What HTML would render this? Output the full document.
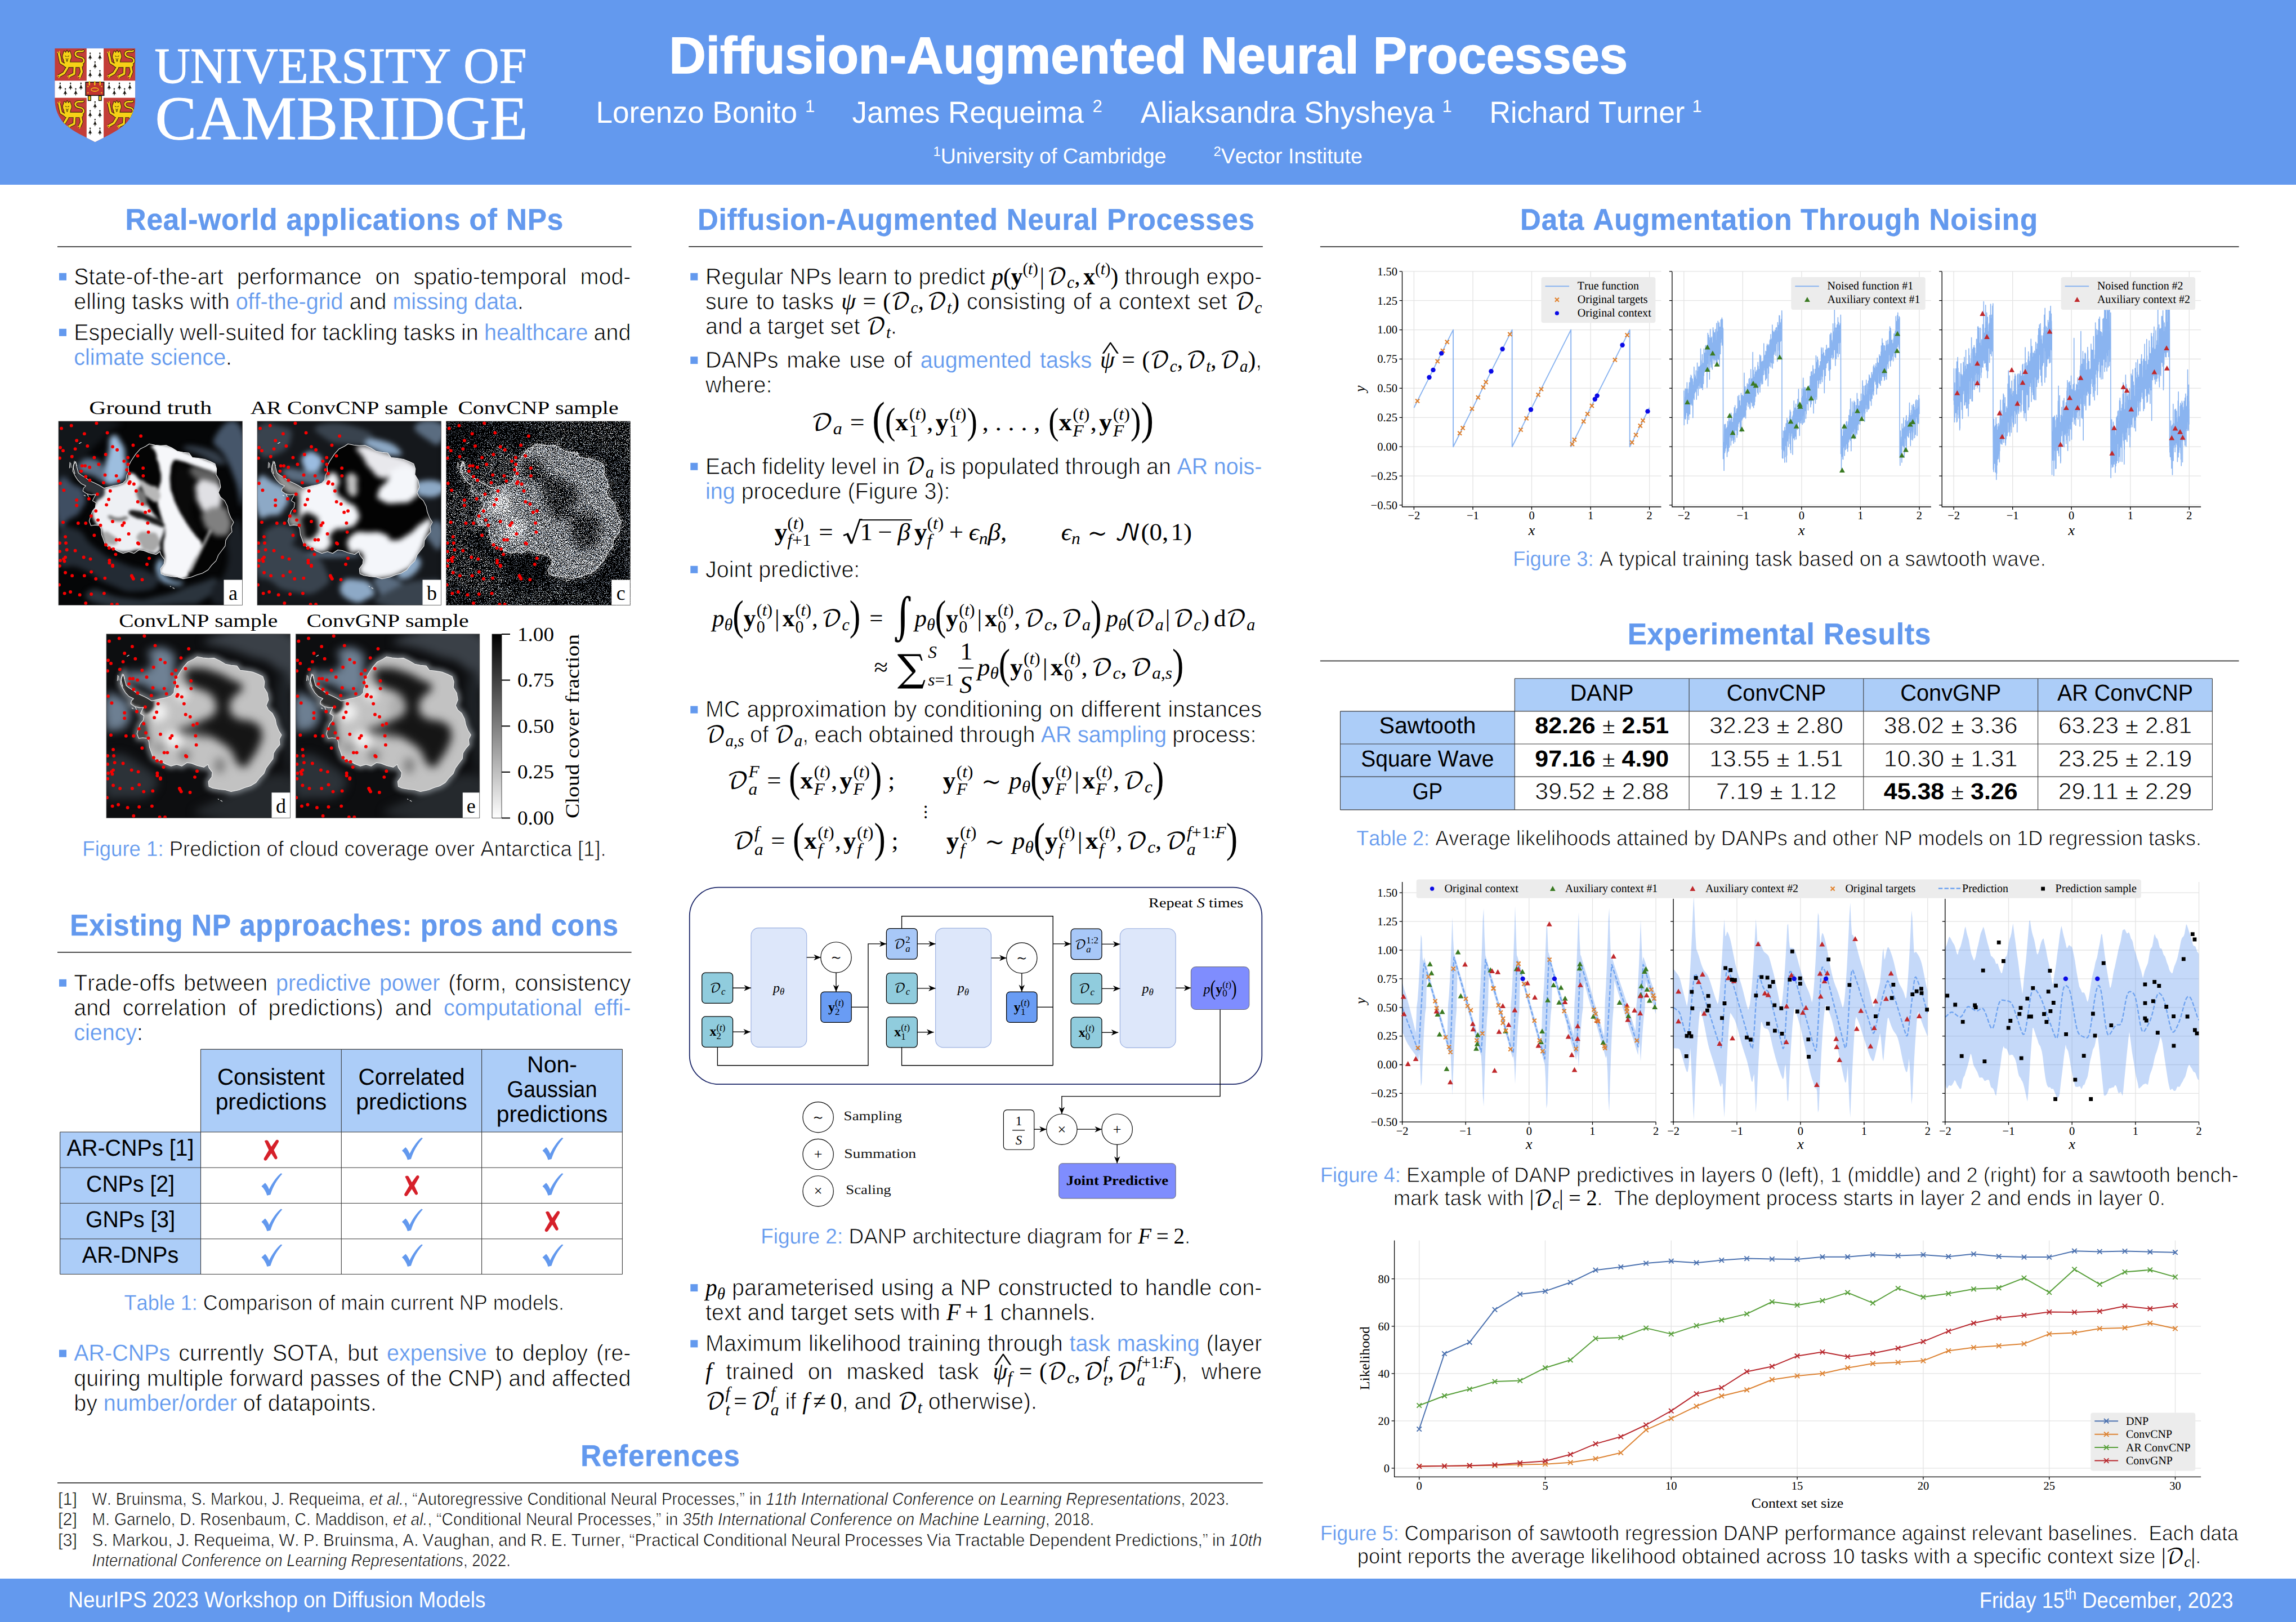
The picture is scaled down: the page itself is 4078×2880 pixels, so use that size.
<!DOCTYPE html>
<html lang="en">
<head>
<meta charset="utf-8">
<title>Diffusion-Augmented Neural Processes</title>
<style>
html,body{margin:0;padding:0;background:#fff;}
body{width:4078px;height:2880px;position:relative;font-family:"Liberation Sans",sans-serif;}
#poster{position:absolute;left:0;top:0;width:4078px;height:2880px;background:#fff;overflow:hidden;}
#hdr{position:absolute;left:0;top:0;width:4078px;height:328px;background:#6399EE;}
#ftr{position:absolute;left:0;top:2803px;width:4078px;height:77px;background:#6399EE;}
#content{position:absolute;left:0;top:0;width:4078px;height:2880px;}
svg text{font-kerning:none;font-variant-ligatures:none;white-space:pre;text-rendering:geometricPrecision;}
</style>
</head>
<body>
<div id="poster">
<header id="hdr"></header>
<footer id="ftr"></footer>
<svg id="content" width="4078" height="2880" viewBox="0 0 4078 2880">
<g id="crest" transform="translate(90,78) scale(0.110957)"><defs><clipPath id="shc"><path d="M65 70 H1355 V880 C1352 1010 1320 1120 1240 1230 C1150 1340 1010 1420 848 1500 L710 1570 L575 1500 C410 1420 270 1340 180 1230 C100 1120 68 1010 65 880 Z"/></clipPath><g id="lion"><path d="M385 215 C470 210 450 120 370 115 C290 105 280 30 350 20 C390 15 410 30 430 12" stroke="#1d1a05" stroke-width="42" fill="none" stroke-linecap="round" stroke-linejoin="round"/><path d="M160 235 L390 235" stroke="#1d1a05" stroke-width="94" fill="none" stroke-linecap="round" stroke-linejoin="round"/><path d="M150 250 L70 200 L40 60" stroke="#1d1a05" stroke-width="50" fill="none" stroke-linecap="round" stroke-linejoin="round"/><path d="M175 280 L120 370 L50 410" stroke="#1d1a05" stroke-width="52" fill="none" stroke-linecap="round" stroke-linejoin="round"/><path d="M290 280 L285 380 L210 415" stroke="#1d1a05" stroke-width="50" fill="none" stroke-linecap="round" stroke-linejoin="round"/><path d="M385 250 L405 350 L375 420" stroke="#1d1a05" stroke-width="52" fill="none" stroke-linecap="round" stroke-linejoin="round"/><path d="M110 60 L125 15 L150 45 L170 5 L190 45 L215 15 L230 60 C245 90 240 130 225 150 L215 200 L170 215 L125 200 L115 150 C100 130 95 90 110 60Z" fill="#1d1a05" stroke="#1d1a05" stroke-width="16" stroke-linejoin="round"/><path d="M385 215 C470 210 450 120 370 115 C290 105 280 30 350 20 C390 15 410 30 430 12" stroke="#F7D117" stroke-width="26" fill="none" stroke-linecap="round" stroke-linejoin="round"/><path d="M160 235 L390 235" stroke="#F7D117" stroke-width="78" fill="none" stroke-linecap="round" stroke-linejoin="round"/><path d="M150 250 L70 200 L40 60" stroke="#F7D117" stroke-width="34" fill="none" stroke-linecap="round" stroke-linejoin="round"/><path d="M175 280 L120 370 L50 410" stroke="#F7D117" stroke-width="36" fill="none" stroke-linecap="round" stroke-linejoin="round"/><path d="M290 280 L285 380 L210 415" stroke="#F7D117" stroke-width="34" fill="none" stroke-linecap="round" stroke-linejoin="round"/><path d="M385 250 L405 350 L375 420" stroke="#F7D117" stroke-width="36" fill="none" stroke-linecap="round" stroke-linejoin="round"/><path d="M110 60 L125 15 L150 45 L170 5 L190 45 L215 15 L230 60 C245 90 240 130 225 150 L215 200 L170 215 L125 200 L115 150 C100 130 95 90 110 60Z" fill="#F7D117"/><path d="M140 95 l20 8 M200 95 l-20 8 M150 140 q20 22 40 0 M160 160 l10 25 l10 -25" stroke="#1d1a05" stroke-width="9" fill="none" stroke-linecap="round"/><path d="M40 405 l-25 12 M55 420 l-20 22 M205 410 l-25 12 M215 425 l-20 22 M370 415 l-25 14 M385 428 l-15 24 M35 55 l-18 -22 M50 50 l-2 -30" stroke="#F7D117" stroke-width="14" fill="none" stroke-linecap="round"/></g><path id="erm" d="M0 -62 a11 11 0 1 1 -0.1 0 Z M0 -42 C5 -10 14 10 32 34 L10 26 L0 62 L-10 26 L-32 34 C-14 10 -5 -10 0 -42 Z" fill="#15130c"/></defs><g clip-path="url(#shc)"><rect x="60" y="60" width="1300" height="1520" fill="#C33D38"/><rect x="575" y="60" width="273" height="1520" fill="#fff"/><rect x="60" y="588" width="1300" height="274" fill="#fff"/><use href="#lion" transform="translate(92,98) scale(1.0)"/><use href="#lion" transform="translate(892,98) scale(1.0)"/><use href="#lion" transform="translate(98,905) scale(0.98)"/><use href="#lion" transform="translate(892,905) scale(0.98)"/><use href="#erm" x="632" y="200"/><use href="#erm" x="788" y="200"/><use href="#erm" x="710" y="340"/><use href="#erm" x="632" y="480"/><use href="#erm" x="788" y="480"/><use href="#erm" x="710" y="980"/><use href="#erm" x="632" y="1120"/><use href="#erm" x="788" y="1120"/><use href="#erm" x="710" y="1260"/><use href="#erm" x="632" y="1400"/><use href="#erm" x="788" y="1400"/><use href="#erm" x="152" y="680"/><use href="#erm" x="318" y="680"/><use href="#erm" x="485" y="680"/><use href="#erm" x="235" y="770"/><use href="#erm" x="401" y="770"/><use href="#erm" x="935" y="680"/><use href="#erm" x="1100" y="680"/><use href="#erm" x="1267" y="680"/><use href="#erm" x="1018" y="770"/><use href="#erm" x="1183" y="770"/><path d="M600 830 h42 v76 h-42z M770 830 h42 v76 h-42z" fill="#F7D117" stroke="#15130c" stroke-width="12"/><rect x="560" y="612" width="293" height="212" fill="#C0322E" stroke="#15130c" stroke-width="14"/><ellipse cx="706" cy="730" rx="58" ry="27" fill="none" stroke="#F7D117" stroke-width="12"/><path d="M620 602 v52 M706 602 v52 M790 602 v52" stroke="#F7D117" stroke-width="20" stroke-linecap="round"/><g fill="#F7D117"><circle cx="598" cy="682" r="10"/><circle cx="815" cy="682" r="10"/><circle cx="598" cy="782" r="10"/><circle cx="815" cy="782" r="10"/></g></g></g>
<g stroke="#fff" stroke-width="1.1" stroke-linejoin="round">
<g transform="translate(274.5,146.8) scale(0.9756,1)"><text font-family="'Liberation Serif', serif" font-size="90" fill="#fff"><tspan x="0" y="0">UNIVERSITY OF</tspan></text></g>
<g transform="translate(275.5,247) scale(1.0029,1)"><text font-family="'Liberation Serif', serif" font-size="110" fill="#fff"><tspan x="0" y="0">CAMBRIDGE</tspan></text></g>
</g>
<g stroke="#fff" stroke-width="1.6" stroke-linejoin="round"><g transform="translate(1188.5,130) scale(0.9824,1)"><text font-family="'Liberation Sans', sans-serif" font-weight="bold" font-size="92" fill="#fff"><tspan x="0" y="0">Diffusion-Augmented Neural Processes</tspan></text></g></g>
<g transform="translate(1058.5,217.5) scale(0.9841,1)"><text font-family="'Liberation Sans', sans-serif" font-size="54" fill="#fff"><tspan x="0" y="0">Lorenzo Bonito</tspan></text></g><g transform="translate(1430,199.3)"><text font-family="'Liberation Sans', sans-serif" font-size="31" fill="#fff"><tspan x="0" y="0">1</tspan></text></g>
<g transform="translate(1513.5,217.5) scale(0.9793,1)"><text font-family="'Liberation Sans', sans-serif" font-size="54" fill="#fff"><tspan x="0" y="0">James Requeima</tspan></text></g><g transform="translate(1940.5,199.3)"><text font-family="'Liberation Sans', sans-serif" font-size="31" fill="#fff"><tspan x="0" y="0">2</tspan></text></g>
<g transform="translate(2026,217.5) scale(0.9764,1)"><text font-family="'Liberation Sans', sans-serif" font-size="54" fill="#fff"><tspan x="0" y="0">Aliaksandra Shysheya</tspan></text></g><g transform="translate(2561.5,199.3)"><text font-family="'Liberation Sans', sans-serif" font-size="31" fill="#fff"><tspan x="0" y="0">1</tspan></text></g>
<g transform="translate(2645.4,217.5) scale(0.9636,1)"><text font-family="'Liberation Sans', sans-serif" font-size="54" fill="#fff"><tspan x="0" y="0">Richard Turner</tspan></text></g><g transform="translate(3005.5,199.3)"><text font-family="'Liberation Sans', sans-serif" font-size="31" fill="#fff"><tspan x="0" y="0">1</tspan></text></g>
<g transform="translate(1657.5,290) scale(0.9885,1)"><text font-family="'Liberation Sans', sans-serif" font-size="38" fill="#fff"><tspan x="0" y="-13" font-size="24">1</tspan><tspan x="13.35" y="0">University of Cambridge</tspan></text></g>
<g transform="translate(2155.4,290) scale(0.9917,1)"><text font-family="'Liberation Sans', sans-serif" font-size="38" fill="#fff"><tspan x="0" y="-13" font-size="24">2</tspan><tspan x="13.35" y="0">Vector Institute</tspan></text></g>
<g transform="translate(121.3,2854) scale(0.9207,1)"><text font-family="'Liberation Sans', sans-serif" font-size="40" fill="#fff"><tspan x="0" y="0">NeurIPS 2023 Workshop on Diffusion Models</tspan></text></g>
<g transform="translate(3515.8,2854.6) scale(0.9070,1)"><text font-family="'Liberation Sans', sans-serif" font-size="40" fill="#fff"><tspan x="0" y="0">Friday 15</tspan><tspan x="166.74" y="-15" font-size="28">th</tspan><tspan x="190.09" y="0"> December, 2023</tspan></text></g>
<g stroke="#6399EE" stroke-width="0.5" stroke-linejoin="round"><g transform="translate(222.5,408.1) scale(0.9592,1)"><text font-family="'Liberation Sans', sans-serif" font-weight="bold" font-size="53.5" fill="#6399EE"><tspan x="0" y="0" letter-spacing="0.9">Real-world applications of NPs</tspan></text></g></g><rect x="102" y="437.3" width="1019.6" height="1.6" fill="#222"/>
<rect x="105" y="484.8" width="13" height="13" fill="#6399EE"/>
<g transform="translate(131.2,504.5) scale(0.9630,1)"><text font-family="'Liberation Sans', sans-serif" font-size="41" fill="#000" word-spacing="13.57" stroke="#fff" stroke-width="0.9"><tspan x="0" y="0">State-of-the-art performance on spatio-temporal mod-</tspan></text></g>
<g transform="translate(131.2,549.2) scale(0.9630,1)"><text font-family="'Liberation Sans', sans-serif" font-size="41" fill="#000" stroke="#fff" stroke-width="0.9"><tspan x="0" y="0">elling tasks with </tspan><tspan x="298.51" y="0" fill="#6399EE" stroke="#fff" stroke-width="0.3">off-the-grid</tspan><tspan x="496.76" y="0"> and </tspan><tspan x="587.95" y="0" fill="#6399EE" stroke="#fff" stroke-width="0.3">missing data</tspan><tspan x="818.12" y="0">.</tspan></text></g>
<rect x="105" y="583.8" width="13" height="13" fill="#6399EE"/>
<g transform="translate(131.2,603.5) scale(0.9630,1)"><text font-family="'Liberation Sans', sans-serif" font-size="41" fill="#000" word-spacing="-0.72" stroke="#fff" stroke-width="0.9"><tspan x="0" y="0">Especially well-suited for tackling tasks in </tspan><tspan x="756.77" y="0" fill="#6399EE" stroke="#fff" stroke-width="0.3">healthcare</tspan><tspan x="948.23" y="0"> and</tspan></text></g>
<g transform="translate(131.2,647.5) scale(0.9630,1)"><text font-family="'Liberation Sans', sans-serif" font-size="41" fill="#000" stroke="#fff" stroke-width="0.9"><tspan x="0" y="0" fill="#6399EE" stroke="#fff" stroke-width="0.3">climate science</tspan><tspan x="280.27" y="0">.</tspan></text></g>
<g transform="translate(146.3,1519.8) scale(0.9618,1)"><text font-family="'Liberation Sans', sans-serif" font-size="38" fill="#000" stroke="#fff" stroke-width="0.9"><tspan x="0" y="0" fill="#6399EE" stroke="#fff" stroke-width="0.3">Figure 1: </tspan><tspan x="160.52" y="0">Prediction of cloud coverage over Antarctica [1].</tspan></text></g>
<g stroke="#6399EE" stroke-width="0.5" stroke-linejoin="round"><g transform="translate(124.3,1660.8) scale(0.9334,1)"><text font-family="'Liberation Sans', sans-serif" font-weight="bold" font-size="53.5" fill="#6399EE"><tspan x="0" y="0" letter-spacing="0.9">Existing NP approaches: pros and cons</tspan></text></g></g><rect x="102" y="1690" width="1019.6" height="1.6" fill="#222"/>
<rect x="105" y="1738.8" width="13" height="13" fill="#6399EE"/>
<g transform="translate(131.2,1758.5) scale(0.9630,1)"><text font-family="'Liberation Sans', sans-serif" font-size="41" fill="#000" word-spacing="4.02" stroke="#fff" stroke-width="0.9"><tspan x="0" y="0">Trade-offs between </tspan><tspan x="372.68" y="0" fill="#6399EE" stroke="#fff" stroke-width="0.3">predictive power</tspan><tspan x="675.23" y="0"> (form, consistency</tspan></text></g>
<g transform="translate(131.2,1803) scale(0.9630,1)"><text font-family="'Liberation Sans', sans-serif" font-size="41" fill="#000" word-spacing="10.16" stroke="#fff" stroke-width="0.9"><tspan x="0" y="0">and correlation of predictions) and </tspan><tspan x="682.14" y="0" fill="#6399EE" stroke="#fff" stroke-width="0.3">computational effi-</tspan></text></g>
<g transform="translate(131.2,1846.9) scale(0.9630,1)"><text font-family="'Liberation Sans', sans-serif" font-size="41" fill="#000" stroke="#fff" stroke-width="0.9"><tspan x="0" y="0" fill="#6399EE" stroke="#fff" stroke-width="0.3">ciency</tspan><tspan x="116.21" y="0">:</tspan></text></g>
<rect x="356.5" y="1863.1" width="748.9" height="146.9" fill="#ACCDF8"/>
<rect x="106.6" y="2010" width="249.9" height="252.5" fill="#ACCDF8"/>
<path d="M356.5 1863.1H1105.4M106.6 2010H1105.4M106.6 2073.2H1105.4M106.6 2136.5H1105.4M106.6 2199.7H1105.4M106.6 2262.5H1105.4M106.6 2010V2262.5M356.5 1863.1V2262.5M606.3 1863.1V2262.5M855.6 1863.1V2262.5M1105.4 1863.1V2262.5" stroke="#3a3a3a" stroke-width="1.1" fill="none"/>
<g transform="translate(385.9,1925.9) scale(0.9860,1)"><text font-family="'Liberation Sans', sans-serif" font-size="41" fill="#000"><tspan x="0" y="0">Consistent</tspan></text></g>
<g transform="translate(382.65,1970.3) scale(0.9961,1)"><text font-family="'Liberation Sans', sans-serif" font-size="41" fill="#000"><tspan x="0" y="0">predictions</tspan></text></g>
<g transform="translate(636.45,1925.9) scale(0.9873,1)"><text font-family="'Liberation Sans', sans-serif" font-size="41" fill="#000"><tspan x="0" y="0">Correlated</tspan></text></g>
<g transform="translate(632.2,1970.3) scale(0.9961,1)"><text font-family="'Liberation Sans', sans-serif" font-size="41" fill="#000"><tspan x="0" y="0">predictions</tspan></text></g>
<g transform="translate(936,1903.9) scale(1.0015,1)"><text font-family="'Liberation Sans', sans-serif" font-size="41" fill="#000"><tspan x="0" y="0">Non-</tspan></text></g>
<g transform="translate(900.5,1947.8) scale(0.9237,1)"><text font-family="'Liberation Sans', sans-serif" font-size="41" fill="#000"><tspan x="0" y="0">Gaussian</tspan></text></g>
<g transform="translate(881.75,1992.2) scale(0.9961,1)"><text font-family="'Liberation Sans', sans-serif" font-size="41" fill="#000"><tspan x="0" y="0">predictions</tspan></text></g>
<g transform="translate(118.55,2052.3) scale(0.9631,1)"><text font-family="'Liberation Sans', sans-serif" font-size="41" fill="#000"><tspan x="0" y="0">AR-CNPs [1]</tspan></text></g>
<g transform="translate(153.05,2115.6) scale(0.9571,1)"><text font-family="'Liberation Sans', sans-serif" font-size="41" fill="#000"><tspan x="0" y="0">CNPs [2]</tspan></text></g>
<g transform="translate(152.05,2178.8) scale(0.9560,1)"><text font-family="'Liberation Sans', sans-serif" font-size="41" fill="#000"><tspan x="0" y="0">GNPs [3]</tspan></text></g>
<g transform="translate(145.8,2242) scale(0.9653,1)"><text font-family="'Liberation Sans', sans-serif" font-size="41" fill="#000"><tspan x="0" y="0">AR-DNPs</tspan></text></g>
<path transform="translate(481.9,2042.1) scale(1)" d="M-12 -16 C-10 -18 -7 -18 -5.5 -16 L0 -6 L8 -17 C10 -19.500 14 -18 13 -14.500 L4.5 0 L10.5 12.5 C11.5 15.5 8 17.5 6 15.5 L0 6 L-8 17.5 C-10 20 -14.500 18 -13 14.500 L-4.500 0 Z" fill="#D6202A"/>
<path transform="translate(731.45,2039.6) scale(1)" d="M-17.5 3.5 L-11 -2.5 C-8 0.5 -5.5 4.5 -4 9 C2 -3 9.5 -13.5 17 -19.5 L19.5 -18.5 C10 -8 3 4 -1.5 18.5 L-7.5 20 C-9.500 13 -13 7.5 -17.5 3.500 Z" fill="#6399EE"/>
<path transform="translate(981,2039.6) scale(1)" d="M-17.5 3.5 L-11 -2.5 C-8 0.5 -5.5 4.5 -4 9 C2 -3 9.5 -13.5 17 -19.5 L19.5 -18.5 C10 -8 3 4 -1.5 18.5 L-7.5 20 C-9.500 13 -13 7.5 -17.5 3.500 Z" fill="#6399EE"/>
<path transform="translate(481.9,2102.85) scale(1)" d="M-17.5 3.5 L-11 -2.5 C-8 0.5 -5.5 4.5 -4 9 C2 -3 9.5 -13.5 17 -19.5 L19.5 -18.5 C10 -8 3 4 -1.5 18.5 L-7.5 20 C-9.500 13 -13 7.5 -17.5 3.500 Z" fill="#6399EE"/>
<path transform="translate(731.45,2105.35) scale(1)" d="M-12 -16 C-10 -18 -7 -18 -5.5 -16 L0 -6 L8 -17 C10 -19.500 14 -18 13 -14.500 L4.5 0 L10.5 12.5 C11.5 15.5 8 17.5 6 15.5 L0 6 L-8 17.5 C-10 20 -14.500 18 -13 14.500 L-4.500 0 Z" fill="#D6202A"/>
<path transform="translate(981,2102.85) scale(1)" d="M-17.5 3.5 L-11 -2.5 C-8 0.5 -5.5 4.5 -4 9 C2 -3 9.5 -13.5 17 -19.5 L19.5 -18.5 C10 -8 3 4 -1.5 18.5 L-7.5 20 C-9.500 13 -13 7.5 -17.5 3.500 Z" fill="#6399EE"/>
<path transform="translate(481.9,2166.1) scale(1)" d="M-17.5 3.5 L-11 -2.5 C-8 0.5 -5.5 4.5 -4 9 C2 -3 9.5 -13.5 17 -19.5 L19.5 -18.5 C10 -8 3 4 -1.5 18.5 L-7.5 20 C-9.500 13 -13 7.5 -17.5 3.500 Z" fill="#6399EE"/>
<path transform="translate(731.45,2166.1) scale(1)" d="M-17.5 3.5 L-11 -2.5 C-8 0.5 -5.5 4.5 -4 9 C2 -3 9.5 -13.5 17 -19.5 L19.5 -18.5 C10 -8 3 4 -1.5 18.5 L-7.5 20 C-9.500 13 -13 7.5 -17.5 3.500 Z" fill="#6399EE"/>
<path transform="translate(981,2168.6) scale(1)" d="M-12 -16 C-10 -18 -7 -18 -5.5 -16 L0 -6 L8 -17 C10 -19.500 14 -18 13 -14.500 L4.5 0 L10.5 12.5 C11.5 15.5 8 17.5 6 15.5 L0 6 L-8 17.5 C-10 20 -14.500 18 -13 14.500 L-4.500 0 Z" fill="#D6202A"/>
<path transform="translate(481.9,2229.1) scale(1)" d="M-17.5 3.5 L-11 -2.5 C-8 0.5 -5.5 4.5 -4 9 C2 -3 9.5 -13.5 17 -19.5 L19.5 -18.5 C10 -8 3 4 -1.5 18.5 L-7.5 20 C-9.500 13 -13 7.5 -17.5 3.500 Z" fill="#6399EE"/>
<path transform="translate(731.45,2229.1) scale(1)" d="M-17.5 3.5 L-11 -2.5 C-8 0.5 -5.5 4.5 -4 9 C2 -3 9.5 -13.5 17 -19.5 L19.5 -18.5 C10 -8 3 4 -1.5 18.5 L-7.5 20 C-9.500 13 -13 7.5 -17.5 3.500 Z" fill="#6399EE"/>
<path transform="translate(981,2229.1) scale(1)" d="M-17.5 3.5 L-11 -2.5 C-8 0.5 -5.5 4.5 -4 9 C2 -3 9.5 -13.5 17 -19.5 L19.5 -18.5 C10 -8 3 4 -1.5 18.5 L-7.5 20 C-9.500 13 -13 7.5 -17.5 3.500 Z" fill="#6399EE"/>
<g transform="translate(220.6,2325.7) scale(0.9487,1)"><text font-family="'Liberation Sans', sans-serif" font-size="38" fill="#000" stroke="#fff" stroke-width="0.9"><tspan x="0" y="0" fill="#6399EE" stroke="#fff" stroke-width="0.3">Table 1: </tspan><tspan x="147.86" y="0">Comparison of main current NP models.</tspan></text></g>
<rect x="105" y="2396.7" width="13" height="13" fill="#6399EE"/>
<g transform="translate(131.2,2416.4) scale(0.9630,1)"><text font-family="'Liberation Sans', sans-serif" font-size="41" fill="#000" word-spacing="4.18" stroke="#fff" stroke-width="0.9"><tspan x="0" y="0" fill="#6399EE" stroke="#fff" stroke-width="0.3">AR-CNPs</tspan><tspan x="177.67" y="0"> currently SOTA, but </tspan><tspan x="577.2" y="0" fill="#6399EE" stroke="#fff" stroke-width="0.3">expensive</tspan><tspan x="761.82" y="0"> to deploy (re-</tspan></text></g>
<g transform="translate(131.2,2460.8) scale(0.9630,1)"><text font-family="'Liberation Sans', sans-serif" font-size="41" fill="#000" word-spacing="-0.06" stroke="#fff" stroke-width="0.9"><tspan x="0" y="0">quiring multiple forward passes of the CNP) and affected</tspan></text></g>
<g transform="translate(131.2,2505.2) scale(0.9630,1)"><text font-family="'Liberation Sans', sans-serif" font-size="41" fill="#000" stroke="#fff" stroke-width="0.9"><tspan x="0" y="0">by </tspan><tspan x="54.69" y="0" fill="#6399EE" stroke="#fff" stroke-width="0.3">number/order</tspan><tspan x="300.81" y="0"> of datapoints.</tspan></text></g>
<defs><filter id="f1b12" x="-30%" y="-30%" width="160%" height="160%" color-interpolation-filters="sRGB"><feGaussianBlur stdDeviation="12"/></filter><filter id="f1b25" x="-30%" y="-30%" width="160%" height="160%" color-interpolation-filters="sRGB"><feGaussianBlur stdDeviation="25"/></filter><filter id="f1b40" x="-30%" y="-30%" width="160%" height="160%" color-interpolation-filters="sRGB"><feGaussianBlur stdDeviation="40"/></filter><filter id="f1b6" x="-30%" y="-30%" width="160%" height="160%" color-interpolation-filters="sRGB"><feGaussianBlur stdDeviation="6"/></filter><path id="f1coast" d="M150 355L160 400L175 455L200 475L240 500L275 525L320 545L360 565L400 590L440 580L480 570L530 560L570 545L595 520L600 480L620 440L615 400L640 350L680 290L720 245L770 220L800 200L850 210L900 215L950 212L1000 235L1050 265L1100 275L1150 280L1180 320L1230 325L1290 335L1340 355L1380 375L1395 420L1390 470L1420 520L1430 580L1410 630L1430 670L1465 700L1490 750L1500 800L1520 850L1545 890L1525 930L1530 975L1500 1010L1475 1050L1470 1100L1440 1140L1410 1180L1390 1230L1350 1270L1320 1310L1270 1340L1220 1355L1170 1375L1100 1390L1050 1375L1000 1370L940 1360L905 1345L900 1300L930 1260L935 1220L905 1180L895 1150L860 1175L800 1160L750 1140L710 1135L665 1165L620 1150L570 1165L520 1145L480 1120L440 1110L410 1085L395 1040L380 1000L375 950L360 920L320 915L285 920L270 880L285 830L300 790L325 760L330 720L300 700L320 660L330 645L290 650L250 640L215 615L220 590L240 570L200 550L170 520L145 480L125 440L130 390Z"/><clipPath id="f1land"><use href="#f1coast"/></clipPath><g id="f1dots" fill="#F60000"><circle cx="25" cy="63" r="14.6"/><circle cx="113" cy="38" r="14.6"/><circle cx="335" cy="17" r="14.6"/><circle cx="228" cy="110" r="14.6"/><circle cx="430" cy="102" r="14.6"/><circle cx="726" cy="130" r="14.6"/><circle cx="160" cy="170" r="14.6"/><circle cx="255" cy="218" r="14.6"/><circle cx="477" cy="225" r="14.6"/><circle cx="658" cy="211" r="14.6"/><circle cx="15" cy="232" r="14.6"/><circle cx="40" cy="259" r="14.6"/><circle cx="147" cy="244" r="14.6"/><circle cx="517" cy="252" r="14.6"/><circle cx="416" cy="293" r="14.6"/><circle cx="698" cy="305" r="14.6"/><circle cx="315" cy="320" r="14.6"/><circle cx="612" cy="320" r="14.6"/><circle cx="118" cy="312" r="14.6"/><circle cx="10" cy="325" r="14.6"/><circle cx="578" cy="352" r="14.6"/><circle cx="355" cy="380" r="14.6"/><circle cx="613" cy="380" r="14.6"/><circle cx="207" cy="393" r="14.6"/><circle cx="234" cy="393" r="14.6"/><circle cx="274" cy="406" r="14.6"/><circle cx="746" cy="413" r="14.6"/><circle cx="603" cy="428" r="14.6"/><circle cx="200" cy="440" r="14.6"/><circle cx="625" cy="461" r="14.6"/><circle cx="410" cy="474" r="14.6"/><circle cx="510" cy="481" r="14.6"/><circle cx="747" cy="481" r="14.6"/><circle cx="240" cy="488" r="14.6"/><circle cx="275" cy="520" r="14.6"/><circle cx="530" cy="527" r="14.6"/><circle cx="397" cy="542" r="14.6"/><circle cx="630" cy="535" r="14.6"/><circle cx="623" cy="548" r="14.6"/><circle cx="665" cy="554" r="14.6"/><circle cx="15" cy="548" r="14.6"/><circle cx="47" cy="608" r="14.6"/><circle cx="456" cy="615" r="14.6"/><circle cx="685" cy="615" r="14.6"/><circle cx="342" cy="643" r="14.6"/><circle cx="268" cy="684" r="14.6"/><circle cx="443" cy="689" r="14.6"/><circle cx="160" cy="695" r="14.6"/><circle cx="699" cy="710" r="14.6"/><circle cx="739" cy="730" r="14.6"/><circle cx="423" cy="737" r="14.6"/><circle cx="160" cy="743" r="14.6"/><circle cx="329" cy="791" r="14.6"/><circle cx="800" cy="791" r="14.6"/><circle cx="766" cy="803" r="14.6"/><circle cx="288" cy="836" r="14.6"/><circle cx="348" cy="871" r="14.6"/><circle cx="477" cy="884" r="14.6"/><circle cx="578" cy="897" r="14.6"/><circle cx="40" cy="891" r="14.6"/><circle cx="173" cy="899" r="14.6"/><circle cx="240" cy="899" r="14.6"/><circle cx="787" cy="898" r="14.6"/><circle cx="563" cy="918" r="14.6"/><circle cx="370" cy="918" r="14.6"/><circle cx="793" cy="978" r="14.6"/><circle cx="619" cy="993" r="14.6"/><circle cx="315" cy="1006" r="14.6"/><circle cx="60" cy="1019" r="14.6"/><circle cx="510" cy="1046" r="14.6"/><circle cx="538" cy="1046" r="14.6"/><circle cx="65" cy="1074" r="14.6"/><circle cx="10" cy="1074" r="14.6"/><circle cx="700" cy="1074" r="14.6"/><circle cx="707" cy="1081" r="14.6"/><circle cx="417" cy="1090" r="14.6"/><circle cx="447" cy="1118" r="14.6"/><circle cx="483" cy="1127" r="14.6"/><circle cx="73" cy="1134" r="14.6"/><circle cx="147" cy="1141" r="14.6"/><circle cx="10" cy="1148" r="14.6"/><circle cx="504" cy="1174" r="14.6"/><circle cx="222" cy="1200" r="14.6"/><circle cx="60" cy="1200" r="14.6"/><circle cx="45" cy="1215" r="14.6"/><circle cx="15" cy="1228" r="14.6"/><circle cx="52" cy="1235" r="14.6"/><circle cx="281" cy="1215" r="14.6"/><circle cx="800" cy="1209" r="14.6"/><circle cx="449" cy="1227" r="14.6"/><circle cx="449" cy="1249" r="14.6"/><circle cx="780" cy="1262" r="14.6"/><circle cx="477" cy="1270" r="14.6"/><circle cx="477" cy="1278" r="14.6"/><circle cx="10" cy="1276" r="14.6"/><circle cx="60" cy="1335" r="14.6"/><circle cx="289" cy="1329" r="14.6"/><circle cx="120" cy="1362" r="14.6"/><circle cx="228" cy="1362" r="14.6"/><circle cx="645" cy="1362" r="14.6"/><circle cx="652" cy="1376" r="14.6"/><circle cx="660" cy="1390" r="14.6"/><circle cx="329" cy="1390" r="14.6"/><circle cx="409" cy="1384" r="14.6"/><circle cx="738" cy="1397" r="14.6"/><circle cx="5" cy="1443" r="14.6"/><circle cx="53" cy="1518" r="14.6"/><circle cx="105" cy="1505" r="14.6"/><circle cx="187" cy="1531" r="14.6"/><circle cx="289" cy="1525" r="14.6"/><circle cx="402" cy="1518" r="14.6"/><circle cx="240" cy="1604" r="14.6"/><circle cx="470" cy="1615" r="14.6"/><circle cx="517" cy="1615" r="14.6"/></g><path id="f1isl" d="M100 362l-4 50M108 370l2 38M140 352l-10 60l14 50M152 362l8 30M182 196l18-10M112 318l16-14M985 1455l6 4M1008 1468l14 8M225 652l12 6M255 645l10 20" stroke="#fff" stroke-width="5" fill="none" stroke-linecap="round"/><filter id="f1noise" filterUnits="userSpaceOnUse" x="792.7" y="748" width="326.5" height="326.5" color-interpolation-filters="sRGB"><feTurbulence type="fractalNoise" baseFrequency="0.75" numOctaves="2" seed="7" result="n"/><feColorMatrix in="n" type="matrix" values="0 0 0 0 0  0 0 0 0 0  0 0 0 0 0  3.2 0 0 0 -1.1" result="na"/><feComposite in="SourceGraphic" in2="na" operator="arithmetic" k1="0" k2="1" k3="0" k4="0" result="s"/><feColorMatrix in="na" type="matrix" values="0 0 0 1 0  0 0 0 1 0  0 0 0 1 0  0 0 0 0 1" result="ng"/><feComposite in="SourceGraphic" in2="ng" operator="arithmetic" k1="0" k2="1" k3="1" k4="-0.5" result="sum"/><feComponentTransfer in="sum"><feFuncR type="linear" slope="5" intercept="-2.05"/><feFuncG type="linear" slope="5" intercept="-2"/><feFuncB type="linear" slope="5" intercept="-1.93"/></feComponentTransfer></filter></defs>
<g id="fig1a"><svg x="104" y="748" width="326.5" height="326.5" viewBox="0 0 1622 1622" preserveAspectRatio="none"><rect width="1622" height="1622" fill="#050607"/><g filter="url(#f1b25)"><path d="M0 0C166 -333 360 -40 500 0C640 40 503 20 420 120C336 220 350 166 250 300C150 433 183 353 120 520C56 686 100 640 60 800C20 960 20 1266 0 1000C-20 733 -166 333 0 0Z" fill="#12161a"/><path d="M470 130C510 103 520 133 560 200C600 266 576 253 590 330C603 406 616 363 600 430C583 496 606 496 540 530C473 563 443 573 400 530C356 486 396 483 410 400C423 316 420 370 440 280C460 190 430 156 470 130Z" fill="#9DBEDF"/><path d="M180 380C213 340 226 316 300 330C373 343 370 356 400 420C430 483 423 500 390 520C356 540 363 503 300 480C236 456 240 483 200 450C160 416 146 420 180 380Z" fill="#5c7188"/><path d="M0 540C46 426 63 523 140 560C216 596 210 576 230 650C250 723 243 710 200 780C156 850 166 820 100 860C33 900 33 1006 0 900C-33 793 -46 653 0 540Z" fill="#3f4e62"/><path d="M0 1000C50 900 40 910 150 950C260 990 193 1020 330 1120C466 1220 403 1180 560 1250C716 1320 693 1273 800 1330C906 1386 913 1363 880 1420C846 1476 843 1493 700 1500C556 1506 616 1506 450 1440C283 1373 350 1363 200 1300C50 1236 66 1350 0 1250C-66 1150 -50 1100 0 1000Z" fill="#232b34"/><path d="M300 1480C366 1459 400 1540 600 1560C800 1580 700 1580 900 1540C1100 1500 1033 1486 1200 1440C1366 1393 1366 1360 1400 1400C1433 1440 1433 1486 1300 1560C1166 1634 1300 1601 1000 1622C700 1642 633 1669 400 1622C166 1574 233 1500 300 1480Z" fill="#2b343d"/><path d="M1380 140C1427 56 1541 -106 1622 80C1702 266 1642 553 1622 700C1601 846 1607 643 1560 520C1512 396 1540 456 1480 330C1420 203 1332 223 1380 140Z" fill="#46566a"/><path d="M1100 230C1116 210 1183 206 1300 240C1416 273 1410 283 1450 330C1490 376 1486 390 1420 380C1353 370 1356 350 1250 300C1143 250 1083 250 1100 230Z" fill="#343e4a"/><path d="M1500 1000C1547 883 1581 783 1622 950C1662 1116 1679 1276 1622 1500C1564 1724 1540 1622 1450 1622C1359 1622 1340 1607 1350 1500C1360 1392 1430 1466 1480 1300C1530 1133 1452 1116 1500 1000Z" fill="#1a1f25"/><path d="M880 1230C896 1193 916 1216 930 1250C943 1283 896 1280 920 1330C943 1380 940 1370 1000 1400C1060 1430 1100 1406 1100 1420C1100 1433 1073 1460 1000 1440C926 1420 920 1430 880 1360C840 1290 863 1266 880 1230Z" fill="#8fb0d0"/></g><g clip-path="url(#f1land)"><rect width="1622" height="1622" fill="#040404"/><g filter="url(#f1b25)"><path d="M1230 540C1268 496 1266 500 1330 510C1393 520 1383 510 1420 570C1456 630 1450 620 1440 690C1430 760 1436 743 1390 780C1343 816 1350 816 1300 800C1250 783 1268 783 1240 730C1211 676 1218 703 1215 640C1211 576 1191 583 1230 540Z" fill="#e0e0e4"/><path d="M1290 800C1340 756 1360 753 1430 760C1500 766 1473 753 1500 820C1526 886 1533 896 1510 960C1486 1023 1486 1006 1430 1010C1373 1013 1390 1010 1340 970C1290 930 1296 946 1280 890C1263 833 1240 843 1290 800Z" fill="#808080"/><path d="M1170 410C1203 383 1223 403 1300 420C1376 436 1363 420 1400 460C1436 500 1443 520 1410 540C1376 560 1370 533 1300 520C1230 506 1243 536 1200 500C1156 463 1136 436 1170 410Z" fill="#606060"/><path d="M1040 420C1083 350 1096 380 1150 440C1203 500 1190 480 1200 600C1210 720 1170 683 1180 800C1190 916 1230 883 1230 950C1230 1016 1230 1033 1180 1000C1130 966 1133 966 1080 850C1026 733 1033 793 1020 650C1006 506 996 490 1040 420Z" fill="#0a0a0a"/></g><g filter="url(#f1b12)"><path d="M410 590C460 560 466 583 530 560C593 536 566 553 600 520C633 486 596 466 630 460C663 453 670 466 700 500C730 533 720 520 720 560C720 600 686 580 700 620C713 660 726 633 760 680C793 726 766 706 800 760C833 813 820 793 860 840C900 886 896 860 920 900C943 940 936 906 930 960C923 1013 916 996 900 1060C883 1123 913 1116 880 1150C846 1183 856 1165 800 1160C743 1155 770 1138 710 1135C650 1131 683 1146 620 1150C556 1153 580 1158 520 1145C460 1131 481 1145 440 1110C398 1075 416 1093 395 1040C373 986 396 996 375 950C353 903 355 950 330 900C305 850 300 860 300 800C300 740 303 770 330 720C356 670 353 693 380 650C406 606 360 620 410 590Z" fill="#eef0f4"/><path d="M830 215C863 199 843 188 950 212C1056 235 1036 244 1150 285C1263 326 1208 301 1290 335C1371 368 1358 346 1395 385C1431 423 1425 435 1400 450C1375 465 1386 450 1320 430C1253 410 1280 416 1200 390C1120 363 1146 366 1080 350C1013 333 1060 346 1000 340C940 333 950 356 900 330C850 303 873 298 850 260C826 221 796 231 830 215Z" fill="#f6f7fa"/><path d="M880 300C916 273 963 280 1000 320C1036 360 995 343 990 420C985 496 978 470 985 550C991 630 988 590 1010 660C1031 730 1020 696 1050 760C1080 823 1066 793 1100 850C1133 906 1113 876 1150 930C1186 983 1173 960 1210 1010C1246 1060 1250 1033 1260 1080C1270 1126 1260 1103 1240 1150C1220 1196 1226 1170 1200 1220C1173 1270 1190 1245 1160 1300C1130 1355 1163 1361 1110 1385C1056 1409 1068 1385 1000 1372C931 1358 938 1369 905 1345C871 1321 890 1341 900 1300C910 1258 926 1286 935 1220C943 1153 923 1180 925 1100C926 1020 940 1046 940 980C940 913 940 960 925 900C910 840 911 866 895 800C878 733 878 766 875 700C871 633 875 666 885 600C895 533 903 566 905 500C906 433 898 466 890 400C881 333 843 326 880 300Z" fill="#f6f7fa"/><path d="M150 370C183 376 166 426 250 500C333 573 370 523 400 590C430 656 373 683 340 700C306 716 340 673 300 640C260 606 270 653 220 600C170 546 173 556 150 480C126 403 116 363 150 370Z" fill="#30343a"/><path d="M720 520C740 506 746 533 800 560C853 586 853 553 880 600C906 646 906 673 880 700C853 726 846 713 800 680C753 646 766 653 740 600C713 546 700 533 720 520Z" fill="#b8b8b8"/><path d="M620 800C626 780 640 780 700 790C760 800 733 800 800 830C866 860 856 846 900 880C943 913 946 920 930 930C913 940 906 930 850 910C793 890 816 890 760 870C703 850 726 873 680 850C633 826 613 820 620 800Z" fill="#1a1a1a"/><path d="M450 830C473 826 470 846 520 850C570 853 576 833 600 840C623 846 620 856 590 870C560 883 556 883 510 880C463 876 470 876 450 860C430 843 426 833 450 830Z" fill="#777"/><path d="M700 1000C726 966 740 973 800 980C860 986 856 973 880 1020C903 1066 903 1080 870 1120C836 1160 830 1153 780 1140C730 1126 746 1126 720 1080C693 1033 673 1033 700 1000Z" fill="#a8a8a8"/><path d="M400 980C423 966 430 973 470 1000C510 1026 523 1030 520 1060C516 1090 500 1096 460 1090C420 1083 420 1076 400 1040C380 1003 376 993 400 980Z" fill="#aaa"/><path d="M690 600C703 580 710 580 740 620C770 660 780 680 780 720C780 760 766 753 740 740C713 726 716 726 700 680C683 633 676 620 690 600Z" fill="#777"/><path d="M1345 955 L1160 1330" stroke="#b4b4b4" stroke-width="20" fill="none"/></g></g></svg><svg x="104" y="748" width="326.5" height="326.5" viewBox="0 0 1622 1622" preserveAspectRatio="none"><use href="#f1coast" fill="none" stroke="#f4f4f4" stroke-width="5" stroke-linejoin="round"/><use href="#f1isl"/><use href="#f1dots"/></svg><rect x="397.5" y="1029.5" width="33" height="45" fill="#fff"/><rect x="104" y="748" width="326.5" height="326.5" fill="none" stroke="#555" stroke-width="0.8"/><g transform="translate(406.01,1065)"><text font-family="'Liberation Serif', serif" font-size="36" fill="#000"><tspan x="0" y="0">a</tspan></text></g><g transform="translate(158.25,735) scale(1.2719,1)"><text font-family="'Liberation Serif', serif" font-size="33" fill="#000"><tspan x="0" y="0">Ground truth</tspan></text></g></g>
<g id="fig1b"><svg x="457" y="748" width="326.5" height="326.5" viewBox="0 0 1622 1622" preserveAspectRatio="none"><rect width="1622" height="1622" fill="#0c0e10"/><g filter="url(#f1b25)"><path d="M0 0L1622 0L1622 1622L0 1622Z" fill="#15181c"/><path d="M420 290C463 256 493 263 540 300C586 336 580 350 560 400C540 450 530 450 480 450C430 450 430 453 410 400C390 346 376 323 420 290Z" fill="#9BBCE0"/><path d="M250 420C303 400 303 420 420 440C536 460 553 440 600 480C646 520 626 540 560 560C493 580 500 560 400 540C300 520 310 540 260 500C210 460 196 440 250 420Z" fill="#5a6c80"/><path d="M0 520C50 433 63 500 150 540C236 580 233 560 260 640C286 720 276 716 230 780C183 843 196 823 120 830C43 836 40 903 0 800C-40 696 -50 606 0 520Z" fill="#8DA9C6"/><path d="M0 60C66 -10 100 10 200 40C300 70 316 63 300 150C283 236 250 266 150 300C50 333 50 330 0 250C-50 170 -66 130 0 60Z" fill="#39434e"/><path d="M560 30C660 0 753 10 900 60C1046 110 1033 133 1000 180C966 226 933 210 800 200C666 190 680 206 600 150C520 93 460 60 560 30Z" fill="#39434e"/><path d="M950 180C966 150 996 143 1100 170C1203 196 1226 216 1260 260C1293 303 1270 300 1200 300C1130 300 1133 300 1050 260C966 220 933 210 950 180Z" fill="#8DA9C6"/><path d="M1400 30C1440 -16 1548 -30 1622 20C1696 70 1662 133 1622 180C1581 226 1574 210 1500 160C1426 110 1359 76 1400 30Z" fill="#5a6c80"/><path d="M1400 540C1474 520 1548 506 1622 540C1696 573 1679 600 1622 640C1564 680 1524 673 1450 660C1376 646 1416 640 1400 600C1383 560 1326 560 1400 540Z" fill="#8DA9C6"/><path d="M1500 950C1527 890 1581 850 1622 900C1662 950 1649 1040 1622 1100C1594 1160 1580 1130 1540 1080C1499 1030 1472 1010 1500 950Z" fill="#5a6c80"/><path d="M1300 1250C1356 1190 1386 1173 1420 1200C1453 1226 1456 1270 1400 1330C1343 1390 1283 1406 1250 1380C1216 1353 1243 1310 1300 1250Z" fill="#8DA9C6"/><path d="M740 1440C766 1380 806 1386 900 1400C993 1413 993 1426 1020 1480C1046 1533 1046 1526 980 1560C913 1593 900 1620 820 1580C740 1540 713 1500 740 1440Z" fill="#8DA9C6"/><path d="M1050 1380C1096 1346 1116 1340 1200 1380C1283 1420 1316 1440 1300 1500C1283 1560 1230 1566 1150 1560C1070 1553 1093 1540 1060 1480C1026 1420 1003 1413 1050 1380Z" fill="#5a6c80"/><path d="M0 1100C66 1010 60 1063 200 1080C340 1096 286 1076 420 1150C553 1223 553 1190 600 1300C646 1410 660 1413 560 1480C460 1546 453 1526 300 1500C146 1473 200 1450 100 1400C0 1350 33 1450 0 1350C-33 1250 -66 1190 0 1100Z" fill="#39434e"/><path d="M100 950C166 910 203 896 280 930C356 963 356 993 330 1050C303 1106 283 1100 200 1100C116 1100 113 1100 80 1050C46 1000 33 990 100 950Z" fill="#39434e"/><path d="M450 1160C516 1146 550 1143 700 1150C850 1156 900 1163 900 1180C900 1196 833 1196 700 1200C566 1203 583 1203 500 1190C416 1176 383 1173 450 1160Z" fill="#5a6c80"/><path d="M1200 1480C1333 1406 1359 1410 1500 1400C1640 1390 1581 1376 1622 1450C1662 1524 1796 1564 1622 1622C1448 1679 1240 1669 1100 1622C959 1574 1066 1554 1200 1480Z" fill="#39434e"/></g><g clip-path="url(#f1land)"><rect width="1622" height="1622" fill="#030303"/><g filter="url(#f1b25)"><path d="M400 590C476 523 516 546 600 500C683 453 610 443 650 450C690 456 703 463 720 520C736 576 680 560 700 620C720 680 720 646 780 700C840 753 850 713 880 780C910 846 910 843 870 900C830 956 816 916 760 950C703 983 740 950 700 1000C660 1050 686 1050 640 1100C593 1150 623 1146 560 1150C496 1153 503 1143 450 1110C396 1076 423 1103 400 1050C376 996 390 1066 380 950C370 833 363 820 370 700C376 580 323 656 400 590Z" fill="#f4f6fa"/><path d="M400 830C433 786 453 806 500 830C546 853 533 843 540 900C546 956 556 953 520 1000C483 1046 470 1053 430 1040C390 1026 410 1030 400 960C390 890 366 873 400 830Z" fill="#0a0a0a"/><path d="M660 980C696 943 703 943 760 950C816 956 813 950 830 1000C846 1050 853 1056 810 1100C766 1143 753 1143 700 1130C646 1116 663 1110 650 1060C636 1010 623 1016 660 980Z" fill="#0a0a0a"/><path d="M900 220C970 203 990 230 1150 280C1310 330 1296 313 1380 370C1463 426 1426 433 1400 450C1373 466 1366 416 1300 420C1233 423 1266 433 1200 460C1133 486 1166 513 1100 500C1033 486 1053 476 1000 420C946 363 973 396 940 330C906 263 830 236 900 220Z" fill="#e8e8ec"/><path d="M1200 430C1276 396 1305 370 1380 420C1455 470 1425 493 1425 580C1425 666 1438 633 1380 680C1321 726 1343 713 1250 720C1156 726 1160 733 1100 700C1040 666 1053 680 1070 620C1086 560 1106 583 1150 520C1193 456 1123 463 1200 430Z" fill="#f4f6fa"/><path d="M800 470C826 446 843 450 870 480C896 510 880 503 880 560C880 616 893 623 870 650C846 676 836 673 810 640C783 606 793 606 790 550C786 493 773 493 800 470Z" fill="#c0c0c0"/><path d="M830 1010C890 953 900 983 1000 980C1100 976 1063 976 1130 1000C1196 1023 1133 1050 1200 1050C1266 1050 1246 1050 1330 1000C1413 950 1381 940 1450 900C1518 860 1525 830 1535 880C1545 930 1511 960 1480 1050C1448 1140 1473 1083 1440 1150C1406 1216 1426 1193 1380 1250C1333 1306 1393 1275 1300 1320C1206 1365 1216 1371 1100 1385C983 1398 1016 1388 950 1360C883 1331 905 1346 900 1300C895 1253 935 1270 935 1220C935 1170 938 1173 900 1150C861 1126 843 1196 820 1150C796 1103 770 1066 830 1010Z" fill="#f4f6fa"/><path d="M150 370C183 376 176 426 260 500C343 573 376 543 400 590C423 636 386 636 330 640C273 643 286 653 230 600C173 546 186 556 160 480C133 403 116 363 150 370Z" fill="#999"/><path d="M280 820C303 800 330 826 360 860C390 893 393 900 370 920C346 940 320 953 290 920C260 886 256 840 280 820Z" fill="#999"/></g></g></svg><svg x="457" y="748" width="326.5" height="326.5" viewBox="0 0 1622 1622" preserveAspectRatio="none"><use href="#f1coast" fill="none" stroke="#f4f4f4" stroke-width="5" stroke-linejoin="round"/><use href="#f1isl"/><use href="#f1dots"/></svg><rect x="750.5" y="1029.5" width="33" height="45" fill="#fff"/><rect x="457" y="748" width="326.5" height="326.5" fill="none" stroke="#555" stroke-width="0.8"/><g transform="translate(758,1065)"><text font-family="'Liberation Serif', serif" font-size="36" fill="#000"><tspan x="0" y="0">b</tspan></text></g><g transform="translate(444.75,735) scale(1.2040,1)"><text font-family="'Liberation Serif', serif" font-size="33" fill="#000"><tspan x="0" y="0">AR ConvCNP sample</tspan></text></g></g>
<g id="fig1c"><g filter="url(#f1noise)"><svg x="792.7" y="748" width="326.5" height="326.5" viewBox="0 0 1622 1622" preserveAspectRatio="none"><rect width="1622" height="1622" fill="#0a0a0a"/><g filter="url(#f1b40)"><path d="M380 250C480 200 513 216 600 300C686 383 653 393 640 500C626 606 640 600 560 620C480 640 486 616 400 560C313 503 306 553 300 450C293 346 280 300 380 250Z" fill="#363636"/><path d="M0 700C50 583 50 616 150 650C250 683 266 683 300 800C333 916 316 916 250 1000C183 1083 183 1050 100 1050C16 1050 33 1116 0 1000C-33 883 -50 816 0 700Z" fill="#2a2a2a"/><path d="M0 1100C100 1016 133 1083 300 1150C466 1216 466 1183 500 1300C533 1416 533 1450 400 1500C266 1550 233 1483 100 1450C-33 1416 33 1516 0 1400C-33 1283 -100 1183 0 1100Z" fill="#222222"/><path d="M800 0C1007 -66 1348 -133 1622 0C1896 133 1729 316 1622 400C1514 483 1507 316 1300 250C1092 183 1166 283 1000 200C833 116 592 66 800 0Z" fill="#1c1c1c"/><path d="M1450 400C1490 200 1564 100 1622 400C1679 700 1662 1100 1622 1300C1581 1500 1557 1300 1500 1000C1442 700 1409 600 1450 400Z" fill="#161616"/><path d="M500 1450C766 1409 1033 1442 1300 1500C1566 1557 1566 1581 1300 1622C1033 1662 766 1679 500 1622C233 1564 233 1490 500 1450Z" fill="#1a1a1a"/><path d="M560 1180C660 1120 800 1120 900 1200C1000 1280 960 1360 860 1420C760 1480 700 1460 600 1380C500 1300 460 1240 560 1180Z" fill="#000000"/><path d="M0 0C100 -133 216 -100 300 0C383 100 350 166 250 300C150 433 83 500 0 400C-83 300 -100 133 0 0Z" fill="#000000"/></g><use href="#f1coast" fill="none" stroke="#606060" stroke-width="36" filter="url(#f1b25)"/><g clip-path="url(#f1land)"><rect width="1622" height="1622" fill="#7e7e7e"/><g filter="url(#f1b40)"><path d="M820 470C850 430 863 470 950 500C1036 530 1013 510 1080 560C1146 610 1143 576 1150 650C1156 723 1150 710 1100 780C1050 850 1066 866 1000 860C933 853 946 840 900 760C853 680 886 716 860 620C833 523 790 510 820 470Z" fill="#282828"/><path d="M1120 850C1160 780 1176 803 1250 820C1323 836 1316 823 1340 900C1363 976 1360 976 1320 1050C1280 1123 1283 1126 1220 1120C1156 1113 1163 1120 1130 1030C1096 940 1080 920 1120 850Z" fill="#262626"/><path d="M680 380C716 343 746 333 800 360C853 386 853 406 840 460C826 513 810 516 760 520C710 523 716 516 690 470C663 423 643 416 680 380Z" fill="#1c1c1c"/><ellipse cx="470" cy="720" rx="100" ry="100" fill="#cecece"/><ellipse cx="600" cy="950" rx="100" ry="90" fill="#c6c6c6"/><path d="M150 370C216 380 336 480 400 590C463 700 373 683 340 700C306 716 346 686 300 640C253 593 250 650 200 560C150 470 83 360 150 370Z" fill="#464646"/></g></g></svg></g><svg x="792.7" y="748" width="326.5" height="326.5" viewBox="0 0 1622 1622" preserveAspectRatio="none"><use href="#f1coast" fill="none" stroke="#f4f4f4" stroke-width="5" stroke-linejoin="round"/><use href="#f1isl"/><use href="#f1dots"/></svg><rect x="1086.2" y="1029.5" width="33" height="45" fill="#fff"/><rect x="792.7" y="748" width="326.5" height="326.5" fill="none" stroke="#555" stroke-width="0.8"/><g transform="translate(1094.71,1065)"><text font-family="'Liberation Serif', serif" font-size="36" fill="#000"><tspan x="0" y="0">c</tspan></text></g><g transform="translate(813.45,735) scale(1.2004,1)"><text font-family="'Liberation Serif', serif" font-size="33" fill="#000"><tspan x="0" y="0">ConvCNP sample</tspan></text></g></g>
<g id="fig1d"><svg x="189" y="1125.8" width="326.5" height="326.5" viewBox="0 0 1622 1622" preserveAspectRatio="none"><rect width="1622" height="1622" fill="#0d0e10"/><g filter="url(#f1b40)"><path d="M380 150C433 116 486 100 560 150C633 200 593 183 600 300C606 416 630 426 580 500C530 573 533 536 450 520C366 503 413 483 330 450C246 416 250 456 200 420C150 383 136 370 180 340C223 310 256 360 330 330C403 300 383 310 400 250C416 190 326 183 380 150Z" fill="#6f8194"/><path d="M0 560C40 473 53 530 120 560C186 590 180 570 200 650C220 730 226 733 180 800C133 866 120 843 60 850C0 856 20 916 0 820C-20 723 -40 646 0 560Z" fill="#6d7f92"/><path d="M900 40C1040 -16 1381 -160 1622 0C1862 160 1662 420 1622 520C1581 620 1640 416 1500 300C1359 183 1400 256 1200 170C1000 83 759 96 900 40Z" fill="#3a4047"/><path d="M0 1100C100 1016 160 1056 300 1150C440 1243 486 1280 420 1380C353 1480 240 1443 100 1450C-40 1456 33 1516 0 1400C-33 1283 -100 1183 0 1100Z" fill="#2c3238"/><path d="M1000 1450C1240 1326 1414 1192 1622 1250C1829 1307 1862 1498 1622 1622C1381 1746 1107 1679 900 1622C692 1564 759 1574 1000 1450Z" fill="#25292d"/><path d="M1500 500C1520 316 1581 200 1622 450C1662 700 1642 1066 1622 1250C1601 1433 1600 1250 1560 1000C1519 750 1479 683 1500 500Z" fill="#1e2226"/></g><use href="#f1coast" fill="none" stroke="#cfd8e0" stroke-width="50" opacity="0.55" filter="url(#f1b25)"/><g clip-path="url(#f1land)"><rect width="1622" height="1622" fill="#c2c2c2"/><g filter="url(#f1b40)"><path d="M700 330C726 286 716 300 800 300C883 300 850 296 950 330C1050 363 1016 353 1100 400C1183 446 1193 416 1200 470C1206 523 1156 500 1120 560C1083 620 1080 590 1090 650C1100 710 1080 696 1150 740C1220 783 1226 736 1300 780C1373 823 1356 796 1370 870C1383 943 1370 923 1340 1000C1310 1076 1320 1043 1280 1100C1240 1156 1263 1160 1220 1170C1176 1180 1190 1176 1150 1130C1110 1083 1150 1090 1100 1030C1050 970 1066 993 1000 950C933 906 966 926 900 900C833 873 856 896 800 870C743 843 713 856 730 820C746 783 776 800 850 760C923 720 913 753 950 700C986 646 976 660 960 600C943 540 953 560 900 520C846 480 860 510 800 480C740 450 753 480 720 430C686 380 673 373 700 330Z" fill="#151515"/><path d="M150 370C183 380 336 480 400 590C463 700 376 596 340 700C303 803 280 813 290 900C300 986 350 993 370 960C390 926 343 903 350 800C356 696 406 730 390 650C373 570 380 653 300 560C220 466 116 360 150 370Z" fill="#2c2c2c"/><path d="M650 830C696 813 716 806 800 820C883 833 873 840 900 870C926 900 926 903 880 910C833 916 833 903 760 890C686 876 696 890 660 870C623 850 603 846 650 830Z" fill="#3a3a3a"/><ellipse cx="450" cy="690" rx="90" ry="80" fill="#f2f2f2"/><ellipse cx="590" cy="930" rx="85" ry="70" fill="#f6f6f6"/><ellipse cx="665" cy="530" rx="55" ry="60" fill="#f0f0f0"/><ellipse cx="1000" cy="1160" rx="45" ry="70" fill="#7a7a7a"/><ellipse cx="690" cy="1070" rx="50" ry="40" fill="#666"/><ellipse cx="470" cy="1000" rx="60" ry="40" fill="#8a8a8a"/></g><g filter="url(#f1b12)"><path d="M110 330C120 286 140 313 180 360C220 406 180 410 230 470C280 530 266 496 330 540C393 583 410 546 420 600C430 653 400 683 360 700C320 716 346 680 300 650C253 620 270 663 220 610C170 556 186 583 150 490C113 396 100 373 110 330Z" fill="#2e2e2e"/><path d="M270 800C293 766 303 746 330 780C356 813 363 850 350 900C336 950 320 936 290 930C260 923 266 923 260 880C253 836 246 833 270 800Z" fill="#4a4a4a"/></g></g></svg><svg x="189" y="1125.8" width="326.5" height="326.5" viewBox="0 0 1622 1622" preserveAspectRatio="none"><use href="#f1coast" fill="none" stroke="#f4f4f4" stroke-width="5" stroke-linejoin="round"/><use href="#f1isl"/><use href="#f1dots"/></svg><rect x="482.5" y="1407.3" width="33" height="45" fill="#fff"/><rect x="189" y="1125.8" width="326.5" height="326.5" fill="none" stroke="#555" stroke-width="0.8"/><g transform="translate(490,1442.8)"><text font-family="'Liberation Serif', serif" font-size="36" fill="#000"><tspan x="0" y="0">d</tspan></text></g><g transform="translate(211.25,1112.8) scale(1.1971,1)"><text font-family="'Liberation Serif', serif" font-size="33" fill="#000"><tspan x="0" y="0">ConvLNP sample</tspan></text></g></g>
<g id="fig1e"><svg x="525.3" y="1125.8" width="326.5" height="326.5" viewBox="0 0 1622 1622" preserveAspectRatio="none"><rect width="1622" height="1622" fill="#0d0e10"/><g filter="url(#f1b40)"><path d="M380 150C433 116 486 100 560 150C633 200 593 183 600 300C606 416 630 426 580 500C530 573 533 536 450 520C366 503 413 483 330 450C246 416 250 456 200 420C150 383 136 370 180 340C223 310 256 360 330 330C403 300 383 310 400 250C416 190 326 183 380 150Z" fill="#6f8194"/><path d="M0 560C40 473 53 530 120 560C186 590 180 570 200 650C220 730 226 733 180 800C133 866 120 843 60 850C0 856 20 916 0 820C-20 723 -40 646 0 560Z" fill="#6d7f92"/><path d="M900 40C1040 -16 1381 -160 1622 0C1862 160 1662 420 1622 520C1581 620 1640 416 1500 300C1359 183 1400 256 1200 170C1000 83 759 96 900 40Z" fill="#3a4047"/><path d="M0 1100C100 1016 160 1056 300 1150C440 1243 486 1280 420 1380C353 1480 240 1443 100 1450C-40 1456 33 1516 0 1400C-33 1283 -100 1183 0 1100Z" fill="#2c3238"/><path d="M1000 1450C1240 1326 1414 1192 1622 1250C1829 1307 1862 1498 1622 1622C1381 1746 1107 1679 900 1622C692 1564 759 1574 1000 1450Z" fill="#25292d"/><path d="M1500 500C1520 316 1581 200 1622 450C1662 700 1642 1066 1622 1250C1601 1433 1600 1250 1560 1000C1519 750 1479 683 1500 500Z" fill="#1e2226"/></g><use href="#f1coast" fill="none" stroke="#cfd8e0" stroke-width="50" opacity="0.55" filter="url(#f1b25)"/><g clip-path="url(#f1land)"><rect width="1622" height="1622" fill="#c2c2c2"/><g filter="url(#f1b40)"><path d="M700 330C726 286 716 300 800 300C883 300 850 296 950 330C1050 363 1016 353 1100 400C1183 446 1193 416 1200 470C1206 523 1156 500 1120 560C1083 620 1080 590 1090 650C1100 710 1080 696 1150 740C1220 783 1226 736 1300 780C1373 823 1356 796 1370 870C1383 943 1370 923 1340 1000C1310 1076 1320 1043 1280 1100C1240 1156 1263 1160 1220 1170C1176 1180 1190 1176 1150 1130C1110 1083 1150 1090 1100 1030C1050 970 1066 993 1000 950C933 906 966 926 900 900C833 873 856 896 800 870C743 843 713 856 730 820C746 783 776 800 850 760C923 720 913 753 950 700C986 646 976 660 960 600C943 540 953 560 900 520C846 480 860 510 800 480C740 450 753 480 720 430C686 380 673 373 700 330Z" fill="#151515"/><path d="M150 370C183 380 336 480 400 590C463 700 376 596 340 700C303 803 280 813 290 900C300 986 350 993 370 960C390 926 343 903 350 800C356 696 406 730 390 650C373 570 380 653 300 560C220 466 116 360 150 370Z" fill="#2c2c2c"/><path d="M650 830C696 813 716 806 800 820C883 833 873 840 900 870C926 900 926 903 880 910C833 916 833 903 760 890C686 876 696 890 660 870C623 850 603 846 650 830Z" fill="#3a3a3a"/><ellipse cx="450" cy="690" rx="90" ry="80" fill="#f2f2f2"/><ellipse cx="590" cy="930" rx="85" ry="70" fill="#f6f6f6"/><ellipse cx="665" cy="530" rx="55" ry="60" fill="#f0f0f0"/><ellipse cx="1000" cy="1160" rx="45" ry="70" fill="#7a7a7a"/><ellipse cx="690" cy="1070" rx="50" ry="40" fill="#666"/><ellipse cx="470" cy="1000" rx="60" ry="40" fill="#8a8a8a"/><ellipse cx="880" cy="630" rx="40" ry="90" fill="#a8a8a8" transform="rotate(15 880 630)"/></g><g filter="url(#f1b12)"><path d="M110 330C120 286 140 313 180 360C220 406 180 410 230 470C280 530 266 496 330 540C393 583 410 546 420 600C430 653 400 683 360 700C320 716 346 680 300 650C253 620 270 663 220 610C170 556 186 583 150 490C113 396 100 373 110 330Z" fill="#2e2e2e"/><path d="M270 800C293 766 303 746 330 780C356 813 363 850 350 900C336 950 320 936 290 930C260 923 266 923 260 880C253 836 246 833 270 800Z" fill="#4a4a4a"/></g></g></svg><svg x="525.3" y="1125.8" width="326.5" height="326.5" viewBox="0 0 1622 1622" preserveAspectRatio="none"><use href="#f1coast" fill="none" stroke="#f4f4f4" stroke-width="5" stroke-linejoin="round"/><use href="#f1isl"/><use href="#f1dots"/></svg><rect x="821.8" y="1407.3" width="30" height="45" fill="#fff"/><rect x="525.3" y="1125.8" width="326.5" height="326.5" fill="none" stroke="#555" stroke-width="0.8"/><g transform="translate(828.81,1442.8)"><text font-family="'Liberation Serif', serif" font-size="36" fill="#000"><tspan x="0" y="0">e</tspan></text></g><g transform="translate(544.55,1112.8) scale(1.2038,1)"><text font-family="'Liberation Serif', serif" font-size="33" fill="#000"><tspan x="0" y="0">ConvGNP sample</tspan></text></g></g>
<defs><linearGradient id="f1cb" x1="0" y1="0" x2="0" y2="1"><stop offset="0" stop-color="#000"/><stop offset="1" stop-color="#fff"/></linearGradient></defs><rect x="874" y="1126" width="17" height="326.5" fill="url(#f1cb)" stroke="#222" stroke-width="0.8"/><rect x="891" y="1125" width="15" height="2" fill="#000"/><g transform="translate(919,1137.5) scale(1.0612,1)"><text font-family="'Liberation Serif', serif" font-size="35" fill="#000"><tspan x="0" y="0">1.00</tspan></text></g><rect x="891" y="1206.62" width="15" height="2" fill="#000"/><g transform="translate(919,1219.12) scale(1.0612,1)"><text font-family="'Liberation Serif', serif" font-size="35" fill="#000"><tspan x="0" y="0">0.75</tspan></text></g><rect x="891" y="1288.25" width="15" height="2" fill="#000"/><g transform="translate(919,1300.75) scale(1.0612,1)"><text font-family="'Liberation Serif', serif" font-size="35" fill="#000"><tspan x="0" y="0">0.50</tspan></text></g><rect x="891" y="1369.88" width="15" height="2" fill="#000"/><g transform="translate(919,1382.38) scale(1.0612,1)"><text font-family="'Liberation Serif', serif" font-size="35" fill="#000"><tspan x="0" y="0">0.25</tspan></text></g><rect x="891" y="1451.5" width="15" height="2" fill="#000"/><g transform="translate(919,1464) scale(1.0612,1)"><text font-family="'Liberation Serif', serif" font-size="35" fill="#000"><tspan x="0" y="0">0.00</tspan></text></g><g transform="translate(1027.5,1289.5) rotate(-90)"><g transform="translate(-163.5,0) scale(1.1623,1)"><text font-family="'Liberation Serif', serif" font-size="34" fill="#000"><tspan x="0" y="0">Cloud cover fraction</tspan></text></g></g>
<g stroke="#6399EE" stroke-width="0.5" stroke-linejoin="round"><g transform="translate(1238.9,407.9) scale(0.9517,1)"><text font-family="'Liberation Sans', sans-serif" font-weight="bold" font-size="53.5" fill="#6399EE"><tspan x="0" y="0" letter-spacing="0.9">Diffusion-Augmented Neural Processes</tspan></text></g></g><rect x="1223.2" y="437.1" width="1019.7" height="1.6" fill="#222"/>
<rect x="1226.3" y="484.8" width="13" height="13" fill="#6399EE"/>
<g transform="translate(1253,504.5) scale(0.9630,1)"><text font-family="'Liberation Sans', sans-serif" font-size="41" fill="#000" word-spacing="0.27" stroke="#fff" stroke-width="0.9"><tspan x="0" y="0">Regular NPs learn to predict </tspan><tspan x="527.75" y="0" font-family="'Liberation Serif', serif" font-style="italic" font-size="43" stroke="none">p</tspan><tspan x="549.25" y="0" font-family="'Liberation Serif', serif" font-size="43" stroke="none">(</tspan><tspan x="563.57" y="0" font-family="'Liberation Serif', serif" font-weight="bold" font-size="43" stroke="none">y</tspan><tspan x="585.07" y="-17.2" font-family="'Liberation Serif', serif" font-size="30.1" stroke="none">(</tspan><tspan x="595.09" y="-17.2" font-family="'Liberation Serif', serif" font-style="italic" font-size="30.1" stroke="none">t</tspan><tspan x="603.46" y="-17.2" font-family="'Liberation Serif', serif" font-size="30.1" stroke="none">)</tspan><tspan x="616.48" y="0" font-family="'Liberation Serif', serif" font-size="43" stroke="none">|</tspan><tspan x="630.09" y="0" font-family="'DejaVu Math TeX Gyre', serif" font-size="39.99" stroke="none">𝒟</tspan><tspan x="667" y="6.88" font-family="'Liberation Serif', serif" font-style="italic" font-size="30.1" stroke="none">c</tspan><tspan x="680.36" y="0" font-family="'Liberation Serif', serif" font-size="43" stroke="none">,</tspan><tspan x="697.11" y="0" font-family="'Liberation Serif', serif" font-weight="bold" font-size="43" stroke="none">x</tspan><tspan x="718.61" y="-17.2" font-family="'Liberation Serif', serif" font-size="30.1" stroke="none">(</tspan><tspan x="728.63" y="-17.2" font-family="'Liberation Serif', serif" font-style="italic" font-size="30.1" stroke="none">t</tspan><tspan x="737" y="-17.2" font-family="'Liberation Serif', serif" font-size="30.1" stroke="none">)</tspan><tspan x="747.02" y="0" font-family="'Liberation Serif', serif" font-size="43" stroke="none">)</tspan><tspan x="761.34" y="0"> through expo-</tspan></text></g>
<g transform="translate(1253,548.9) scale(0.9630,1)"><text font-family="'Liberation Sans', sans-serif" font-size="41" fill="#000" word-spacing="2.19" stroke="#fff" stroke-width="0.9"><tspan x="0" y="0">sure to tasks </tspan><tspan x="250.4" y="0" font-family="'Liberation Serif', serif" font-style="italic" font-size="43" stroke="none">ψ</tspan><tspan x="290.11" y="0" font-family="'Liberation Serif', serif" font-size="43" stroke="none">=</tspan><tspan x="327.36" y="0" font-family="'Liberation Serif', serif" font-size="43" stroke="none">(</tspan><tspan x="341.68" y="0" font-family="'DejaVu Math TeX Gyre', serif" font-size="39.99" stroke="none">𝒟</tspan><tspan x="378.59" y="6.88" font-family="'Liberation Serif', serif" font-style="italic" font-size="30.1" stroke="none">c</tspan><tspan x="391.95" y="0" font-family="'Liberation Serif', serif" font-size="43" stroke="none">,</tspan><tspan x="408.7" y="0" font-family="'DejaVu Math TeX Gyre', serif" font-size="39.99" stroke="none">𝒟</tspan><tspan x="445.61" y="6.88" font-family="'Liberation Serif', serif" font-style="italic" font-size="30.1" stroke="none">t</tspan><tspan x="453.97" y="0" font-family="'Liberation Serif', serif" font-size="43" stroke="none">)</tspan><tspan x="468.29" y="0"> consisting of a context set </tspan><tspan x="976" y="0" font-family="'DejaVu Math TeX Gyre', serif" font-size="39.99" stroke="none">𝒟</tspan><tspan x="1012.91" y="6.88" font-family="'Liberation Serif', serif" font-style="italic" font-size="30.1" stroke="none">c</tspan></text></g>
<g transform="translate(1253,593.3) scale(0.9630,1)"><text font-family="'Liberation Sans', sans-serif" font-size="41" fill="#000" stroke="#fff" stroke-width="0.9"><tspan x="0" y="0">and a target set </tspan><tspan x="296.31" y="0" font-family="'DejaVu Math TeX Gyre', serif" font-size="39.99" stroke="none">𝒟</tspan><tspan x="333.22" y="6.88" font-family="'Liberation Serif', serif" font-style="italic" font-size="30.1" stroke="none">t</tspan><tspan x="341.58" y="0">.</tspan></text></g>
<rect x="1226.3" y="633.2" width="13" height="13" fill="#6399EE"/>
<g transform="translate(1253,652.9) scale(0.9630,1)"><text font-family="'Liberation Sans', sans-serif" font-size="41" fill="#000" word-spacing="3.97" stroke="#fff" stroke-width="0.9"><tspan x="0" y="0">DANPs make use of </tspan><tspan x="396.42" y="0" fill="#6399EE" stroke="#fff" stroke-width="0.3">augmented tasks</tspan><tspan x="712.63" y="0"> </tspan><tspan x="728" y="0" font-family="'Liberation Serif', serif" font-style="italic" font-size="43" stroke="none">ψ</tspan><tspan x="730.7" y="-17" font-family="'Liberation Serif', serif" font-size="43" stroke="none" textLength="32.28" lengthAdjust="spacingAndGlyphs">^</tspan><tspan x="767.99" y="0" font-family="'Liberation Serif', serif" font-size="43" stroke="none">=</tspan><tspan x="805.24" y="0" font-family="'Liberation Serif', serif" font-size="43" stroke="none">(</tspan><tspan x="819.56" y="0" font-family="'DejaVu Math TeX Gyre', serif" font-size="39.99" stroke="none">𝒟</tspan><tspan x="856.47" y="6.88" font-family="'Liberation Serif', serif" font-style="italic" font-size="30.1" stroke="none">c</tspan><tspan x="869.83" y="0" font-family="'Liberation Serif', serif" font-size="43" stroke="none">,</tspan><tspan x="886.58" y="0" font-family="'DejaVu Math TeX Gyre', serif" font-size="39.99" stroke="none">𝒟</tspan><tspan x="923.49" y="6.88" font-family="'Liberation Serif', serif" font-style="italic" font-size="30.1" stroke="none">t</tspan><tspan x="931.85" y="0" font-family="'Liberation Serif', serif" font-size="43" stroke="none">,</tspan><tspan x="948.6" y="0" font-family="'DejaVu Math TeX Gyre', serif" font-size="39.99" stroke="none">𝒟</tspan><tspan x="985.51" y="6.88" font-family="'Liberation Serif', serif" font-style="italic" font-size="30.1" stroke="none">a</tspan><tspan x="1000.56" y="0" font-family="'Liberation Serif', serif" font-size="43" stroke="none">)</tspan><tspan x="1014.88" y="0">,</tspan></text></g>
<g transform="translate(1253,696.8) scale(0.9630,1)"><text font-family="'Liberation Sans', sans-serif" font-size="41" fill="#000" stroke="#fff" stroke-width="0.9"><tspan x="0" y="0">where:</tspan></text></g>
<g transform="translate(1440.6,764.3) scale(1.0640,1)"><text font-family="'Liberation Serif', serif" font-size="43" fill="#000"><tspan x="0" y="0" font-family="'DejaVu Math TeX Gyre', serif" font-size="39.99">𝒟</tspan><tspan x="36.91" y="6.88" font-family="'Liberation Serif', serif" font-style="italic" font-size="30.1">a</tspan><tspan x="64.96" y="0">=</tspan><tspan x="102.21" y="5.59" font-size="81.7" textLength="21.22" lengthAdjust="spacingAndGlyphs">(</tspan><tspan x="123.43" y="5.59" font-size="66.65" textLength="17.31" lengthAdjust="spacingAndGlyphs">(</tspan><tspan x="140.74" y="0" font-family="'Liberation Serif', serif" font-weight="bold">x</tspan><tspan x="163.74" y="10.75" font-size="30.1">1</tspan><tspan x="163.74" y="-19.35" font-size="30.1">(</tspan><tspan x="173.77" y="-19.35" font-family="'Liberation Serif', serif" font-style="italic" font-size="30.1">t</tspan><tspan x="182.13" y="-19.35" font-size="30.1">)</tspan><tspan x="193.15" y="0">,</tspan><tspan x="207.9" y="0" font-family="'Liberation Serif', serif" font-weight="bold">y</tspan><tspan x="230.9" y="10.75" font-size="30.1">1</tspan><tspan x="230.9" y="-19.35" font-size="30.1">(</tspan><tspan x="240.93" y="-19.35" font-family="'Liberation Serif', serif" font-style="italic" font-size="30.1">t</tspan><tspan x="249.29" y="-19.35" font-size="30.1">)</tspan><tspan x="260.31" y="5.59" font-size="66.65" textLength="17.31" lengthAdjust="spacingAndGlyphs">)</tspan><tspan x="285.63" y="0">, . . . ,</tspan><tspan x="396.38" y="5.59" font-size="66.65" textLength="17.31" lengthAdjust="spacingAndGlyphs">(</tspan><tspan x="413.69" y="0" font-family="'Liberation Serif', serif" font-weight="bold">x</tspan><tspan x="436.69" y="10.75" font-family="'Liberation Serif', serif" font-style="italic" font-size="30.1">F</tspan><tspan x="436.69" y="-19.35" font-size="30.1">(</tspan><tspan x="446.71" y="-19.35" font-family="'Liberation Serif', serif" font-style="italic" font-size="30.1">t</tspan><tspan x="455.07" y="-19.35" font-size="30.1">)</tspan><tspan x="466.1" y="0">,</tspan><tspan x="480.85" y="0" font-family="'Liberation Serif', serif" font-weight="bold">y</tspan><tspan x="503.85" y="10.75" font-family="'Liberation Serif', serif" font-style="italic" font-size="30.1">F</tspan><tspan x="503.85" y="-19.35" font-size="30.1">(</tspan><tspan x="513.87" y="-19.35" font-family="'Liberation Serif', serif" font-style="italic" font-size="30.1">t</tspan><tspan x="522.23" y="-19.35" font-size="30.1">)</tspan><tspan x="533.26" y="5.59" font-size="66.65" textLength="17.31" lengthAdjust="spacingAndGlyphs">)</tspan><tspan x="550.57" y="5.59" font-size="81.7" textLength="21.22" lengthAdjust="spacingAndGlyphs">)</tspan></text></g>
<rect x="1226.3" y="821.8" width="13" height="13" fill="#6399EE"/>
<g transform="translate(1253,841.5) scale(0.9630,1)"><text font-family="'Liberation Sans', sans-serif" font-size="41" fill="#000" word-spacing="-0.57" stroke="#fff" stroke-width="0.9"><tspan x="0" y="0">Each fidelity level in </tspan><tspan x="369.18" y="0" font-family="'DejaVu Math TeX Gyre', serif" font-size="39.99" stroke="none">𝒟</tspan><tspan x="406.09" y="6.88" font-family="'Liberation Serif', serif" font-style="italic" font-size="30.1" stroke="none">a</tspan><tspan x="421.14" y="0"> is populated through an </tspan><tspan x="869.63" y="0" fill="#6399EE" stroke="#fff" stroke-width="0.3">AR nois-</tspan></text></g>
<g transform="translate(1253,886) scale(0.9630,1)"><text font-family="'Liberation Sans', sans-serif" font-size="41" fill="#000" stroke="#fff" stroke-width="0.9"><tspan x="0" y="0" fill="#6399EE" stroke="#fff" stroke-width="0.3">ing</tspan><tspan x="54.71" y="0"> procedure (Figure 3):</tspan></text></g>
<g transform="translate(1375.8,958.7) scale(1.0485,1)"><text font-family="'Liberation Serif', serif" font-size="43" fill="#000"><tspan x="0" y="0" font-family="'Liberation Serif', serif" font-weight="bold">y</tspan><tspan x="21.5" y="10.75" font-family="'Liberation Serif', serif" font-style="italic" font-size="30.1">f</tspan><tspan x="29.86" y="10.75" font-size="30.1">+1</tspan><tspan x="21.5" y="-19.35" font-size="30.1">(</tspan><tspan x="31.52" y="-19.35" font-family="'Liberation Serif', serif" font-style="italic" font-size="30.1">t</tspan><tspan x="39.89" y="-19.35" font-size="30.1">)</tspan><tspan x="74.89" y="0">=</tspan><tspan x="112.14" y="2" font-family="'DejaVu Math TeX Gyre', serif" font-size="50.74">√</tspan><tspan x="144.59" y="0">1</tspan><tspan x="175.09" y="0">−</tspan><tspan x="208.34" y="0" font-family="'Liberation Serif', serif" font-style="italic">β</tspan><tspan x="236.76" y="0" font-family="'Liberation Serif', serif" font-weight="bold">y</tspan><tspan x="258.26" y="10.75" font-family="'Liberation Serif', serif" font-style="italic" font-size="30.1">f</tspan><tspan x="258.26" y="-19.35" font-size="30.1">(</tspan><tspan x="268.28" y="-19.35" font-family="'Liberation Serif', serif" font-style="italic" font-size="30.1">t</tspan><tspan x="276.64" y="-19.35" font-size="30.1">)</tspan><tspan x="295.67" y="0">+</tspan><tspan x="328.92" y="0" font-family="'Liberation Serif', serif" font-style="italic">ϵ</tspan><tspan x="346.24" y="6.88" font-family="'Liberation Serif', serif" font-style="italic" font-size="30.1">n</tspan><tspan x="361.29" y="0" font-family="'Liberation Serif', serif" font-style="italic">β</tspan><tspan x="382.71" y="0">,</tspan><tspan x="485.46" y="0" font-family="'Liberation Serif', serif" font-style="italic">ϵ</tspan><tspan x="502.78" y="6.88" font-family="'Liberation Serif', serif" font-style="italic" font-size="30.1">n</tspan><tspan x="530.83" y="0" font-family="'DejaVu Math TeX Gyre', serif" font-size="40.85">∼</tspan><tspan x="576.02" y="0" font-family="'DejaVu Math TeX Gyre', serif" font-size="39.99">𝒩</tspan><tspan x="620.53" y="0">(0</tspan><tspan x="656.35" y="0">,</tspan><tspan x="671.1" y="0">1)</tspan></text><rect x="144.59" y="-36.5" width="88.17" height="2" fill="#000"/></g>
<rect x="1226.3" y="1004.8" width="13" height="13" fill="#6399EE"/>
<g transform="translate(1253,1024.5) scale(0.9630,1)"><text font-family="'Liberation Sans', sans-serif" font-size="41" fill="#000" stroke="#fff" stroke-width="0.9"><tspan x="0" y="0">Joint predictive:</tspan></text></g>
<g transform="translate(1265,1112.4) scale(0.9983,1)"><text font-family="'Liberation Serif', serif" font-size="43" fill="#000"><tspan x="0" y="0" font-family="'Liberation Serif', serif" font-style="italic">p</tspan><tspan x="21.5" y="6.88" font-family="'Liberation Serif', serif" font-style="italic" font-size="30.1">θ</tspan><tspan x="36.29" y="5.59" font-size="75.25" textLength="19.55" lengthAdjust="spacingAndGlyphs">(</tspan><tspan x="55.83" y="0" font-family="'Liberation Serif', serif" font-weight="bold">y</tspan><tspan x="78.83" y="10.75" font-size="30.1">0</tspan><tspan x="78.83" y="-19.35" font-size="30.1">(</tspan><tspan x="88.85" y="-19.35" font-family="'Liberation Serif', serif" font-style="italic" font-size="30.1">t</tspan><tspan x="97.22" y="-19.35" font-size="30.1">)</tspan><tspan x="111.24" y="0">|</tspan><tspan x="124.85" y="0" font-family="'Liberation Serif', serif" font-weight="bold">x</tspan><tspan x="147.85" y="10.75" font-size="30.1">0</tspan><tspan x="147.85" y="-19.35" font-size="30.1">(</tspan><tspan x="157.87" y="-19.35" font-family="'Liberation Serif', serif" font-style="italic" font-size="30.1">t</tspan><tspan x="166.24" y="-19.35" font-size="30.1">)</tspan><tspan x="177.26" y="0">,</tspan><tspan x="194.01" y="0" font-family="'DejaVu Math TeX Gyre', serif" font-size="39.99">𝒟</tspan><tspan x="230.92" y="6.88" font-family="'Liberation Serif', serif" font-style="italic" font-size="30.1">c</tspan><tspan x="244.28" y="5.59" font-size="75.25" textLength="19.55" lengthAdjust="spacingAndGlyphs">)</tspan><tspan x="279.83" y="0">=</tspan><tspan x="320.08" y="8" font-family="'DejaVu Math TeX Gyre', serif" font-size="75.25" textLength="38.06" lengthAdjust="spacingAndGlyphs">∫</tspan><tspan x="360.13" y="0" font-family="'Liberation Serif', serif" font-style="italic">p</tspan><tspan x="381.63" y="6.88" font-family="'Liberation Serif', serif" font-style="italic" font-size="30.1">θ</tspan><tspan x="396.42" y="5.59" font-size="75.25" textLength="19.55" lengthAdjust="spacingAndGlyphs">(</tspan><tspan x="415.97" y="0" font-family="'Liberation Serif', serif" font-weight="bold">y</tspan><tspan x="438.97" y="10.75" font-size="30.1">0</tspan><tspan x="438.97" y="-19.35" font-size="30.1">(</tspan><tspan x="448.99" y="-19.35" font-family="'Liberation Serif', serif" font-style="italic" font-size="30.1">t</tspan><tspan x="457.35" y="-19.35" font-size="30.1">)</tspan><tspan x="471.38" y="0">|</tspan><tspan x="484.98" y="0" font-family="'Liberation Serif', serif" font-weight="bold">x</tspan><tspan x="507.98" y="10.75" font-size="30.1">0</tspan><tspan x="507.98" y="-19.35" font-size="30.1">(</tspan><tspan x="518.01" y="-19.35" font-family="'Liberation Serif', serif" font-style="italic" font-size="30.1">t</tspan><tspan x="526.37" y="-19.35" font-size="30.1">)</tspan><tspan x="537.39" y="0">,</tspan><tspan x="554.14" y="0" font-family="'DejaVu Math TeX Gyre', serif" font-size="39.99">𝒟</tspan><tspan x="591.05" y="6.88" font-family="'Liberation Serif', serif" font-style="italic" font-size="30.1">c</tspan><tspan x="604.41" y="0">,</tspan><tspan x="621.16" y="0" font-family="'DejaVu Math TeX Gyre', serif" font-size="39.99">𝒟</tspan><tspan x="658.07" y="6.88" font-family="'Liberation Serif', serif" font-style="italic" font-size="30.1">a</tspan><tspan x="673.12" y="5.59" font-size="75.25" textLength="19.55" lengthAdjust="spacingAndGlyphs">)</tspan><tspan x="700.67" y="0" font-family="'Liberation Serif', serif" font-style="italic">p</tspan><tspan x="722.17" y="6.88" font-family="'Liberation Serif', serif" font-style="italic" font-size="30.1">θ</tspan><tspan x="736.96" y="0">(</tspan><tspan x="751.28" y="0" font-family="'DejaVu Math TeX Gyre', serif" font-size="39.99">𝒟</tspan><tspan x="788.19" y="6.88" font-family="'Liberation Serif', serif" font-style="italic" font-size="30.1">a</tspan><tspan x="806.24" y="0">|</tspan><tspan x="819.84" y="0" font-family="'DejaVu Math TeX Gyre', serif" font-size="39.99">𝒟</tspan><tspan x="856.76" y="6.88" font-family="'Liberation Serif', serif" font-style="italic" font-size="30.1">c</tspan><tspan x="870.12" y="0">)</tspan><tspan x="892.43" y="0">d</tspan><tspan x="913.93" y="0" font-family="'DejaVu Math TeX Gyre', serif" font-size="39.99">𝒟</tspan><tspan x="950.85" y="6.88" font-family="'Liberation Serif', serif" font-style="italic" font-size="30.1">a</tspan></text></g>
<g transform="translate(1552.4,1198.6) scale(1.0413,1)"><text font-family="'Liberation Serif', serif" font-size="43" fill="#000"><tspan x="0" y="0">≈</tspan><tspan x="35.6" y="9" font-family="'DejaVu Math TeX Gyre', serif" font-size="58.05">∑</tspan><tspan x="92.08" y="18.06" font-family="'Liberation Serif', serif" font-style="italic" font-size="30.1">s</tspan><tspan x="103.8" y="18.06" font-size="30.1">=1</tspan><tspan x="92.08" y="-30.96" font-family="'Liberation Serif', serif" font-style="italic" font-size="30.1">S</tspan><tspan x="146.82" y="-28">1</tspan><tspan x="145.82" y="31" font-family="'Liberation Serif', serif" font-style="italic">S</tspan><tspan x="176.32" y="0" font-family="'Liberation Serif', serif" font-style="italic">p</tspan><tspan x="197.82" y="6.88" font-family="'Liberation Serif', serif" font-style="italic" font-size="30.1">θ</tspan><tspan x="212.61" y="5.59" font-size="75.25" textLength="19.55" lengthAdjust="spacingAndGlyphs">(</tspan><tspan x="232.15" y="0" font-family="'Liberation Serif', serif" font-weight="bold">y</tspan><tspan x="255.15" y="10.75" font-size="30.1">0</tspan><tspan x="255.15" y="-19.35" font-size="30.1">(</tspan><tspan x="265.18" y="-19.35" font-family="'Liberation Serif', serif" font-style="italic" font-size="30.1">t</tspan><tspan x="273.54" y="-19.35" font-size="30.1">)</tspan><tspan x="287.56" y="0">|</tspan><tspan x="301.17" y="0" font-family="'Liberation Serif', serif" font-weight="bold">x</tspan><tspan x="324.17" y="10.75" font-size="30.1">0</tspan><tspan x="324.17" y="-19.35" font-size="30.1">(</tspan><tspan x="334.19" y="-19.35" font-family="'Liberation Serif', serif" font-style="italic" font-size="30.1">t</tspan><tspan x="342.56" y="-19.35" font-size="30.1">)</tspan><tspan x="353.58" y="0">,</tspan><tspan x="370.33" y="0" font-family="'DejaVu Math TeX Gyre', serif" font-size="39.99">𝒟</tspan><tspan x="407.24" y="6.88" font-family="'Liberation Serif', serif" font-style="italic" font-size="30.1">c</tspan><tspan x="420.6" y="0">,</tspan><tspan x="437.35" y="0" font-family="'DejaVu Math TeX Gyre', serif" font-size="39.99">𝒟</tspan><tspan x="474.26" y="6.88" font-family="'Liberation Serif', serif" font-style="italic" font-size="30.1">a</tspan><tspan x="489.31" y="6.88" font-size="30.1">,</tspan><tspan x="496.84" y="6.88" font-family="'Liberation Serif', serif" font-style="italic" font-size="30.1">s</tspan><tspan x="508.55" y="5.59" font-size="75.25" textLength="19.55" lengthAdjust="spacingAndGlyphs">)</tspan></text><rect x="143.82" y="-13.4" width="26" height="1.8" fill="#000"/></g>
<rect x="1226.3" y="1253.6" width="13" height="13" fill="#6399EE"/>
<g transform="translate(1253,1273.3) scale(0.9630,1)"><text font-family="'Liberation Sans', sans-serif" font-size="41" fill="#000" word-spacing="1.26" stroke="#fff" stroke-width="0.9"><tspan x="0" y="0">MC approximation by conditioning on different instances</tspan></text></g>
<g transform="translate(1253,1317.8) scale(0.9630,1)"><text font-family="'Liberation Sans', sans-serif" font-size="41" fill="#000" word-spacing="-0.63" stroke="#fff" stroke-width="0.9"><tspan x="0" y="0" font-family="'DejaVu Math TeX Gyre', serif" font-size="39.99" stroke="none">𝒟</tspan><tspan x="36.91" y="6.88" font-family="'Liberation Serif', serif" font-style="italic" font-size="30.1" stroke="none">a</tspan><tspan x="51.96" y="6.88" font-family="'Liberation Serif', serif" font-size="30.1" stroke="none">,</tspan><tspan x="59.49" y="6.88" font-family="'Liberation Serif', serif" font-style="italic" font-size="30.1" stroke="none">s</tspan><tspan x="71.2" y="0"> of </tspan><tspan x="126.91" y="0" font-family="'DejaVu Math TeX Gyre', serif" font-size="39.99" stroke="none">𝒟</tspan><tspan x="163.83" y="6.88" font-family="'Liberation Serif', serif" font-style="italic" font-size="30.1" stroke="none">a</tspan><tspan x="178.88" y="0">, each obtained through </tspan><tspan x="618.59" y="0" fill="#6399EE" stroke="#fff" stroke-width="0.3">AR sampling</tspan><tspan x="850.38" y="0"> process:</tspan></text></g>
<g transform="translate(1291,1399.8) scale(1.0426,1)"><text font-family="'Liberation Serif', serif" font-size="43" fill="#000"><tspan x="0" y="0" font-family="'DejaVu Math TeX Gyre', serif" font-size="39.99">𝒟</tspan><tspan x="36.91" y="10.75" font-family="'Liberation Serif', serif" font-style="italic" font-size="30.1">a</tspan><tspan x="36.91" y="-19.35" font-family="'Liberation Serif', serif" font-style="italic" font-size="30.1">F</tspan><tspan x="68.3" y="0">=</tspan><tspan x="105.55" y="5.59" font-size="75.25" textLength="19.55" lengthAdjust="spacingAndGlyphs">(</tspan><tspan x="125.09" y="0" font-family="'Liberation Serif', serif" font-weight="bold">x</tspan><tspan x="148.09" y="10.75" font-family="'Liberation Serif', serif" font-style="italic" font-size="30.1">F</tspan><tspan x="148.09" y="-19.35" font-size="30.1">(</tspan><tspan x="158.12" y="-19.35" font-family="'Liberation Serif', serif" font-style="italic" font-size="30.1">t</tspan><tspan x="166.48" y="-19.35" font-size="30.1">)</tspan><tspan x="177.5" y="0">,</tspan><tspan x="192.25" y="0" font-family="'Liberation Serif', serif" font-weight="bold">y</tspan><tspan x="215.25" y="10.75" font-family="'Liberation Serif', serif" font-style="italic" font-size="30.1">F</tspan><tspan x="215.25" y="-19.35" font-size="30.1">(</tspan><tspan x="225.28" y="-19.35" font-family="'Liberation Serif', serif" font-style="italic" font-size="30.1">t</tspan><tspan x="233.64" y="-19.35" font-size="30.1">)</tspan><tspan x="244.66" y="5.59" font-size="75.25" textLength="19.55" lengthAdjust="spacingAndGlyphs">)</tspan><tspan x="274.21" y="0">;</tspan><tspan x="368.16" y="0" font-family="'Liberation Serif', serif" font-weight="bold">y</tspan><tspan x="391.16" y="10.75" font-family="'Liberation Serif', serif" font-style="italic" font-size="30.1">F</tspan><tspan x="391.16" y="-19.35" font-size="30.1">(</tspan><tspan x="401.18" y="-19.35" font-family="'Liberation Serif', serif" font-style="italic" font-size="30.1">t</tspan><tspan x="409.54" y="-19.35" font-size="30.1">)</tspan><tspan x="434.57" y="0" font-family="'DejaVu Math TeX Gyre', serif" font-size="40.85">∼</tspan><tspan x="480.76" y="0" font-family="'Liberation Serif', serif" font-style="italic">p</tspan><tspan x="502.26" y="6.88" font-family="'Liberation Serif', serif" font-style="italic" font-size="30.1">θ</tspan><tspan x="517.04" y="5.59" font-size="75.25" textLength="19.55" lengthAdjust="spacingAndGlyphs">(</tspan><tspan x="536.59" y="0" font-family="'Liberation Serif', serif" font-weight="bold">y</tspan><tspan x="559.59" y="10.75" font-family="'Liberation Serif', serif" font-style="italic" font-size="30.1">F</tspan><tspan x="559.59" y="-19.35" font-size="30.1">(</tspan><tspan x="569.61" y="-19.35" font-family="'Liberation Serif', serif" font-style="italic" font-size="30.1">t</tspan><tspan x="577.97" y="-19.35" font-size="30.1">)</tspan><tspan x="592" y="0">|</tspan><tspan x="605.6" y="0" font-family="'Liberation Serif', serif" font-weight="bold">x</tspan><tspan x="628.6" y="10.75" font-family="'Liberation Serif', serif" font-style="italic" font-size="30.1">F</tspan><tspan x="628.6" y="-19.35" font-size="30.1">(</tspan><tspan x="638.63" y="-19.35" font-family="'Liberation Serif', serif" font-style="italic" font-size="30.1">t</tspan><tspan x="646.99" y="-19.35" font-size="30.1">)</tspan><tspan x="658.01" y="0">,</tspan><tspan x="674.76" y="0" font-family="'DejaVu Math TeX Gyre', serif" font-size="39.99">𝒟</tspan><tspan x="711.68" y="6.88" font-family="'Liberation Serif', serif" font-style="italic" font-size="30.1">c</tspan><tspan x="725.04" y="5.59" font-size="75.25" textLength="19.55" lengthAdjust="spacingAndGlyphs">)</tspan></text></g>
<g transform="translate(1639.65,1450)"><text font-family="'DejaVu Math TeX Gyre', serif" font-size="30" fill="#000"><tspan x="0" y="0">⋮</tspan></text></g>
<g transform="translate(1301.6,1507) scale(1.0399,1)"><text font-family="'Liberation Serif', serif" font-size="43" fill="#000"><tspan x="0" y="0" font-family="'DejaVu Math TeX Gyre', serif" font-size="39.99">𝒟</tspan><tspan x="36.91" y="10.75" font-family="'Liberation Serif', serif" font-style="italic" font-size="30.1">a</tspan><tspan x="36.91" y="-19.35" font-family="'Liberation Serif', serif" font-style="italic" font-size="30.1">f</tspan><tspan x="64.96" y="0">=</tspan><tspan x="102.21" y="5.59" font-size="75.25" textLength="19.55" lengthAdjust="spacingAndGlyphs">(</tspan><tspan x="121.76" y="0" font-family="'Liberation Serif', serif" font-weight="bold">x</tspan><tspan x="144.76" y="10.75" font-family="'Liberation Serif', serif" font-style="italic" font-size="30.1">f</tspan><tspan x="144.76" y="-19.35" font-size="30.1">(</tspan><tspan x="154.78" y="-19.35" font-family="'Liberation Serif', serif" font-style="italic" font-size="30.1">t</tspan><tspan x="163.14" y="-19.35" font-size="30.1">)</tspan><tspan x="174.17" y="0">,</tspan><tspan x="188.92" y="0" font-family="'Liberation Serif', serif" font-weight="bold">y</tspan><tspan x="211.92" y="10.75" font-family="'Liberation Serif', serif" font-style="italic" font-size="30.1">f</tspan><tspan x="211.92" y="-19.35" font-size="30.1">(</tspan><tspan x="221.94" y="-19.35" font-family="'Liberation Serif', serif" font-style="italic" font-size="30.1">t</tspan><tspan x="230.3" y="-19.35" font-size="30.1">)</tspan><tspan x="241.33" y="5.59" font-size="75.25" textLength="19.55" lengthAdjust="spacingAndGlyphs">)</tspan><tspan x="270.87" y="0">;</tspan><tspan x="364.82" y="0" font-family="'Liberation Serif', serif" font-weight="bold">y</tspan><tspan x="387.82" y="10.75" font-family="'Liberation Serif', serif" font-style="italic" font-size="30.1">f</tspan><tspan x="387.82" y="-19.35" font-size="30.1">(</tspan><tspan x="397.84" y="-19.35" font-family="'Liberation Serif', serif" font-style="italic" font-size="30.1">t</tspan><tspan x="406.21" y="-19.35" font-size="30.1">)</tspan><tspan x="431.23" y="0" font-family="'DejaVu Math TeX Gyre', serif" font-size="40.85">∼</tspan><tspan x="477.42" y="0" font-family="'Liberation Serif', serif" font-style="italic">p</tspan><tspan x="498.92" y="6.88" font-family="'Liberation Serif', serif" font-style="italic" font-size="30.1">θ</tspan><tspan x="513.7" y="5.59" font-size="75.25" textLength="19.55" lengthAdjust="spacingAndGlyphs">(</tspan><tspan x="533.25" y="0" font-family="'Liberation Serif', serif" font-weight="bold">y</tspan><tspan x="556.25" y="10.75" font-family="'Liberation Serif', serif" font-style="italic" font-size="30.1">f</tspan><tspan x="556.25" y="-19.35" font-size="30.1">(</tspan><tspan x="566.27" y="-19.35" font-family="'Liberation Serif', serif" font-style="italic" font-size="30.1">t</tspan><tspan x="574.64" y="-19.35" font-size="30.1">)</tspan><tspan x="588.66" y="0">|</tspan><tspan x="602.27" y="0" font-family="'Liberation Serif', serif" font-weight="bold">x</tspan><tspan x="625.27" y="10.75" font-family="'Liberation Serif', serif" font-style="italic" font-size="30.1">f</tspan><tspan x="625.27" y="-19.35" font-size="30.1">(</tspan><tspan x="635.29" y="-19.35" font-family="'Liberation Serif', serif" font-style="italic" font-size="30.1">t</tspan><tspan x="643.65" y="-19.35" font-size="30.1">)</tspan><tspan x="654.68" y="0">,</tspan><tspan x="671.43" y="0" font-family="'DejaVu Math TeX Gyre', serif" font-size="39.99">𝒟</tspan><tspan x="708.34" y="6.88" font-family="'Liberation Serif', serif" font-style="italic" font-size="30.1">c</tspan><tspan x="721.7" y="0">,</tspan><tspan x="738.45" y="0" font-family="'DejaVu Math TeX Gyre', serif" font-size="39.99">𝒟</tspan><tspan x="775.36" y="10.75" font-family="'Liberation Serif', serif" font-style="italic" font-size="30.1">a</tspan><tspan x="775.36" y="-19.35" font-family="'Liberation Serif', serif" font-style="italic" font-size="30.1">f</tspan><tspan x="783.72" y="-19.35" font-size="30.1">+1:</tspan><tspan x="824.11" y="-19.35" font-family="'Liberation Serif', serif" font-style="italic" font-size="30.1">F</tspan><tspan x="842.5" y="5.59" font-size="75.25" textLength="19.55" lengthAdjust="spacingAndGlyphs">)</tspan></text></g>
<g transform="translate(1351.2,2208) scale(0.9733,1)"><text font-family="'Liberation Sans', sans-serif" font-size="38" fill="#000" stroke="#fff" stroke-width="0.9"><tspan x="0" y="0" fill="#6399EE" stroke="#fff" stroke-width="0.3">Figure 2: </tspan><tspan x="160.52" y="0">DANP architecture diagram for </tspan><tspan x="688.49" y="0" font-family="'Liberation Serif', serif" font-style="italic" font-size="40" stroke="none">F</tspan><tspan x="721.92" y="0" font-family="'Liberation Serif', serif" font-size="40" stroke="none">=</tspan><tspan x="753.48" y="0" font-family="'Liberation Serif', serif" font-size="40" stroke="none">2</tspan><tspan x="773.48" y="0">.</tspan></text></g>
<rect x="1226.3" y="2280.1" width="13" height="13" fill="#6399EE"/>
<g transform="translate(1253,2299.8) scale(0.9630,1)"><text font-family="'Liberation Sans', sans-serif" font-size="41" fill="#000" word-spacing="1.25" stroke="#fff" stroke-width="0.9"><tspan x="0" y="0" font-family="'Liberation Serif', serif" font-style="italic" font-size="43" stroke="none">p</tspan><tspan x="21.5" y="6.88" font-family="'Liberation Serif', serif" font-style="italic" font-size="30.1" stroke="none">θ</tspan><tspan x="36.29" y="0"> parameterised using a NP constructed to handle con-</tspan></text></g>
<g transform="translate(1253,2344.2) scale(0.9630,1)"><text font-family="'Liberation Sans', sans-serif" font-size="41" fill="#000" stroke="#fff" stroke-width="0.9"><tspan x="0" y="0">text and target sets with </tspan><tspan x="444.39" y="0" font-family="'Liberation Serif', serif" font-style="italic" font-size="43" stroke="none">F</tspan><tspan x="478.66" y="0" font-family="'Liberation Serif', serif" font-size="43" stroke="none">+</tspan><tspan x="510.91" y="0" font-family="'Liberation Serif', serif" font-size="43" stroke="none">1</tspan><tspan x="532.41" y="0"> channels.</tspan></text></g>
<rect x="1226.3" y="2379.4" width="13" height="13" fill="#6399EE"/>
<g transform="translate(1253,2399.1) scale(0.9630,1)"><text font-family="'Liberation Sans', sans-serif" font-size="41" fill="#000" word-spacing="0.9" stroke="#fff" stroke-width="0.9"><tspan x="0" y="0">Maximum likelihood training through </tspan><tspan x="671.31" y="0" fill="#6399EE" stroke="#fff" stroke-width="0.3">task masking</tspan><tspan x="911.46" y="0"> (layer</tspan></text></g>
<g transform="translate(1253,2448.8) scale(0.9630,1)"><text font-family="'Liberation Sans', sans-serif" font-size="41" fill="#000" word-spacing="14.31" stroke="#fff" stroke-width="0.9"><tspan x="0" y="0" font-family="'Liberation Serif', serif" font-style="italic" font-size="43" stroke="none">f</tspan><tspan x="11.95" y="0"> trained on masked task </tspan><tspan x="530.18" y="0" font-family="'Liberation Serif', serif" font-style="italic" font-size="43" stroke="none">ψ</tspan><tspan x="532.88" y="-17" font-family="'Liberation Serif', serif" font-size="43" stroke="none" textLength="32.28" lengthAdjust="spacingAndGlyphs">^</tspan><tspan x="557.17" y="6.88" font-family="'Liberation Serif', serif" font-style="italic" font-size="30.1" stroke="none">f</tspan><tspan x="578.53" y="0" font-family="'Liberation Serif', serif" font-size="43" stroke="none">=</tspan><tspan x="615.78" y="0" font-family="'Liberation Serif', serif" font-size="43" stroke="none">(</tspan><tspan x="630.1" y="0" font-family="'DejaVu Math TeX Gyre', serif" font-size="39.99" stroke="none">𝒟</tspan><tspan x="667.01" y="6.88" font-family="'Liberation Serif', serif" font-style="italic" font-size="30.1" stroke="none">c</tspan><tspan x="680.37" y="0" font-family="'Liberation Serif', serif" font-size="43" stroke="none">,</tspan><tspan x="697.12" y="0" font-family="'DejaVu Math TeX Gyre', serif" font-size="39.99" stroke="none">𝒟</tspan><tspan x="734.03" y="10.75" font-family="'Liberation Serif', serif" font-style="italic" font-size="30.1" stroke="none">t</tspan><tspan x="734.03" y="-19.35" font-family="'Liberation Serif', serif" font-style="italic" font-size="30.1" stroke="none">f</tspan><tspan x="742.39" y="0" font-family="'Liberation Serif', serif" font-size="43" stroke="none">,</tspan><tspan x="759.14" y="0" font-family="'DejaVu Math TeX Gyre', serif" font-size="39.99" stroke="none">𝒟</tspan><tspan x="796.05" y="10.75" font-family="'Liberation Serif', serif" font-style="italic" font-size="30.1" stroke="none">a</tspan><tspan x="796.05" y="-19.35" font-family="'Liberation Serif', serif" font-style="italic" font-size="30.1" stroke="none">f</tspan><tspan x="804.42" y="-19.35" font-family="'Liberation Serif', serif" font-size="30.1" stroke="none">+1:</tspan><tspan x="844.8" y="-19.35" font-family="'Liberation Serif', serif" font-style="italic" font-size="30.1" stroke="none">F</tspan><tspan x="863.19" y="0" font-family="'Liberation Serif', serif" font-size="43" stroke="none">)</tspan><tspan x="877.51" y="0">, where</tspan></text></g>
<g transform="translate(1253,2502.1) scale(0.9630,1)"><text font-family="'Liberation Sans', sans-serif" font-size="41" fill="#000" stroke="#fff" stroke-width="0.9"><tspan x="0" y="0" font-family="'DejaVu Math TeX Gyre', serif" font-size="39.99" stroke="none">𝒟</tspan><tspan x="36.91" y="10.75" font-family="'Liberation Serif', serif" font-style="italic" font-size="30.1" stroke="none">t</tspan><tspan x="36.91" y="-19.35" font-family="'Liberation Serif', serif" font-style="italic" font-size="30.1" stroke="none">f</tspan><tspan x="52.27" y="0" font-family="'Liberation Serif', serif" font-size="43" stroke="none">=</tspan><tspan x="83.52" y="0" font-family="'DejaVu Math TeX Gyre', serif" font-size="39.99" stroke="none">𝒟</tspan><tspan x="120.43" y="10.75" font-family="'Liberation Serif', serif" font-style="italic" font-size="30.1" stroke="none">a</tspan><tspan x="120.43" y="-19.35" font-family="'Liberation Serif', serif" font-style="italic" font-size="30.1" stroke="none">f</tspan><tspan x="135.48" y="0"> if </tspan><tspan x="178.77" y="0" font-family="'Liberation Serif', serif" font-style="italic" font-size="43" stroke="none">f</tspan><tspan x="198.71" y="0" font-family="'Liberation Serif', serif" font-size="43" stroke="none">≠</tspan><tspan x="230.31" y="0" font-family="'Liberation Serif', serif" font-size="43" stroke="none">0</tspan><tspan x="251.81" y="0">, and </tspan><tspan x="354.39" y="0" font-family="'DejaVu Math TeX Gyre', serif" font-size="39.99" stroke="none">𝒟</tspan><tspan x="391.3" y="6.88" font-family="'Liberation Serif', serif" font-style="italic" font-size="30.1" stroke="none">t</tspan><tspan x="399.67" y="0"> otherwise).</tspan></text></g>
<g id="fig2" transform="translate(1150,1540) scale(0.52266)">
<rect x="143" y="68" width="1945" height="669" rx="98" fill="none" stroke="#1B2668" stroke-width="3.4"/>
<g transform="translate(1703,135) scale(1.1779,1)"><text font-family="'Liberation Serif', serif" font-size="47" fill="#000"><tspan x="0" y="0" font-size="46">Repeat </tspan><tspan x="139.21" y="0" font-family="'Liberation Serif', serif" font-style="italic" font-size="46">S</tspan><tspan x="162.21" y="0" font-size="46"> times</tspan></text></g>
<rect x="352" y="206" width="189" height="405" rx="26" fill="#DDE7FA" stroke="#9AAFE0" stroke-width="2.2"/>
<g transform="translate(426.59,424)"><text font-family="'Liberation Serif', serif" font-size="46" fill="#000"><tspan x="0" y="0" font-family="'Liberation Serif', serif" font-style="italic">p</tspan><tspan x="23" y="9" font-family="'Liberation Serif', serif" font-style="italic" font-size="32.2">θ</tspan></text></g>
<rect x="185" y="358" width="105" height="104" rx="12" fill="#90CCDD" stroke="#000" stroke-width="2.4"/>
<g transform="translate(211.11,424)"><text font-family="'Liberation Serif', serif" font-size="46" fill="#000"><tspan x="0" y="0" font-family="'DejaVu Math TeX Gyre', serif" font-size="42.78">𝒟</tspan><tspan x="39.49" y="8" font-family="'Liberation Serif', serif" font-style="italic" font-size="32.2">c</tspan></text></g>
<rect x="185" y="507" width="105" height="104" rx="12" fill="#90CCDD" stroke="#000" stroke-width="2.4"/>
<g transform="translate(211.3,573)"><text font-family="'Liberation Serif', serif" font-size="46" fill="#000"><tspan x="0" y="0" font-family="'Liberation Serif', serif" font-weight="bold">x</tspan><tspan x="23" y="11" font-size="32.2">2</tspan><tspan x="23" y="-19" font-size="32.2">(</tspan><tspan x="33.72" y="-19" font-family="'Liberation Serif', serif" font-style="italic" font-size="32.2">t</tspan><tspan x="42.67" y="-19" font-size="32.2">)</tspan></text></g>
<path d="M290 410 L352 410" fill="none" stroke="#000" stroke-width="2.6" stroke-linejoin="miter"/><path transform="translate(352,410) rotate(0)" d="M0 0 L-24 -10 L-17 0 L-24 10 Z" fill="#000"/>
<path d="M290 559 L350 559" fill="none" stroke="#000" stroke-width="2.6" stroke-linejoin="miter"/><path transform="translate(350,559) rotate(0)" d="M0 0 L-24 -10 L-17 0 L-24 10 Z" fill="#000"/>
<path d="M541 306 L589 306" fill="none" stroke="#000" stroke-width="2.6" stroke-linejoin="miter"/><path transform="translate(589,306) rotate(0)" d="M0 0 L-24 -10 L-17 0 L-24 10 Z" fill="#000"/>
<circle cx="641" cy="306" r="52" fill="#fff" stroke="#000" stroke-width="2.2"/>
<g transform="translate(623.66,320)"><text font-family="'DejaVu Math TeX Gyre', serif" font-size="44" fill="#000"><tspan x="0" y="0">∼</tspan></text></g>
<path d="M641 358 L641 423" fill="none" stroke="#000" stroke-width="2.6" stroke-linejoin="miter"/><path transform="translate(641,423) rotate(90)" d="M0 0 L-24 -10 L-17 0 L-24 10 Z" fill="#000"/>
<rect x="589" y="423" width="104" height="104" rx="12" fill="#699CF4" stroke="#000" stroke-width="2.4"/>
<g transform="translate(614.3,490)"><text font-family="'Liberation Serif', serif" font-size="46" fill="#000"><tspan x="0" y="0" font-family="'Liberation Serif', serif" font-weight="bold">y</tspan><tspan x="23" y="11" font-size="32.2">2</tspan><tspan x="23" y="-19" font-size="32.2">(</tspan><tspan x="33.72" y="-19" font-family="'Liberation Serif', serif" font-style="italic" font-size="32.2">t</tspan><tspan x="42.67" y="-19" font-size="32.2">)</tspan></text></g>
<rect x="979" y="207" width="189" height="405" rx="26" fill="#DDE7FA" stroke="#9AAFE0" stroke-width="2.2"/>
<g transform="translate(1053.59,425)"><text font-family="'Liberation Serif', serif" font-size="46" fill="#000"><tspan x="0" y="0" font-family="'Liberation Serif', serif" font-style="italic">p</tspan><tspan x="23" y="9" font-family="'Liberation Serif', serif" font-style="italic" font-size="32.2">θ</tspan></text></g>
<rect x="812" y="359" width="105" height="104" rx="12" fill="#90CCDD" stroke="#000" stroke-width="2.4"/>
<g transform="translate(838.11,425)"><text font-family="'Liberation Serif', serif" font-size="46" fill="#000"><tspan x="0" y="0" font-family="'DejaVu Math TeX Gyre', serif" font-size="42.78">𝒟</tspan><tspan x="39.49" y="8" font-family="'Liberation Serif', serif" font-style="italic" font-size="32.2">c</tspan></text></g>
<rect x="812" y="508" width="105" height="104" rx="12" fill="#90CCDD" stroke="#000" stroke-width="2.4"/>
<g transform="translate(838.3,574)"><text font-family="'Liberation Serif', serif" font-size="46" fill="#000"><tspan x="0" y="0" font-family="'Liberation Serif', serif" font-weight="bold">x</tspan><tspan x="23" y="11" font-size="32.2">1</tspan><tspan x="23" y="-19" font-size="32.2">(</tspan><tspan x="33.72" y="-19" font-family="'Liberation Serif', serif" font-style="italic" font-size="32.2">t</tspan><tspan x="42.67" y="-19" font-size="32.2">)</tspan></text></g>
<path d="M917 411 L979 411" fill="none" stroke="#000" stroke-width="2.6" stroke-linejoin="miter"/><path transform="translate(979,411) rotate(0)" d="M0 0 L-24 -10 L-17 0 L-24 10 Z" fill="#000"/>
<path d="M917 560 L973 560" fill="none" stroke="#000" stroke-width="2.6" stroke-linejoin="miter"/><path transform="translate(973,560) rotate(0)" d="M0 0 L-24 -10 L-17 0 L-24 10 Z" fill="#000"/>
<rect x="812" y="208" width="105" height="104" rx="12" fill="#A8C8F8" stroke="#000" stroke-width="2.4"/>
<g transform="translate(837.21,276)"><text font-family="'Liberation Serif', serif" font-size="46" fill="#000"><tspan x="0" y="0" font-family="'DejaVu Math TeX Gyre', serif" font-size="42.78">𝒟</tspan><tspan x="39.49" y="11" font-family="'Liberation Serif', serif" font-style="italic" font-size="32.2">a</tspan><tspan x="39.49" y="-19" font-size="32.2">2</tspan></text></g>
<path d="M917 260 L979 260" fill="none" stroke="#000" stroke-width="2.6" stroke-linejoin="miter"/><path transform="translate(979,260) rotate(0)" d="M0 0 L-24 -10 L-17 0 L-24 10 Z" fill="#000"/>
<path d="M1168 308 L1220 308" fill="none" stroke="#000" stroke-width="2.6" stroke-linejoin="miter"/><path transform="translate(1220,308) rotate(0)" d="M0 0 L-24 -10 L-17 0 L-24 10 Z" fill="#000"/>
<circle cx="1272" cy="308" r="52" fill="#fff" stroke="#000" stroke-width="2.2"/>
<g transform="translate(1254.66,322)"><text font-family="'DejaVu Math TeX Gyre', serif" font-size="44" fill="#000"><tspan x="0" y="0">∼</tspan></text></g>
<path d="M1272 360 L1272 423" fill="none" stroke="#000" stroke-width="2.6" stroke-linejoin="miter"/><path transform="translate(1272,423) rotate(90)" d="M0 0 L-24 -10 L-17 0 L-24 10 Z" fill="#000"/>
<rect x="1220" y="423" width="104" height="104" rx="12" fill="#699CF4" stroke="#000" stroke-width="2.4"/>
<g transform="translate(1245.3,490)"><text font-family="'Liberation Serif', serif" font-size="46" fill="#000"><tspan x="0" y="0" font-family="'Liberation Serif', serif" font-weight="bold">y</tspan><tspan x="23" y="11" font-size="32.2">1</tspan><tspan x="23" y="-19" font-size="32.2">(</tspan><tspan x="33.72" y="-19" font-family="'Liberation Serif', serif" font-style="italic" font-size="32.2">t</tspan><tspan x="42.67" y="-19" font-size="32.2">)</tspan></text></g>
<rect x="1606" y="208" width="189" height="405" rx="26" fill="#DDE7FA" stroke="#9AAFE0" stroke-width="2.2"/>
<g transform="translate(1680.59,426)"><text font-family="'Liberation Serif', serif" font-size="46" fill="#000"><tspan x="0" y="0" font-family="'Liberation Serif', serif" font-style="italic">p</tspan><tspan x="23" y="9" font-family="'Liberation Serif', serif" font-style="italic" font-size="32.2">θ</tspan></text></g>
<rect x="1439" y="360" width="105" height="104" rx="12" fill="#90CCDD" stroke="#000" stroke-width="2.4"/>
<g transform="translate(1465.11,426)"><text font-family="'Liberation Serif', serif" font-size="46" fill="#000"><tspan x="0" y="0" font-family="'DejaVu Math TeX Gyre', serif" font-size="42.78">𝒟</tspan><tspan x="39.49" y="8" font-family="'Liberation Serif', serif" font-style="italic" font-size="32.2">c</tspan></text></g>
<rect x="1439" y="509" width="105" height="104" rx="12" fill="#90CCDD" stroke="#000" stroke-width="2.4"/>
<g transform="translate(1465.3,575)"><text font-family="'Liberation Serif', serif" font-size="46" fill="#000"><tspan x="0" y="0" font-family="'Liberation Serif', serif" font-weight="bold">x</tspan><tspan x="23" y="11" font-size="32.2">0</tspan><tspan x="23" y="-19" font-size="32.2">(</tspan><tspan x="33.72" y="-19" font-family="'Liberation Serif', serif" font-style="italic" font-size="32.2">t</tspan><tspan x="42.67" y="-19" font-size="32.2">)</tspan></text></g>
<path d="M1544 412 L1606 412" fill="none" stroke="#000" stroke-width="2.6" stroke-linejoin="miter"/><path transform="translate(1606,412) rotate(0)" d="M0 0 L-24 -10 L-17 0 L-24 10 Z" fill="#000"/>
<path d="M1544 561 L1600 561" fill="none" stroke="#000" stroke-width="2.6" stroke-linejoin="miter"/><path transform="translate(1600,561) rotate(0)" d="M0 0 L-24 -10 L-17 0 L-24 10 Z" fill="#000"/>
<rect x="1439" y="209" width="105" height="104" rx="12" fill="#A8C8F8" stroke="#000" stroke-width="2.4"/>
<g transform="translate(1451.68,277)"><text font-family="'Liberation Serif', serif" font-size="42.32" fill="#000"><tspan x="0" y="0" font-family="'DejaVu Math TeX Gyre', serif" font-size="42.78">𝒟</tspan><tspan x="39.49" y="11" font-family="'Liberation Serif', serif" font-style="italic" font-size="32.2">a</tspan><tspan x="39.49" y="-19" font-size="32.2">1:2</tspan></text></g>
<path d="M1544 261 L1606 261" fill="none" stroke="#000" stroke-width="2.6" stroke-linejoin="miter"/><path transform="translate(1606,261) rotate(0)" d="M0 0 L-24 -10 L-17 0 L-24 10 Z" fill="#000"/>
<path d="M693 475 L750 475" fill="none" stroke="#000" stroke-width="2.6" stroke-linejoin="miter"/>
<path d="M238 611 L238 673 L750 673 L750 260 L812 260" fill="none" stroke="#000" stroke-width="2.6" stroke-linejoin="miter"/><path transform="translate(812,260) rotate(0)" d="M0 0 L-24 -10 L-17 0 L-24 10 Z" fill="#000"/>
<path d="M1325 475 L1378 475" fill="none" stroke="#000" stroke-width="2.6" stroke-linejoin="miter"/>
<path d="M864 611 L864 673 L1378 673" fill="none" stroke="#000" stroke-width="2.6" stroke-linejoin="miter"/>
<path d="M864 208 L864 166 L1378 166 L1378 673" fill="none" stroke="#000" stroke-width="2.6" stroke-linejoin="miter"/>
<path d="M1378 260 L1439 260" fill="none" stroke="#000" stroke-width="2.6" stroke-linejoin="miter"/><path transform="translate(1439,260) rotate(0)" d="M0 0 L-24 -10 L-17 0 L-24 10 Z" fill="#000"/>
<path d="M1795 410 L1847 410" fill="none" stroke="#000" stroke-width="2.6" stroke-linejoin="miter"/><path transform="translate(1847,410) rotate(0)" d="M0 0 L-24 -10 L-17 0 L-24 10 Z" fill="#000"/>
<rect x="1847" y="338" width="198" height="145" rx="16" fill="#7F8DFE" stroke="#555" stroke-width="1.6"/>
<g transform="translate(1889.42,428)"><text font-family="'Liberation Serif', serif" font-size="46" fill="#000"><tspan x="0" y="0" font-family="'Liberation Serif', serif" font-style="italic">p</tspan><tspan x="23" y="7" font-size="73.6" textLength="18.38" lengthAdjust="spacingAndGlyphs">(</tspan><tspan x="41.38" y="0" font-family="'Liberation Serif', serif" font-weight="bold">y</tspan><tspan x="64.38" y="11" font-size="32.2">0</tspan><tspan x="64.38" y="-19" font-size="32.2">(</tspan><tspan x="75.1" y="-19" font-family="'Liberation Serif', serif" font-style="italic" font-size="32.2">t</tspan><tspan x="84.05" y="-19" font-size="32.2">)</tspan><tspan x="94.77" y="7" font-size="73.6" textLength="18.38" lengthAdjust="spacingAndGlyphs">)</tspan></text></g>
<path d="M1946 483 L1946 778 L1408 778 L1408 838" fill="none" stroke="#000" stroke-width="2.6" stroke-linejoin="miter"/><path transform="translate(1408,838) rotate(90)" d="M0 0 L-24 -10 L-17 0 L-24 10 Z" fill="#000"/>
<rect x="1210" y="824" width="104" height="135" rx="12" fill="#fff" stroke="#000" stroke-width="2.2"/>
<g transform="translate(1251,877)"><text font-family="'Liberation Serif', serif" font-size="44" fill="#000"><tspan x="0" y="0">1</tspan></text></g>
<rect x="1240" y="892" width="42" height="2.4" fill="#000"/>
<g transform="translate(1251,941)"><text font-family="'Liberation Serif', serif" font-style="italic" font-size="44" fill="#000"><tspan x="0" y="0">S</tspan></text></g>
<path d="M1314 890 L1356 890" fill="none" stroke="#000" stroke-width="2.6" stroke-linejoin="miter"/><path transform="translate(1356,890) rotate(0)" d="M0 0 L-24 -10 L-17 0 L-24 10 Z" fill="#000"/>
<circle cx="1408" cy="890" r="52" fill="#fff" stroke="#000" stroke-width="2.2"/>
<g transform="translate(1393.9,906)"><text font-family="'Liberation Serif', serif" font-size="50" fill="#000"><tspan x="0" y="0">×</tspan></text></g>
<path d="M1460 890 L1544 890" fill="none" stroke="#000" stroke-width="2.6" stroke-linejoin="miter"/><path transform="translate(1544,890) rotate(0)" d="M0 0 L-24 -10 L-17 0 L-24 10 Z" fill="#000"/>
<circle cx="1596" cy="890" r="52" fill="#fff" stroke="#000" stroke-width="2.2"/>
<g transform="translate(1581.9,906)"><text font-family="'Liberation Serif', serif" font-size="50" fill="#000"><tspan x="0" y="0">+</tspan></text></g>
<path d="M1596 942 L1596 1006" fill="none" stroke="#000" stroke-width="2.6" stroke-linejoin="miter"/><path transform="translate(1596,1006) rotate(90)" d="M0 0 L-24 -10 L-17 0 L-24 10 Z" fill="#000"/>
<rect x="1398" y="1006" width="397" height="119" rx="12" fill="#7F8DFE" stroke="#555" stroke-width="1.6"/>
<g transform="translate(1423,1080) scale(1.1179,1)"><text font-family="'Liberation Serif', serif" font-weight="bold" font-size="46" fill="#000"><tspan x="0" y="0">Joint Predictive</tspan></text></g>
<circle cx="580" cy="849" r="52" fill="#fff" stroke="#000" stroke-width="2.2"/>
<g transform="translate(562.66,863)"><text font-family="'DejaVu Math TeX Gyre', serif" font-size="44" fill="#000"><tspan x="0" y="0">∼</tspan></text></g>
<g transform="translate(667,860) scale(1.1478,1)"><text font-family="'Liberation Serif', serif" font-size="45" fill="#111"><tspan x="0" y="0">Sampling</tspan></text></g>
<circle cx="580" cy="975" r="52" fill="#fff" stroke="#000" stroke-width="2.2"/>
<g transform="translate(565.9,991)"><text font-family="'Liberation Serif', serif" font-size="50" fill="#000"><tspan x="0" y="0">+</tspan></text></g>
<g transform="translate(668,987) scale(1.1807,1)"><text font-family="'Liberation Serif', serif" font-size="45" fill="#111"><tspan x="0" y="0">Summation</tspan></text></g>
<circle cx="580" cy="1100" r="52" fill="#fff" stroke="#000" stroke-width="2.2"/>
<g transform="translate(565.9,1116)"><text font-family="'Liberation Serif', serif" font-size="50" fill="#000"><tspan x="0" y="0">×</tspan></text></g>
<g transform="translate(674,1110) scale(1.1409,1)"><text font-family="'Liberation Serif', serif" font-size="45" fill="#111"><tspan x="0" y="0">Scaling</tspan></text></g>
</g>
<g stroke="#6399EE" stroke-width="0.5" stroke-linejoin="round"><g transform="translate(2700.1,408.1) scale(0.9553,1)"><text font-family="'Liberation Sans', sans-serif" font-weight="bold" font-size="53.5" fill="#6399EE"><tspan x="0" y="0" letter-spacing="0.9">Data Augmentation Through Noising</tspan></text></g></g><rect x="2344.9" y="437.3" width="1631.7" height="1.6" fill="#222"/>
<g transform="translate(2687.2,1005.4) scale(0.9662,1)"><text font-family="'Liberation Sans', sans-serif" font-size="37.6" fill="#000" stroke="#fff" stroke-width="0.9"><tspan x="0" y="0" fill="#6399EE" stroke="#fff" stroke-width="0.3">Figure 3: </tspan><tspan x="158.83" y="0">A typical training task based on a sawtooth wave.</tspan></text></g>
<g stroke="#6399EE" stroke-width="0.5" stroke-linejoin="round"><g transform="translate(2890.7,1143.5) scale(0.9599,1)"><text font-family="'Liberation Sans', sans-serif" font-weight="bold" font-size="53.5" fill="#6399EE"><tspan x="0" y="0" letter-spacing="0.9">Experimental Results</tspan></text></g></g><rect x="2344.9" y="1172.7" width="1631.7" height="1.6" fill="#222"/>
<rect x="2690.3" y="1204.8" width="1239.1" height="58.1" fill="#ACCDF8"/>
<rect x="2380.5" y="1262.9" width="309.8" height="175" fill="#ACCDF8"/>
<path d="M2690.3 1204.8H3929.4M2380.5 1262.9H3929.4M2380.5 1321H3929.4M2380.5 1379.1H3929.4M2380.5 1437.9H3929.4M2380.5 1262.9V1437.9M2690.3 1204.8V1437.9M3000.1 1204.8V1437.9M3309.8 1204.8V1437.9M3619.6 1204.8V1437.9M3929.4 1204.8V1437.9" stroke="#3a3a3a" stroke-width="1.1" fill="none"/>
<g transform="translate(2788.67,1244.3) scale(0.9926,1)"><text font-family="'Liberation Sans', sans-serif" font-size="41" fill="#000"><tspan x="0" y="0">DANP</tspan></text></g>
<g transform="translate(3066.67,1244.3) scale(0.9687,1)"><text font-family="'Liberation Sans', sans-serif" font-size="41" fill="#000"><tspan x="0" y="0">ConvCNP</tspan></text></g>
<g transform="translate(3375.26,1244.3) scale(0.9693,1)"><text font-family="'Liberation Sans', sans-serif" font-size="41" fill="#000"><tspan x="0" y="0">ConvGNP</tspan></text></g>
<g transform="translate(3654.08,1244.3) scale(0.9610,1)"><text font-family="'Liberation Sans', sans-serif" font-size="41" fill="#000"><tspan x="0" y="0">AR ConvCNP</tspan></text></g>
<g transform="translate(2449.44,1302.4) scale(1.0057,1)"><text font-family="'Liberation Sans', sans-serif" font-size="41" fill="#000"><tspan x="0" y="0">Sawtooth</tspan></text></g>
<g transform="translate(2417.3,1360.5) scale(0.9509,1)"><text font-family="'Liberation Sans', sans-serif" font-size="41" fill="#000"><tspan x="0" y="0">Square Wave</tspan></text></g>
<g transform="translate(2508.68,1418.6) scale(0.9020,1)"><text font-family="'Liberation Sans', sans-serif" font-size="41" fill="#000"><tspan x="0" y="0">GP</tspan></text></g>
<g transform="translate(2726.33,1302.4) scale(1.0467,1)"><text font-family="'Liberation Sans', sans-serif" font-size="41" fill="#000"><tspan x="0" y="0" font-family="'Liberation Sans', sans-serif" font-weight="bold">82.26</tspan><tspan x="102.6" y="0"> </tspan><tspan x="113.99" y="0" font-family="'Liberation Serif', serif" font-size="40">±</tspan><tspan x="135.94" y="0"> </tspan><tspan x="147.34" y="0" font-family="'Liberation Sans', sans-serif" font-weight="bold">2.51</tspan></text></g>
<g transform="translate(3036.08,1302.4) scale(1.0467,1)"><text font-family="'Liberation Sans', sans-serif" font-size="41" fill="#000"><tspan x="0" y="0" stroke="#fff" stroke-width="0.9">32.23</tspan><tspan x="102.6" y="0"> </tspan><tspan x="113.99" y="0" font-family="'Liberation Serif', serif" font-size="40">±</tspan><tspan x="135.94" y="0"> </tspan><tspan x="147.34" y="0" stroke="#fff" stroke-width="0.9">2.80</tspan></text></g>
<g transform="translate(3345.83,1302.4) scale(1.0467,1)"><text font-family="'Liberation Sans', sans-serif" font-size="41" fill="#000"><tspan x="0" y="0" stroke="#fff" stroke-width="0.9">38.02</tspan><tspan x="102.6" y="0"> </tspan><tspan x="113.99" y="0" font-family="'Liberation Serif', serif" font-size="40">±</tspan><tspan x="135.94" y="0"> </tspan><tspan x="147.34" y="0" stroke="#fff" stroke-width="0.9">3.36</tspan></text></g>
<g transform="translate(3655.63,1302.4) scale(1.0467,1)"><text font-family="'Liberation Sans', sans-serif" font-size="41" fill="#000"><tspan x="0" y="0" stroke="#fff" stroke-width="0.9">63.23</tspan><tspan x="102.6" y="0"> </tspan><tspan x="113.99" y="0" font-family="'Liberation Serif', serif" font-size="40">±</tspan><tspan x="135.94" y="0"> </tspan><tspan x="147.34" y="0" stroke="#fff" stroke-width="0.9">2.81</tspan></text></g>
<g transform="translate(2726.33,1360.5) scale(1.0467,1)"><text font-family="'Liberation Sans', sans-serif" font-size="41" fill="#000"><tspan x="0" y="0" font-family="'Liberation Sans', sans-serif" font-weight="bold">97.16</tspan><tspan x="102.6" y="0"> </tspan><tspan x="113.99" y="0" font-family="'Liberation Serif', serif" font-size="40">±</tspan><tspan x="135.94" y="0"> </tspan><tspan x="147.34" y="0" font-family="'Liberation Sans', sans-serif" font-weight="bold">4.90</tspan></text></g>
<g transform="translate(3036.08,1360.5) scale(1.0467,1)"><text font-family="'Liberation Sans', sans-serif" font-size="41" fill="#000"><tspan x="0" y="0" stroke="#fff" stroke-width="0.9">13.55</tspan><tspan x="102.6" y="0"> </tspan><tspan x="113.99" y="0" font-family="'Liberation Serif', serif" font-size="40">±</tspan><tspan x="135.94" y="0"> </tspan><tspan x="147.34" y="0" stroke="#fff" stroke-width="0.9">1.51</tspan></text></g>
<g transform="translate(3345.83,1360.5) scale(1.0467,1)"><text font-family="'Liberation Sans', sans-serif" font-size="41" fill="#000"><tspan x="0" y="0" stroke="#fff" stroke-width="0.9">10.30</tspan><tspan x="102.6" y="0"> </tspan><tspan x="113.99" y="0" font-family="'Liberation Serif', serif" font-size="40">±</tspan><tspan x="135.94" y="0"> </tspan><tspan x="147.34" y="0" stroke="#fff" stroke-width="0.9">1.31</tspan></text></g>
<g transform="translate(3655.63,1360.5) scale(1.0467,1)"><text font-family="'Liberation Sans', sans-serif" font-size="41" fill="#000"><tspan x="0" y="0" stroke="#fff" stroke-width="0.9">23.25</tspan><tspan x="102.6" y="0"> </tspan><tspan x="113.99" y="0" font-family="'Liberation Serif', serif" font-size="40">±</tspan><tspan x="135.94" y="0"> </tspan><tspan x="147.34" y="0" stroke="#fff" stroke-width="0.9">2.19</tspan></text></g>
<g transform="translate(2726.33,1418.6) scale(1.0467,1)"><text font-family="'Liberation Sans', sans-serif" font-size="41" fill="#000"><tspan x="0" y="0" stroke="#fff" stroke-width="0.9">39.52</tspan><tspan x="102.6" y="0"> </tspan><tspan x="113.99" y="0" font-family="'Liberation Serif', serif" font-size="40">±</tspan><tspan x="135.94" y="0"> </tspan><tspan x="147.34" y="0" stroke="#fff" stroke-width="0.9">2.88</tspan></text></g>
<g transform="translate(3047.69,1418.6) scale(1.0498,1)"><text font-family="'Liberation Sans', sans-serif" font-size="41" fill="#000"><tspan x="0" y="0" stroke="#fff" stroke-width="0.9">7.19</tspan><tspan x="79.8" y="0"> </tspan><tspan x="91.19" y="0" font-family="'Liberation Serif', serif" font-size="40">±</tspan><tspan x="113.14" y="0"> </tspan><tspan x="124.53" y="0" stroke="#fff" stroke-width="0.9">1.12</tspan></text></g>
<g transform="translate(3345.83,1418.6) scale(1.0467,1)"><text font-family="'Liberation Sans', sans-serif" font-size="41" fill="#000"><tspan x="0" y="0" font-family="'Liberation Sans', sans-serif" font-weight="bold">45.38</tspan><tspan x="102.6" y="0"> </tspan><tspan x="113.99" y="0" font-family="'Liberation Serif', serif" font-size="40">±</tspan><tspan x="135.94" y="0"> </tspan><tspan x="147.34" y="0" font-family="'Liberation Sans', sans-serif" font-weight="bold">3.26</tspan></text></g>
<g transform="translate(3655.63,1418.6) scale(1.0467,1)"><text font-family="'Liberation Sans', sans-serif" font-size="41" fill="#000"><tspan x="0" y="0" stroke="#fff" stroke-width="0.9">29.11</tspan><tspan x="102.6" y="0"> </tspan><tspan x="113.99" y="0" font-family="'Liberation Serif', serif" font-size="40">±</tspan><tspan x="135.94" y="0"> </tspan><tspan x="147.34" y="0" stroke="#fff" stroke-width="0.9">2.29</tspan></text></g>
<g transform="translate(2409.2,1501.4) scale(0.9567,1)"><text font-family="'Liberation Sans', sans-serif" font-size="37.6" fill="#000" stroke="#fff" stroke-width="0.9"><tspan x="0" y="0" fill="#6399EE" stroke="#fff" stroke-width="0.3">Table 2: </tspan><tspan x="146.31" y="0">Average likelihoods attained by DANPs and other NP models on 1D regression tasks.</tspan></text></g>
<g transform="translate(2344.9,2099.3) scale(0.9640,1)"><text font-family="'Liberation Sans', sans-serif" font-size="37.6" fill="#000" stroke="#fff" stroke-width="0.9"><tspan x="0" y="0" fill="#6399EE" stroke="#fff" stroke-width="0.3">Figure 4: </tspan><tspan x="158.83" y="0">Example of DANP predictives in layers 0 (left), 1 (middle) and 2 (right) for a sawtooth bench-</tspan></text></g>
<g transform="translate(2475,2139.5) scale(0.9645,1)"><text font-family="'Liberation Sans', sans-serif" font-size="37.6" fill="#000" stroke="#fff" stroke-width="0.9"><tspan x="0" y="0">mark task with </tspan><tspan x="250.72" y="0" font-family="'Liberation Serif', serif" font-size="39.56" stroke="none">|</tspan><tspan x="258.64" y="0" font-family="'DejaVu Math TeX Gyre', serif" font-size="36.79" stroke="none">𝒟</tspan><tspan x="292.59" y="6.33" font-family="'Liberation Serif', serif" font-style="italic" font-size="27.69" stroke="none">c</tspan><tspan x="304.88" y="0" font-family="'Liberation Serif', serif" font-size="39.56" stroke="none">|</tspan><tspan x="322.8" y="0" font-family="'Liberation Serif', serif" font-size="39.56" stroke="none">=</tspan><tspan x="355.11" y="0" font-family="'Liberation Serif', serif" font-size="39.56" stroke="none">2</tspan><tspan x="374.89" y="0">.  The deployment process starts in layer 2 and ends in layer 0.</tspan></text></g>
<g transform="translate(2344.9,2734.6) scale(0.9418,1)"><text font-family="'Liberation Sans', sans-serif" font-size="37.6" fill="#000" stroke="#fff" stroke-width="0.9"><tspan x="0" y="0" fill="#6399EE" stroke="#fff" stroke-width="0.3">Figure 5: </tspan><tspan x="158.83" y="0">Comparison of sawtooth regression DANP performance against relevant baselines.  Each data</tspan></text></g>
<g transform="translate(2410.7,2775.7) scale(0.9680,1)"><text font-family="'Liberation Sans', sans-serif" font-size="37.6" fill="#000" stroke="#fff" stroke-width="0.9"><tspan x="0" y="0">point reports the average likelihood obtained across 10 tasks with a specific context size </tspan><tspan x="1475.56" y="0" font-family="'Liberation Serif', serif" font-size="39.56" stroke="none">|</tspan><tspan x="1483.48" y="0" font-family="'DejaVu Math TeX Gyre', serif" font-size="36.79" stroke="none">𝒟</tspan><tspan x="1517.44" y="6.33" font-family="'Liberation Serif', serif" font-style="italic" font-size="27.69" stroke="none">c</tspan><tspan x="1529.73" y="0" font-family="'Liberation Serif', serif" font-size="39.56" stroke="none">|</tspan><tspan x="1537.65" y="0">.</tspan></text></g>
<g id="fig3"><path d="M2511.4 900V482.6M2616 900V482.6M2720.5 900V482.6M2825.1 900V482.6M2929.6 900V482.6M2490.5 896.9H2950.5M2490.5 845.1H2950.5M2490.5 793.2H2950.5M2490.5 741.3H2950.5M2490.5 689.4H2950.5M2490.5 637.5H2950.5M2490.5 585.6H2950.5M2490.5 533.7H2950.5M2490.5 481.9H2950.5" stroke="#e3e3e3" stroke-width="1.3" fill="none"/><path d="M2511.4 724L2581.1 585.6L2581.1 793.2L2685.7 585.6L2685.7 793.2L2790.2 585.6L2790.2 793.2L2894.7 585.6L2894.7 793.2L2929.6 724" stroke="#8AB4F0" stroke-width="1.9" fill="none" stroke-linejoin="round"/><path d="M2490.5 482.6V900H2950.5M2511.4 900v5M2616 900v5M2720.5 900v5M2825.1 900v5M2929.6 900v5M2490.5 896.9h-5M2490.5 845.1h-5M2490.5 793.2h-5M2490.5 741.3h-5M2490.5 689.4h-5M2490.5 637.5h-5M2490.5 585.6h-5M2490.5 533.7h-5M2490.5 481.9h-5" stroke="#000" stroke-width="1.3" fill="none"/><g transform="translate(2500.51,922.34)"><text font-family="'Liberation Serif', serif" font-size="20.5" fill="#000"><tspan x="0" y="0">−2</tspan></text></g><g transform="translate(2605.06,922.34)"><text font-family="'Liberation Serif', serif" font-size="20.5" fill="#000"><tspan x="0" y="0">−1</tspan></text></g><g transform="translate(2715.38,922.34)"><text font-family="'Liberation Serif', serif" font-size="20.5" fill="#000"><tspan x="0" y="0">0</tspan></text></g><g transform="translate(2819.93,922.34)"><text font-family="'Liberation Serif', serif" font-size="20.5" fill="#000"><tspan x="0" y="0">1</tspan></text></g><g transform="translate(2924.47,922.34)"><text font-family="'Liberation Serif', serif" font-size="20.5" fill="#000"><tspan x="0" y="0">2</tspan></text></g><g transform="translate(2434.57,903.74)"><text font-family="'Liberation Serif', serif" font-size="20.5" fill="#000"><tspan x="0" y="0">−0.50</tspan></text></g><g transform="translate(2434.57,851.85)"><text font-family="'Liberation Serif', serif" font-size="20.5" fill="#000"><tspan x="0" y="0">−0.25</tspan></text></g><g transform="translate(2446.13,799.97)"><text font-family="'Liberation Serif', serif" font-size="20.5" fill="#000"><tspan x="0" y="0">0.00</tspan></text></g><g transform="translate(2446.13,748.08)"><text font-family="'Liberation Serif', serif" font-size="20.5" fill="#000"><tspan x="0" y="0">0.25</tspan></text></g><g transform="translate(2446.13,696.2)"><text font-family="'Liberation Serif', serif" font-size="20.5" fill="#000"><tspan x="0" y="0">0.50</tspan></text></g><g transform="translate(2446.13,644.31)"><text font-family="'Liberation Serif', serif" font-size="20.5" fill="#000"><tspan x="0" y="0">0.75</tspan></text></g><g transform="translate(2446.13,592.42)"><text font-family="'Liberation Serif', serif" font-size="20.5" fill="#000"><tspan x="0" y="0">1.00</tspan></text></g><g transform="translate(2446.13,540.54)"><text font-family="'Liberation Serif', serif" font-size="20.5" fill="#000"><tspan x="0" y="0">1.25</tspan></text></g><g transform="translate(2446.13,488.65)"><text font-family="'Liberation Serif', serif" font-size="20.5" fill="#000"><tspan x="0" y="0">1.50</tspan></text></g><g transform="translate(2714.74,949.6)"><text font-family="'Liberation Serif', serif" font-style="italic" font-size="26" fill="#000"><tspan x="0" y="0">x</tspan></text></g><path d="M2514.1 708.4l7 7m0 -7l-7 7M2549.7 637.9l7 7m0 -7l-7 7M2559 619.3l7 7m0 -7l-7 7M2566.8 603.8l7 7m0 -7l-7 7M2589.2 765.7l7 7m0 -7l-7 7M2594.6 756.4l7 7m0 -7l-7 7M2610.9 722.3l7 7m0 -7l-7 7M2621.8 702.2l7 7m0 -7l-7 7M2631 684.3l7 7m0 -7l-7 7M2635.7 675.1l7 7m0 -7l-7 7M2678.3 589.9l7 7m0 -7l-7 7M2697.6 759.5l7 7m0 -7l-7 7M2707.7 739.3l7 7m0 -7l-7 7M2728.6 697.5l7 7m0 -7l-7 7M2734 687.4l7 7m0 -7l-7 7M2789 785l7 7m0 -7l-7 7M2792.9 777.3l7 7m0 -7l-7 7M2809.2 744.8l7 7m0 -7l-7 7M2816.1 731.6l7 7m0 -7l-7 7M2823.9 716.9l7 7m0 -7l-7 7M2864.9 635.6l7 7m0 -7l-7 7M2886.6 591.4l7 7m0 -7l-7 7M2895.1 781.9l7 7m0 -7l-7 7M2902.1 768.8l7 7m0 -7l-7 7M2909.8 752.5l7 7m0 -7l-7 7M2914.5 743.2l7 7m0 -7l-7 7" stroke="#E1812C" stroke-width="2.1" fill="none"/><g fill="#0A0AE6"><circle cx="2538.5" cy="670" r="4.2"/><circle cx="2545.5" cy="656.9" r="4.2"/><circle cx="2560.2" cy="627.4" r="4.2"/><circle cx="2648.5" cy="659.2" r="4.2"/><circle cx="2668.6" cy="619.7" r="4.2"/><circle cx="2719" cy="727.3" r="4.2"/><circle cx="2832.8" cy="708.8" r="4.2"/><circle cx="2836.7" cy="702.6" r="4.2"/><circle cx="2881.6" cy="612.7" r="4.2"/><circle cx="2926.5" cy="730.4" r="4.2"/></g><rect x="2737.5" y="491.9" width="202.9" height="81.3" rx="4" fill="#ECECEC"/><path d="M2744.5 508.2H2787.1" stroke="#8AB4F0" stroke-width="1.9"/><path d="M2761.9 528.7l7 7m0 -7l-7 7" stroke="#E1812C" stroke-width="2.1" fill="none"/><g fill="#0A0AE6"><circle cx="2765.4" cy="556.2" r="3.6"/></g><g transform="translate(2801.82,514.38) scale(0.9737,1)"><text font-family="'Liberation Serif', serif" font-size="20.5" fill="#000"><tspan x="0" y="0">True function</tspan></text></g><g transform="translate(2801.82,537.61) scale(0.9734,1)"><text font-family="'Liberation Serif', serif" font-size="20.5" fill="#000"><tspan x="0" y="0">Original targets</tspan></text></g><g transform="translate(2801.82,561.62) scale(0.9783,1)"><text font-family="'Liberation Serif', serif" font-size="20.5" fill="#000"><tspan x="0" y="0">Original context</tspan></text></g><path d="M2990.8 900V482.6M3095.3 900V482.6M3199.9 900V482.6M3304.4 900V482.6M3409 900V482.6M2969.9 896.9H3429.9M2969.9 845.1H3429.9M2969.9 793.2H3429.9M2969.9 741.3H3429.9M2969.9 689.4H3429.9M2969.9 637.5H3429.9M2969.9 585.6H3429.9M2969.9 533.7H3429.9M2969.9 481.9H3429.9" stroke="#e3e3e3" stroke-width="1.3" fill="none"/><path d="M2990.8 693.5L2991 716.2L2991.1 721.6L2991.3 754.6L2991.5 727.3L2991.7 728.2L2991.9 723.2L2992.1 732.1L2992.2 721.8L2992.4 728.9L2992.6 742.7L2992.8 705L2993 704.7L2993.1 690.2L2993.3 718.1L2993.5 725.5L2993.7 727.5L2993.9 744.2L2994.1 700.8L2994.2 735.9L2994.4 736.9L2994.6 719.9L2994.8 690.7L2995 711.7L2995.1 732.7L2995.3 727.1L2995.5 704L2995.7 717L2995.9 727L2996.1 717.4L2996.2 700.5L2996.4 679.2L2996.6 733.6L2996.8 722.7L2997 725.4L2997.1 752.5L2997.3 726.7L2997.5 728L2997.7 691.1L2997.9 712.1L2998.1 737.2L2998.2 698.2L2998.4 714.9L2998.6 738.1L2998.8 718.3L2999 717.8L2999.1 722.2L2999.3 706.5L2999.5 744.9L2999.7 710.8L2999.9 688.7L3000.1 691.1L3000.2 686.3L3000.4 685.8L3000.6 679.2L3000.8 723.2L3001 689.4L3001.1 735.1L3001.3 713.3L3001.5 735.3L3001.7 684.5L3001.9 679.3L3002.1 705L3002.2 671L3002.4 712.4L3002.6 698L3002.8 697.6L3003 717.9L3003.1 692L3003.3 666.1L3003.5 716.2L3003.7 683L3003.9 700.6L3004.1 667.5L3004.2 689L3004.4 685.4L3004.6 685.6L3004.8 691.9L3005 719.6L3005.1 671.8L3005.3 718.4L3005.5 690.7L3005.7 683.9L3005.9 708.3L3006.1 691.2L3006.2 673.4L3006.4 693.3L3006.6 707.7L3006.8 741.8L3007 708.4L3007.1 701.5L3007.3 699.9L3007.5 707.1L3007.7 684L3007.9 699.8L3008.1 691.5L3008.2 677.8L3008.4 703.5L3008.6 693.7L3008.8 651.5L3009 673L3009.1 709.5L3009.3 688.5L3009.5 677.2L3009.7 665.4L3009.9 683.5L3010.1 694.7L3010.2 697.8L3010.4 674L3010.6 679.3L3010.8 693.1L3011 687.1L3011.1 690.6L3011.3 670.8L3011.5 694.6L3011.7 674.2L3011.9 667.6L3012.1 673.5L3012.2 695.6L3012.4 658.1L3012.6 692.2L3012.8 673L3013 692.8L3013.2 709.3L3013.3 675.4L3013.5 674L3013.7 679.8L3013.9 673.4L3014.1 688.8L3014.2 690L3014.4 679.9L3014.6 644.2L3014.8 662.5L3015 684.8L3015.2 666.1L3015.3 683.4L3015.5 682.7L3015.7 659.9L3015.9 683.1L3016.1 702.3L3016.2 688.9L3016.4 671.6L3016.6 670.5L3016.8 651.2L3017 684.2L3017.2 659.2L3017.3 664L3017.5 673.4L3017.7 656.3L3017.9 661.8L3018.1 684.5L3018.2 651.2L3018.4 689.9L3018.6 667.7L3018.8 668.3L3019 660.8L3019.2 680L3019.3 667.9L3019.5 669.3L3019.7 649.6L3019.9 679.8L3020.1 664.6L3020.2 669.9L3020.4 687.2L3020.6 619.2L3020.8 665.6L3021 689.3L3021.2 639.7L3021.3 681.5L3021.5 656.6L3021.7 647.9L3021.9 673.3L3022.1 669.2L3022.2 670.7L3022.4 663.4L3022.6 688.4L3022.8 681.5L3023 662.5L3023.2 642L3023.3 648.6L3023.5 629.6L3023.7 646.8L3023.9 667L3024.1 660L3024.2 692.1L3024.4 673.5L3024.6 674.2L3024.8 651.9L3025 645.1L3025.2 665.3L3025.3 665.4L3025.5 681.3L3025.7 656.8L3025.9 650.1L3026.1 646.3L3026.2 666.9L3026.4 619.4L3026.6 632.5L3026.8 654.1L3027 661.1L3027.2 657.2L3027.3 648.8L3027.5 651.4L3027.7 642.5L3027.9 637.2L3028.1 626.7L3028.2 630.1L3028.4 651.1L3028.6 642.3L3028.8 655.1L3029 658.1L3029.2 615.3L3029.3 655.3L3029.5 613.2L3029.7 652.7L3029.9 642L3030.1 627.4L3030.2 645.2L3030.4 638.6L3030.6 649L3030.8 652.6L3031 647L3031.2 654.9L3031.3 615.7L3031.5 646L3031.7 613.4L3031.9 688.1L3032.1 641.7L3032.2 632.1L3032.4 646.3L3032.6 622.3L3032.8 629.7L3033 644.9L3033.2 632.4L3033.3 591.6L3033.5 634.8L3033.7 633.7L3033.9 645.9L3034.1 635.8L3034.3 659.6L3034.4 640.7L3034.6 595.1L3034.8 618.4L3035 625.3L3035.2 617.1L3035.3 603.5L3035.5 625.1L3035.7 599.6L3035.9 616.2L3036.1 631.2L3036.3 604.4L3036.4 673.5L3036.6 642.7L3036.8 628.1L3037 647.8L3037.2 634.6L3037.3 642.4L3037.5 642.3L3037.7 584.7L3037.9 619.8L3038.1 631L3038.3 607.4L3038.4 633.4L3038.6 613.9L3038.8 622.7L3039 600.6L3039.2 652.1L3039.3 614.5L3039.5 625.1L3039.7 646.5L3039.9 608.4L3040.1 641L3040.3 598.2L3040.4 616.7L3040.6 613.2L3040.8 623.3L3041 608.9L3041.2 655.7L3041.3 622.3L3041.5 633.9L3041.7 618.1L3041.9 623.3L3042.1 611.7L3042.3 636L3042.4 590.1L3042.6 581.7L3042.8 624.3L3043 620.6L3043.2 615.1L3043.3 598.1L3043.5 587L3043.7 639.4L3043.9 629L3044.1 636.3L3044.3 636.8L3044.4 645.4L3044.6 610.9L3044.8 636.5L3045 590.8L3045.2 600.6L3045.3 633.2L3045.5 632.8L3045.7 625.4L3045.9 590.7L3046.1 628.7L3046.3 639.3L3046.4 614.3L3046.6 606.8L3046.8 624L3047 584.8L3047.2 608L3047.3 604L3047.5 625.9L3047.7 611.6L3047.9 613.3L3048.1 648.9L3048.3 605L3048.4 640.1L3048.6 609.6L3048.8 633.9L3049 574.1L3049.2 602.5L3049.3 593.1L3049.5 591.7L3049.7 629.5L3049.9 645.5L3050.1 611.9L3050.3 590.6L3050.4 604L3050.6 591.8L3050.8 588.9L3051 629.9L3051.2 599.2L3051.3 570.3L3051.5 613.1L3051.7 637.5L3051.9 606.6L3052.1 610.2L3052.3 594.8L3052.4 616.8L3052.6 599.7L3052.8 638.6L3053 586L3053.2 573.1L3053.3 577.7L3053.5 625.2L3053.7 593.6L3053.9 649.5L3054.1 593.5L3054.3 599.1L3054.4 614.5L3054.6 591.4L3054.8 594.5L3055 580.5L3055.2 594L3055.4 591.8L3055.5 628.5L3055.7 614.8L3055.9 602.8L3056.1 589.3L3056.3 594.1L3056.4 568.1L3056.6 608.1L3056.8 597L3057 588.2L3057.2 596.1L3057.4 583.4L3057.5 601.2L3057.7 566.9L3057.9 596.2L3058.1 571.4L3058.3 590.5L3058.4 564.3L3058.6 613.1L3058.8 580.1L3059 595.9L3059.2 584.3L3059.4 567.6L3059.5 606.9L3059.7 609.6L3059.9 603.8L3060.1 582.1L3060.3 618.2L3060.4 584L3060.6 814.8L3060.8 812L3061 798.4L3061.2 785.3L3061.4 802.1L3061.5 799.4L3061.7 791.4L3061.9 795L3062.1 835.5L3062.3 796.9L3062.4 787.8L3062.6 770.2L3062.8 753.7L3063 776.8L3063.2 786.5L3063.4 803.9L3063.5 785.6L3063.7 773.5L3063.9 764.8L3064.1 801L3064.3 781.6L3064.4 771.4L3064.6 753.3L3064.8 780.2L3065 793.4L3065.2 795.6L3065.4 789.6L3065.5 794.2L3065.7 768.7L3065.9 764.2L3066.1 769.7L3066.3 761.4L3066.4 789L3066.6 774.5L3066.8 787.1L3067 779.5L3067.2 759L3067.4 780L3067.5 810.9L3067.7 783.1L3067.9 790.6L3068.1 803.7L3068.3 791.2L3068.4 761L3068.6 748.4L3068.8 784.9L3069 759.2L3069.2 755.8L3069.4 795.3L3069.5 775.8L3069.7 775.6L3069.9 771.5L3070.1 801.2L3070.3 779.7L3070.4 755.4L3070.6 751.5L3070.8 741.5L3071 778L3071.2 740.1L3071.4 760.2L3071.5 794.3L3071.7 757.9L3071.9 776.5L3072.1 761.3L3072.3 771.5L3072.4 748.8L3072.6 764.7L3072.8 773.5L3073 751.9L3073.2 763.6L3073.4 774.6L3073.5 745.5L3073.7 773.8L3073.9 777.3L3074.1 775.3L3074.3 790.7L3074.4 774.8L3074.6 733.4L3074.8 780.2L3075 764.2L3075.2 782.8L3075.4 774L3075.5 737.4L3075.7 747.6L3075.9 772.9L3076.1 762.1L3076.3 775.9L3076.5 774.8L3076.6 776.7L3076.8 776L3077 754.8L3077.2 749.8L3077.4 751.3L3077.5 762.2L3077.7 782L3077.9 759.7L3078.1 773.9L3078.3 742.8L3078.5 748L3078.6 744.4L3078.8 762.7L3079 787.2L3079.2 739.7L3079.4 734.8L3079.5 780.6L3079.7 752.6L3079.9 734.3L3080.1 772.5L3080.3 723.8L3080.5 759.4L3080.6 771.4L3080.8 729.4L3081 747.4L3081.2 763.2L3081.4 736.7L3081.5 784.6L3081.7 720.1L3081.9 764.5L3082.1 745.4L3082.3 756.7L3082.5 742.1L3082.6 734.1L3082.8 762.8L3083 735.1L3083.2 753.1L3083.4 759.4L3083.5 751.2L3083.7 764.1L3083.9 760.2L3084.1 730.1L3084.3 748.5L3084.5 726.1L3084.6 737.9L3084.8 762.3L3085 776.8L3085.2 755.8L3085.4 739.3L3085.5 743.2L3085.7 757.2L3085.9 725.4L3086.1 772L3086.3 763.4L3086.5 739.4L3086.6 703.9L3086.8 733.8L3087 757.6L3087.2 730.1L3087.4 728.2L3087.5 723.5L3087.7 746L3087.9 752.3L3088.1 736.3L3088.3 730.9L3088.5 710.4L3088.6 701.7L3088.8 749.4L3089 745.4L3089.2 737.3L3089.4 740.1L3089.5 727.2L3089.7 726.8L3089.9 730.3L3090.1 711.5L3090.3 736.7L3090.5 751.5L3090.6 759.8L3090.8 750.4L3091 750.3L3091.2 764.3L3091.4 720.6L3091.5 728.3L3091.7 738.3L3091.9 745.9L3092.1 757.3L3092.3 745.7L3092.5 698.2L3092.6 766.9L3092.8 726.5L3093 715.9L3093.2 725.9L3093.4 733.3L3093.5 714.4L3093.7 745.9L3093.9 717.3L3094.1 702.1L3094.3 743.8L3094.5 739.7L3094.6 723L3094.8 708.1L3095 701.8L3095.2 712.7L3095.4 735.3L3095.5 742.5L3095.7 719L3095.9 716L3096.1 741.2L3096.3 721.1L3096.5 716.1L3096.6 703.6L3096.8 737.9L3097 711.2L3097.2 740.2L3097.4 727.2L3097.6 720.9L3097.7 693.4L3097.9 662.4L3098.1 714.2L3098.3 709.7L3098.5 700.6L3098.6 740.6L3098.8 704L3099 737.8L3099.2 688.6L3099.4 691.4L3099.6 707.1L3099.7 729L3099.9 686.5L3100.1 710.1L3100.3 712.3L3100.5 703.9L3100.6 742.6L3100.8 705.8L3101 695.7L3101.2 706.6L3101.4 709.5L3101.6 727.8L3101.7 700.3L3101.9 707.5L3102.1 710.4L3102.3 719.8L3102.5 695.2L3102.6 688.2L3102.8 702.5L3103 693.5L3103.2 685.8L3103.4 681L3103.6 703.8L3103.7 710.9L3103.9 714L3104.1 706.3L3104.3 696.8L3104.5 689.9L3104.6 712.7L3104.8 702.6L3105 721.7L3105.2 682.9L3105.4 710.7L3105.6 697.6L3105.7 715.6L3105.9 708L3106.1 714.3L3106.3 673.2L3106.5 695.8L3106.6 704.3L3106.8 717.3L3107 711.2L3107.2 690.7L3107.4 671.7L3107.6 724.1L3107.7 714.9L3107.9 702L3108.1 709.3L3108.3 726.5L3108.5 697.6L3108.6 684.8L3108.8 724L3109 693.2L3109.2 680L3109.4 679.4L3109.6 702.9L3109.7 656.1L3109.9 685.6L3110.1 708.4L3110.3 677.5L3110.5 713L3110.6 678.3L3110.8 714.7L3111 679.4L3111.2 702.4L3111.4 672.8L3111.6 679.2L3111.7 683.8L3111.9 690L3112.1 672.2L3112.3 721L3112.5 682.6L3112.6 682.6L3112.8 679.7L3113 674.8L3113.2 625.5L3113.4 686.2L3113.6 674.1L3113.7 684.8L3113.9 660.3L3114.1 721.1L3114.3 657.4L3114.5 697.6L3114.6 724.1L3114.8 703.6L3115 687.9L3115.2 681.2L3115.4 685L3115.6 669.9L3115.7 684.1L3115.9 684.2L3116.1 719.2L3116.3 674.1L3116.5 664.8L3116.7 688.8L3116.8 713.2L3117 703.7L3117.2 652.1L3117.4 690.5L3117.6 691.2L3117.7 693.4L3117.9 667.5L3118.1 688.8L3118.3 693.2L3118.5 703.7L3118.7 679.5L3118.8 660.3L3119 679.5L3119.2 661.6L3119.4 673.2L3119.6 673.4L3119.7 672.5L3119.9 674.6L3120.1 657.3L3120.3 666.1L3120.5 683.9L3120.7 671.5L3120.8 674.6L3121 664.7L3121.2 669.6L3121.4 665.2L3121.6 697L3121.7 665.1L3121.9 648.8L3122.1 693.8L3122.3 643.2L3122.5 665L3122.7 673.3L3122.8 700.1L3123 650.5L3123.2 685.1L3123.4 677L3123.6 658.6L3123.7 685L3123.9 684L3124.1 686.4L3124.3 668.4L3124.5 656.1L3124.7 658.9L3124.8 658.5L3125 670.9L3125.2 662.3L3125.4 676.1L3125.6 630L3125.7 660.3L3125.9 696.5L3126.1 681.1L3126.3 635.3L3126.5 685.4L3126.7 669.2L3126.8 654.6L3127 679.7L3127.2 642.6L3127.4 631.8L3127.6 674L3127.7 640.4L3127.9 674.4L3128.1 675.9L3128.3 654.4L3128.5 654.1L3128.7 668L3128.8 643.1L3129 682.1L3129.2 671.3L3129.4 674.7L3129.6 643.1L3129.7 642L3129.9 643.9L3130.1 677L3130.3 652.3L3130.5 646.4L3130.7 681.4L3130.8 667.5L3131 642.1L3131.2 640.8L3131.4 648.1L3131.6 642.8L3131.7 646.2L3131.9 648.8L3132.1 652.8L3132.3 665.4L3132.5 654.4L3132.7 656.7L3132.8 610.1L3133 644.7L3133.2 649L3133.4 652.4L3133.6 650L3133.7 652.3L3133.9 638.1L3134.1 647.5L3134.3 632.8L3134.5 658.1L3134.7 639.9L3134.8 630.6L3135 664.8L3135.2 642L3135.4 640.2L3135.6 649.8L3135.7 652L3135.9 674.9L3136.1 623.5L3136.3 658.5L3136.5 663.4L3136.7 630.7L3136.8 672.7L3137 624.8L3137.2 633.5L3137.4 630.3L3137.6 642.9L3137.8 660.5L3137.9 671.5L3138.1 614.2L3138.3 646.7L3138.5 647.1L3138.7 611L3138.8 648.3L3139 641.3L3139.2 640.9L3139.4 638.8L3139.6 653.8L3139.8 645.3L3139.9 613.5L3140.1 622.1L3140.3 685.4L3140.5 667.7L3140.7 628.3L3140.8 635.5L3141 639.6L3141.2 615.2L3141.4 662.9L3141.6 611.8L3141.8 629.6L3141.9 622.1L3142.1 626.8L3142.3 616.3L3142.5 634.6L3142.7 639.2L3142.8 616.3L3143 626.3L3143.2 650.3L3143.4 605.6L3143.6 607.6L3143.8 603.3L3143.9 626.1L3144.1 621.2L3144.3 633.3L3144.5 643L3144.7 624.9L3144.8 622.7L3145 636.6L3145.2 593.8L3145.4 652.1L3145.6 638.1L3145.8 635.3L3145.9 601.5L3146.1 627.5L3146.3 628.3L3146.5 637.5L3146.7 635.1L3146.8 643.9L3147 604.1L3147.2 610.6L3147.4 603.8L3147.6 631.5L3147.8 577.1L3147.9 636.2L3148.1 654.1L3148.3 623.8L3148.5 616.1L3148.7 605.2L3148.8 635L3149 607.3L3149.2 587.9L3149.4 631.1L3149.6 628.9L3149.8 644.9L3149.9 611.5L3150.1 600.6L3150.3 601.8L3150.5 600.3L3150.7 590L3150.8 611.6L3151 597.2L3151.2 629.2L3151.4 626.1L3151.6 608.2L3151.8 625.9L3151.9 601.9L3152.1 587.8L3152.3 604L3152.5 623.1L3152.7 622.9L3152.8 586.6L3153 623L3153.2 607.5L3153.4 613.1L3153.6 607.4L3153.8 589.3L3153.9 616.8L3154.1 631.3L3154.3 582.2L3154.5 602.7L3154.7 593.8L3154.8 606.1L3155 592.2L3155.2 583.6L3155.4 581.5L3155.6 609L3155.8 610L3155.9 596.9L3156.1 599.8L3156.3 593.3L3156.5 614.7L3156.7 641.8L3156.8 594.2L3157 588.2L3157.2 590.2L3157.4 572.5L3157.6 585.9L3157.8 606.6L3157.9 582.9L3158.1 600.8L3158.3 577.6L3158.5 594.5L3158.7 590.5L3158.9 594L3159 596.6L3159.2 622.6L3159.4 595.8L3159.6 635.1L3159.8 587.6L3159.9 578.8L3160.1 560.4L3160.3 588.6L3160.5 606.8L3160.7 621.3L3160.9 560.8L3161 617.8L3161.2 577.9L3161.4 632.1L3161.6 593.3L3161.8 580.5L3161.9 586.2L3162.1 592.1L3162.3 605L3162.5 606.1L3162.7 573.1L3162.9 582.5L3163 592.3L3163.2 585.7L3163.4 604.6L3163.6 571.1L3163.8 566.7L3163.9 601L3164.1 585.7L3164.3 569.2L3164.5 597.6L3164.7 551.7L3164.9 560.2L3165 797.9L3165.2 776.1L3165.4 764.1L3165.6 813.2L3165.8 781.2L3165.9 793.8L3166.1 794.7L3166.3 778.5L3166.5 798.4L3166.7 813.7L3166.9 813.7L3167 789.5L3167.2 778.1L3167.4 788.8L3167.6 790.7L3167.8 788.2L3167.9 765.4L3168.1 778L3168.3 799.3L3168.5 791.2L3168.7 765.4L3168.9 795.4L3169 791.9L3169.2 785.3L3169.4 802.6L3169.6 768.8L3169.8 821L3169.9 758.7L3170.1 790.4L3170.3 804L3170.5 777.5L3170.7 811.1L3170.9 772.4L3171 768.1L3171.2 790.7L3171.4 787.1L3171.6 764L3171.8 791.2L3171.9 779L3172.1 773.1L3172.3 752.1L3172.5 786.9L3172.7 777.4L3172.9 758.3L3173 820.8L3173.2 781.5L3173.4 809L3173.6 807.5L3173.8 742.5L3173.9 771.8L3174.1 749.8L3174.3 778.8L3174.5 765.2L3174.7 781.3L3174.9 782.9L3175 774.5L3175.2 770.7L3175.4 746.5L3175.6 775.5L3175.8 765.4L3175.9 775.8L3176.1 768.6L3176.3 793.1L3176.5 751.8L3176.7 778.9L3176.9 769L3177 772.9L3177.2 752.2L3177.4 759.7L3177.6 768L3177.8 764.9L3177.9 761.7L3178.1 754.3L3178.3 758.1L3178.5 744.5L3178.7 738.5L3178.9 755.2L3179 787.8L3179.2 735.2L3179.4 728L3179.6 770.4L3179.8 770.9L3180 798.6L3180.1 749.9L3180.3 780L3180.5 731.3L3180.7 804.2L3180.9 760.5L3181 749.9L3181.2 767.8L3181.4 774.2L3181.6 756L3181.8 768.9L3182 765.4L3182.1 759.9L3182.3 768.3L3182.5 762.4L3182.7 744.7L3182.9 764.4L3183 754.6L3183.2 769.9L3183.4 741.1L3183.6 778.2L3183.8 739.7L3184 807.1L3184.1 770.7L3184.3 781.9L3184.5 737.2L3184.7 749.6L3184.9 776.1L3185 763.2L3185.2 730.3L3185.4 753.8L3185.6 743L3185.8 777.9L3186 777.5L3186.1 741.8L3186.3 711.9L3186.5 760L3186.7 740.5L3186.9 766.3L3187 728.5L3187.2 757.2L3187.4 756.6L3187.6 781L3187.8 755.5L3188 745L3188.1 724.3L3188.3 767.4L3188.5 730.4L3188.7 752.6L3188.9 751.3L3189 762.2L3189.2 774.7L3189.4 766L3189.6 717.4L3189.8 765L3190 751.8L3190.1 725.2L3190.3 779.7L3190.5 735.8L3190.7 751.8L3190.9 739.6L3191 727.7L3191.2 744.6L3191.4 745L3191.6 729L3191.8 730.1L3192 752.8L3192.1 743.4L3192.3 762.8L3192.5 717.5L3192.7 759.8L3192.9 735.6L3193 708.7L3193.2 724.3L3193.4 742.6L3193.6 749.7L3193.8 747.6L3194 720.9L3194.1 730.3L3194.3 735.8L3194.5 691L3194.7 749.1L3194.9 742.9L3195 740.5L3195.2 730.1L3195.4 728.1L3195.6 737.7L3195.8 720.1L3196 723.1L3196.1 737.1L3196.3 773.4L3196.5 717.9L3196.7 747.2L3196.9 741.9L3197 732.9L3197.2 751.2L3197.4 743.6L3197.6 728.5L3197.8 735.2L3198 723.7L3198.1 743.4L3198.3 732.5L3198.5 746.2L3198.7 732.7L3198.9 722.6L3199 731.3L3199.2 751.2L3199.4 729.7L3199.6 723.5L3199.8 706.4L3200 726L3200.1 731.9L3200.3 744.5L3200.5 690.3L3200.7 740L3200.9 742.6L3201.1 725.6L3201.2 753.7L3201.4 704.1L3201.6 718.9L3201.8 713.3L3202 737.9L3202.1 729.5L3202.3 705.9L3202.5 704.7L3202.7 671.4L3202.9 700.6L3203.1 751.1L3203.2 717L3203.4 724.3L3203.6 699.1L3203.8 718.9L3204 708.6L3204.1 722L3204.3 705.8L3204.5 690.9L3204.7 725.8L3204.9 749.7L3205.1 732.3L3205.2 687.7L3205.4 710.1L3205.6 718.6L3205.8 729.6L3206 695L3206.1 707.5L3206.3 714L3206.5 720.9L3206.7 714L3206.9 716.4L3207.1 700.9L3207.2 688.6L3207.4 743.2L3207.6 734.2L3207.8 710.8L3208 707.5L3208.1 734.9L3208.3 718.7L3208.5 714.6L3208.7 714.9L3208.9 714.9L3209.1 708.1L3209.2 691.3L3209.4 693.3L3209.6 695.5L3209.8 700.5L3210 717.1L3210.1 712.7L3210.3 692.4L3210.5 701.8L3210.7 689.8L3210.9 698.5L3211.1 701.6L3211.2 694.8L3211.4 728.2L3211.6 704.3L3211.8 711.3L3212 686.5L3212.1 712L3212.3 696.2L3212.5 707.2L3212.7 691.4L3212.9 686.9L3213.1 702.4L3213.2 696.7L3213.4 695.1L3213.6 684.6L3213.8 703L3214 696.4L3214.1 704L3214.3 712.8L3214.5 693.1L3214.7 688.5L3214.9 709.2L3215.1 668.2L3215.2 707.4L3215.4 681.7L3215.6 687.6L3215.8 722.7L3216 693.8L3216.1 719.8L3216.3 694.4L3216.5 680.8L3216.7 660.4L3216.9 678.2L3217.1 717.2L3217.2 696.8L3217.4 664.9L3217.6 687L3217.8 659.7L3218 701.7L3218.1 698.5L3218.3 711.7L3218.5 694.9L3218.7 666.6L3218.9 703.4L3219.1 673L3219.2 679.1L3219.4 673.1L3219.6 690.6L3219.8 685.4L3220 649L3220.1 706.4L3220.3 671.8L3220.5 658.5L3220.7 676.2L3220.9 655.5L3221.1 733.8L3221.2 688.2L3221.4 702.6L3221.6 689.4L3221.8 683.8L3222 673.4L3222.2 695.9L3222.3 666L3222.5 707.4L3222.7 663.9L3222.9 684.2L3223.1 709.8L3223.2 709.5L3223.4 709.5L3223.6 695.6L3223.8 676.3L3224 655.5L3224.2 664.3L3224.3 700L3224.5 716.2L3224.7 681.8L3224.9 700.7L3225.1 679L3225.2 687.4L3225.4 631.6L3225.6 704.4L3225.8 669.4L3226 642.7L3226.2 681L3226.3 687L3226.5 644.7L3226.7 709.2L3226.9 702L3227.1 693.3L3227.2 665.2L3227.4 658.5L3227.6 673.5L3227.8 633.7L3228 674L3228.2 670.2L3228.3 675L3228.5 648.3L3228.7 668.7L3228.9 675.2L3229.1 639.2L3229.2 645.5L3229.4 650L3229.6 688.5L3229.8 684.7L3230 670.1L3230.2 670L3230.3 672.5L3230.5 668.5L3230.7 653.2L3230.9 681.2L3231.1 659.3L3231.2 669.9L3231.4 671L3231.6 667.1L3231.8 649.2L3232 656.7L3232.2 674.5L3232.3 655L3232.5 657.9L3232.7 652.7L3232.9 663.8L3233.1 641.8L3233.2 651.9L3233.4 677.6L3233.6 679.6L3233.8 681.3L3234 650L3234.2 668.2L3234.3 662L3234.5 656.8L3234.7 634.2L3234.9 617.4L3235.1 656.3L3235.2 619.9L3235.4 644.2L3235.6 632.6L3235.8 657.6L3236 673.7L3236.2 643.8L3236.3 629.6L3236.5 678L3236.7 652L3236.9 646.8L3237.1 640L3237.2 668.4L3237.4 659L3237.6 633.2L3237.8 617.9L3238 646.7L3238.2 631.3L3238.3 644.8L3238.5 639.9L3238.7 653.6L3238.9 650.5L3239.1 656.1L3239.2 644.2L3239.4 626.6L3239.6 641.9L3239.8 633.6L3240 655.4L3240.2 631.8L3240.3 697.7L3240.5 667.7L3240.7 648.8L3240.9 673.8L3241.1 632.6L3241.3 638.4L3241.4 657.3L3241.6 639.6L3241.8 666.7L3242 656L3242.2 646.8L3242.3 667.3L3242.5 621.6L3242.7 650.3L3242.9 621.2L3243.1 640.9L3243.3 632.7L3243.4 653.2L3243.6 642.5L3243.8 644.1L3244 632.5L3244.2 612.7L3244.3 645.4L3244.5 638.2L3244.7 628.9L3244.9 620L3245.1 636.2L3245.3 640.5L3245.4 643.6L3245.6 633.1L3245.8 628.7L3246 644.2L3246.2 637.4L3246.3 618.8L3246.5 631.8L3246.7 640.8L3246.9 618.6L3247.1 618.1L3247.3 619.5L3247.4 618.2L3247.6 636L3247.8 625.4L3248 623.1L3248.2 626L3248.3 657.7L3248.5 627.7L3248.7 621L3248.9 618.2L3249.1 631.4L3249.3 625.4L3249.4 656.4L3249.6 650.7L3249.8 675.4L3250 628.4L3250.2 596.5L3250.3 594L3250.5 642.6L3250.7 612L3250.9 601.2L3251.1 627.5L3251.3 655.5L3251.4 597.4L3251.6 627.3L3251.8 627.6L3252 591.4L3252.2 612.1L3252.3 605.4L3252.5 592.1L3252.7 621.5L3252.9 635.2L3253.1 604.8L3253.3 617.7L3253.4 604.7L3253.6 610.1L3253.8 629.5L3254 615.6L3254.2 621.4L3254.3 619.3L3254.5 615.6L3254.7 608.5L3254.9 610.6L3255.1 635.4L3255.3 602.6L3255.4 637.4L3255.6 574.8L3255.8 625.2L3256 612.9L3256.2 588.7L3256.3 614.5L3256.5 632.4L3256.7 634.8L3256.9 605.2L3257.1 602.6L3257.3 595.2L3257.4 604.3L3257.6 616.8L3257.8 600.2L3258 583.3L3258.2 621.1L3258.3 546.2L3258.5 613.9L3258.7 585.1L3258.9 573.9L3259.1 590.1L3259.3 600.2L3259.4 592.6L3259.6 581.8L3259.8 649.3L3260 596.1L3260.2 610.5L3260.3 615L3260.5 600.9L3260.7 599.5L3260.9 593.8L3261.1 611.8L3261.3 582.3L3261.4 636.9L3261.6 617.4L3261.8 621.4L3262 598.5L3262.2 608.6L3262.4 590.7L3262.5 612.8L3262.7 577.1L3262.9 586.1L3263.1 607.2L3263.3 626.9L3263.4 618L3263.6 623.8L3263.8 575.9L3264 583.8L3264.2 618L3264.4 563.8L3264.5 600.7L3264.7 633.7L3264.9 576.3L3265.1 572.3L3265.3 594L3265.4 609.1L3265.6 572.4L3265.8 601.7L3266 593L3266.2 584.3L3266.4 586.8L3266.5 599.5L3266.7 609L3266.9 578.1L3267.1 628.2L3267.3 584.5L3267.4 585.2L3267.6 580.5L3267.8 595.4L3268 585L3268.2 574.8L3268.4 605.8L3268.5 586.7L3268.7 580.8L3268.9 608.4L3269.1 602.7L3269.3 559.2L3269.4 568.1L3269.6 805.7L3269.8 780.3L3270 785.3L3270.2 768L3270.4 772.1L3270.5 832.6L3270.7 795.9L3270.9 767L3271.1 762.2L3271.3 800.2L3271.4 810.4L3271.6 784.6L3271.8 799.6L3272 788.6L3272.2 807.9L3272.4 774.5L3272.5 777.5L3272.7 779L3272.9 805.2L3273.1 814.9L3273.3 807.5L3273.4 776.9L3273.6 815.7L3273.8 773.5L3274 754.1L3274.2 794.7L3274.4 786.8L3274.5 766.5L3274.7 767.3L3274.9 793L3275.1 785.1L3275.3 779.7L3275.4 785.9L3275.6 771.2L3275.8 775L3276 758L3276.2 809L3276.4 759.4L3276.5 765.3L3276.7 781.1L3276.9 771.3L3277.1 761.4L3277.3 772.6L3277.4 781.6L3277.6 772.2L3277.8 788.5L3278 798.6L3278.2 790.8L3278.4 788.7L3278.5 771.9L3278.7 761.3L3278.9 770.3L3279.1 749.3L3279.3 775.2L3279.4 784.3L3279.6 785.3L3279.8 787.9L3280 777.4L3280.2 748.4L3280.4 796.5L3280.5 761.7L3280.7 770.9L3280.9 756L3281.1 777.9L3281.3 757.1L3281.4 777.5L3281.6 757.9L3281.8 801.6L3282 759.5L3282.2 754.8L3282.4 794.2L3282.5 752.2L3282.7 785.6L3282.9 749.1L3283.1 765.6L3283.3 753.4L3283.5 758.4L3283.6 784.7L3283.8 737.6L3284 742.8L3284.2 780.5L3284.4 753.1L3284.5 754.5L3284.7 773.5L3284.9 779.3L3285.1 739.4L3285.3 767.6L3285.5 745L3285.6 727.6L3285.8 751.4L3286 774.3L3286.2 742.1L3286.4 781.9L3286.5 773.6L3286.7 707.9L3286.9 771L3287.1 751.1L3287.3 774.7L3287.5 758.4L3287.6 752.5L3287.8 800.7L3288 766.4L3288.2 743.6L3288.4 739.8L3288.5 748.5L3288.7 770L3288.9 746.8L3289.1 761.5L3289.3 766L3289.5 752.5L3289.6 713.4L3289.8 767.1L3290 733.7L3290.2 746.7L3290.4 776L3290.5 765.9L3290.7 752.9L3290.9 757.7L3291.1 744.9L3291.3 765.8L3291.5 765.9L3291.6 731.2L3291.8 748.4L3292 762L3292.2 747.2L3292.4 715.6L3292.5 756.4L3292.7 771.5L3292.9 729.9L3293.1 712L3293.3 723.7L3293.5 767.1L3293.6 779.5L3293.8 722.6L3294 746.9L3294.2 734.9L3294.4 746.3L3294.5 714.2L3294.7 741.2L3294.9 747.5L3295.1 739.4L3295.3 761.9L3295.5 738.4L3295.6 742.4L3295.8 776.6L3296 759.7L3296.2 761.3L3296.4 766.3L3296.5 733.2L3296.7 719.7L3296.9 733.1L3297.1 763.5L3297.3 768.3L3297.5 724.3L3297.6 742.6L3297.8 738.7L3298 758.7L3298.2 770.9L3298.4 698.3L3298.5 746L3298.7 738.6L3298.9 754.5L3299.1 708.7L3299.3 740.4L3299.5 736.8L3299.6 732.9L3299.8 733.6L3300 708.9L3300.2 763.7L3300.4 721.7L3300.5 742.6L3300.7 738.7L3300.9 741.9L3301.1 723.8L3301.3 752.5L3301.5 739.5L3301.6 720.5L3301.8 739.4L3302 737.4L3302.2 722.6L3302.4 727.1L3302.5 734L3302.7 727L3302.9 742.6L3303.1 712.6L3303.3 745.5L3303.5 753.8L3303.6 719L3303.8 748.2L3304 741.8L3304.2 728.9L3304.4 712.8L3304.6 732.7L3304.7 731.7L3304.9 731.1L3305.1 717.1L3305.3 731.9L3305.5 718.8L3305.6 699.4L3305.8 726L3306 728.2L3306.2 737.4L3306.4 734.1L3306.6 741.9L3306.7 739.2L3306.9 730L3307.1 714.1L3307.3 711.2L3307.5 726.4L3307.6 713.3L3307.8 740.5L3308 682.9L3308.2 675.7L3308.4 719.4L3308.6 708.4L3308.7 714.9L3308.9 703L3309.1 726.6L3309.3 741.3L3309.5 701.4L3309.6 733.3L3309.8 708.5L3310 729.7L3310.2 726.8L3310.4 696.6L3310.6 685.6L3310.7 715.2L3310.9 719.4L3311.1 706.8L3311.3 720.8L3311.5 740.6L3311.6 711.2L3311.8 748.5L3312 702.8L3312.2 718.3L3312.4 706.1L3312.6 734L3312.7 721.4L3312.9 698.7L3313.1 684.8L3313.3 693.3L3313.5 700.7L3313.6 725.8L3313.8 696.8L3314 703.9L3314.2 711.2L3314.4 683.3L3314.6 718.1L3314.7 674.8L3314.9 715.3L3315.1 715.5L3315.3 705.3L3315.5 725.7L3315.6 710.9L3315.8 701.2L3316 731L3316.2 716L3316.4 725.1L3316.6 708.6L3316.7 681.4L3316.9 707.8L3317.1 703.3L3317.3 695.9L3317.5 718.2L3317.6 695.1L3317.8 707.5L3318 709.3L3318.2 727L3318.4 708.3L3318.6 679.6L3318.7 676.3L3318.9 701.5L3319.1 694.9L3319.3 702.9L3319.5 714.1L3319.6 725.6L3319.8 665.6L3320 711L3320.2 690.3L3320.4 667.1L3320.6 699.6L3320.7 695.4L3320.9 687.7L3321.1 697.9L3321.3 687.1L3321.5 696.7L3321.6 671.3L3321.8 681.9L3322 709.9L3322.2 712L3322.4 699.9L3322.6 698.9L3322.7 700.7L3322.9 672L3323.1 699.6L3323.3 694.7L3323.5 684.2L3323.6 720L3323.8 678.5L3324 675.6L3324.2 661.3L3324.4 701.3L3324.6 692.2L3324.7 680.3L3324.9 689.9L3325.1 707.8L3325.3 667.3L3325.5 687.2L3325.7 676L3325.8 699.8L3326 664.9L3326.2 686.8L3326.4 692.7L3326.6 666.7L3326.7 660.9L3326.9 695.2L3327.1 662.1L3327.3 651.1L3327.5 673.8L3327.7 701.8L3327.8 667.8L3328 659L3328.2 694.1L3328.4 648L3328.6 679.3L3328.7 677.7L3328.9 656.6L3329.1 671.3L3329.3 653.3L3329.5 674.3L3329.7 667.2L3329.8 673L3330 669L3330.2 662.8L3330.4 664.1L3330.6 677.1L3330.7 655.7L3330.9 672.7L3331.1 650.4L3331.3 660L3331.5 671.7L3331.7 682.2L3331.8 668.7L3332 645.5L3332.2 665.4L3332.4 651.8L3332.6 669.4L3332.7 672.9L3332.9 679.1L3333.1 699.9L3333.3 661.2L3333.5 665.6L3333.7 666.7L3333.8 652.2L3334 681.9L3334.2 635.9L3334.4 689.3L3334.6 659.8L3334.7 684L3334.9 668L3335.1 643.4L3335.3 688.1L3335.5 659.3L3335.7 660.1L3335.8 658.6L3336 657L3336.2 647.3L3336.4 652.2L3336.6 653.8L3336.7 644.7L3336.9 648.2L3337.1 661.3L3337.3 679.7L3337.5 644.9L3337.7 663.9L3337.8 629.8L3338 666.9L3338.2 677.5L3338.4 637.4L3338.6 669L3338.7 681.4L3338.9 635.6L3339.1 680L3339.3 632.5L3339.5 670.8L3339.7 647.3L3339.8 650.1L3340 684.4L3340.2 653.4L3340.4 659.9L3340.6 650.3L3340.7 643L3340.9 624.9L3341.1 655.4L3341.3 652.7L3341.5 614L3341.7 637.9L3341.8 637L3342 675.6L3342.2 673L3342.4 658.2L3342.6 651.7L3342.7 639.8L3342.9 601.2L3343.1 668.7L3343.3 654L3343.5 636L3343.7 641.7L3343.8 626.9L3344 650.5L3344.2 660.5L3344.4 609.3L3344.6 637.1L3344.8 664.6L3344.9 649.7L3345.1 644.6L3345.3 668.6L3345.5 629.7L3345.7 639.9L3345.8 648.4L3346 653L3346.2 613.5L3346.4 642.5L3346.6 654.1L3346.8 675.4L3346.9 658.3L3347.1 628.1L3347.3 614.1L3347.5 659L3347.7 673.6L3347.8 637.9L3348 638.9L3348.2 623.1L3348.4 649.5L3348.6 635.2L3348.8 668.3L3348.9 657.4L3349.1 645.3L3349.3 643.2L3349.5 626.3L3349.7 614.1L3349.8 658.8L3350 605.5L3350.2 646.6L3350.4 640.6L3350.6 613.9L3350.8 673.6L3350.9 657.1L3351.1 646.1L3351.3 630.2L3351.5 612.8L3351.7 612.2L3351.8 646L3352 617.3L3352.2 636.9L3352.4 604L3352.6 633.7L3352.8 610.5L3352.9 645.7L3353.1 614.6L3353.3 650.7L3353.5 625.2L3353.7 654.3L3353.8 628.8L3354 639.4L3354.2 642.2L3354.4 621.1L3354.6 611.4L3354.8 622.5L3354.9 618.8L3355.1 611.4L3355.3 602.6L3355.5 605.6L3355.7 615.7L3355.8 588.2L3356 630.5L3356.2 607.9L3356.4 640.6L3356.6 580L3356.8 624.6L3356.9 617.4L3357.1 596.2L3357.3 622.6L3357.5 633.3L3357.7 650.2L3357.8 622.9L3358 583.1L3358.2 614.7L3358.4 587.7L3358.6 602.8L3358.8 624.2L3358.9 640.3L3359.1 619.2L3359.3 605L3359.5 618.9L3359.7 611.9L3359.8 604.6L3360 620.4L3360.2 638.6L3360.4 619.1L3360.6 603.5L3360.8 626.9L3360.9 630.6L3361.1 629.3L3361.3 615.9L3361.5 613.7L3361.7 612.2L3361.8 632.6L3362 610.1L3362.2 621L3362.4 626L3362.6 641.1L3362.8 628.2L3362.9 619.4L3363.1 606.2L3363.3 601.3L3363.5 607.4L3363.7 603.6L3363.8 626.4L3364 593.2L3364.2 592.6L3364.4 594.4L3364.6 614.2L3364.8 606.8L3364.9 612.9L3365.1 627L3365.3 610L3365.5 630.2L3365.7 633.6L3365.9 593.6L3366 593.3L3366.2 588.1L3366.4 609.4L3366.6 601.1L3366.8 592.1L3366.9 607.2L3367.1 635.1L3367.3 561.9L3367.5 578.5L3367.7 577.9L3367.9 597.3L3368 612L3368.2 596.6L3368.4 592.7L3368.6 620.5L3368.8 604.8L3368.9 586.8L3369.1 570.3L3369.3 585.2L3369.5 602L3369.7 616.6L3369.9 559.8L3370 591.8L3370.2 580.5L3370.4 592.6L3370.6 615.6L3370.8 555.4L3370.9 580.6L3371.1 570.8L3371.3 604.7L3371.5 591.4L3371.7 567.3L3371.9 596.2L3372 602.1L3372.2 608.7L3372.4 612.2L3372.6 574.7L3372.8 589.4L3372.9 618.7L3373.1 561.7L3373.3 565.6L3373.5 567.3L3373.7 618.1L3373.9 584.4L3374 563.8L3374.2 810.7L3374.4 806.3L3374.6 796.4L3374.8 826.4L3374.9 787.9L3375.1 774.4L3375.3 779.6L3375.5 765L3375.7 788.5L3375.9 790.3L3376 792.6L3376.2 801L3376.4 807L3376.6 801L3376.8 789.4L3376.9 796.8L3377.1 785.5L3377.3 785.6L3377.5 775.7L3377.7 795L3377.9 821.1L3378 801.9L3378.2 752.5L3378.4 771.9L3378.6 791.3L3378.8 787.5L3378.9 785.1L3379.1 791.3L3379.3 779.6L3379.5 770.8L3379.7 761.4L3379.9 788L3380 786.4L3380.2 786.7L3380.4 780.2L3380.6 762.2L3380.8 792.9L3380.9 742L3381.1 769.8L3381.3 760L3381.5 793.9L3381.7 784.5L3381.9 786.7L3382 776.6L3382.2 811.7L3382.4 768.2L3382.6 805L3382.8 769.5L3382.9 758.1L3383.1 776.1L3383.3 777.6L3383.5 777.2L3383.7 777.7L3383.9 769L3384 757.6L3384.2 761.6L3384.4 746.6L3384.6 770.1L3384.8 780L3384.9 778.8L3385.1 791.5L3385.3 776.6L3385.5 779.6L3385.7 738.7L3385.9 759.8L3386 737.7L3386.2 800.4L3386.4 762.4L3386.6 749.6L3386.8 761.2L3387 774.1L3387.1 763L3387.3 763.8L3387.5 762.9L3387.7 760.2L3387.9 748.3L3388 760.1L3388.2 758.7L3388.4 762.8L3388.6 755L3388.8 774.4L3389 752.1L3389.1 766.9L3389.3 746.6L3389.5 770.7L3389.7 761.2L3389.9 762.9L3390 776.7L3390.2 741.4L3390.4 752.4L3390.6 757.8L3390.8 737.2L3391 763.2L3391.1 757.6L3391.3 738.2L3391.5 715.2L3391.7 754.7L3391.9 728.4L3392 752.5L3392.2 768.6L3392.4 746.2L3392.6 733.4L3392.8 750.7L3393 745.7L3393.1 771.6L3393.3 791.5L3393.5 748.7L3393.7 776.9L3393.9 753.8L3394 763.5L3394.2 749.8L3394.4 737.6L3394.6 780.5L3394.8 754.4L3395 754.2L3395.1 728.6L3395.3 750L3395.5 764.6L3395.7 760.3L3395.9 719.6L3396 764.7L3396.2 748.6L3396.4 744.5L3396.6 768.1L3396.8 762.1L3397 781.4L3397.1 763L3397.3 736.1L3397.5 743.2L3397.7 778.5L3397.9 721.8L3398 768.2L3398.2 761.5L3398.4 717.8L3398.6 736.7L3398.8 745.5L3399 718.5L3399.1 744.7L3399.3 737.2L3399.5 752.4L3399.7 744.4L3399.9 743.2L3400 723L3400.2 751.9L3400.4 744.3L3400.6 777.4L3400.8 769.3L3401 728.2L3401.1 746.2L3401.3 745.2L3401.5 728.7L3401.7 744.2L3401.9 736.6L3402 742.7L3402.2 771.7L3402.4 726.9L3402.6 711.8L3402.8 716.6L3403 735.2L3403.1 731.5L3403.3 729.1L3403.5 709.8L3403.7 714.7L3403.9 740.5L3404 736.6L3404.2 737.4L3404.4 743.5L3404.6 743.8L3404.8 735.3L3405 773.6L3405.1 726.3L3405.3 740L3405.5 752.5L3405.7 734.9L3405.9 744.1L3406 710.7L3406.2 749.4L3406.4 729.3L3406.6 724.2L3406.8 743.8L3407 750.2L3407.1 722.6L3407.3 735.4L3407.5 744.1L3407.7 752.2L3407.9 717.2L3408.1 701.9L3408.2 735.6L3408.4 717.5L3408.6 707.6L3408.8 708.8L3409 735" stroke="#8AB4F0" stroke-width="1.6" fill="none" stroke-linejoin="round"/><path d="M2969.9 482.6V900H3429.9M2990.8 900v5M3095.3 900v5M3199.9 900v5M3304.4 900v5M3409 900v5M2969.9 896.9h-5M2969.9 845.1h-5M2969.9 793.2h-5M2969.9 741.3h-5M2969.9 689.4h-5M2969.9 637.5h-5M2969.9 585.6h-5M2969.9 533.7h-5M2969.9 481.9h-5" stroke="#000" stroke-width="1.3" fill="none"/><g transform="translate(2979.87,922.34)"><text font-family="'Liberation Serif', serif" font-size="20.5" fill="#000"><tspan x="0" y="0">−2</tspan></text></g><g transform="translate(3084.42,922.34)"><text font-family="'Liberation Serif', serif" font-size="20.5" fill="#000"><tspan x="0" y="0">−1</tspan></text></g><g transform="translate(3194.74,922.34)"><text font-family="'Liberation Serif', serif" font-size="20.5" fill="#000"><tspan x="0" y="0">0</tspan></text></g><g transform="translate(3299.29,922.34)"><text font-family="'Liberation Serif', serif" font-size="20.5" fill="#000"><tspan x="0" y="0">1</tspan></text></g><g transform="translate(3403.83,922.34)"><text font-family="'Liberation Serif', serif" font-size="20.5" fill="#000"><tspan x="0" y="0">2</tspan></text></g><g transform="translate(3194.1,949.6)"><text font-family="'Liberation Serif', serif" font-style="italic" font-size="26" fill="#000"><tspan x="0" y="0">x</tspan></text></g><path d="M2997 709.3l4.9 8.8h-9.8zM3032.6 611.7l4.9 8.8h-9.8zM3032.6 651.2l4.9 8.8h-9.8zM3041.9 622.5l4.9 8.8h-9.8zM3049.6 641.9l4.9 8.8h-9.8zM3072.1 733.3l4.9 8.8h-9.8zM3077.5 763.5l4.9 8.8h-9.8zM3093.8 757.3l4.9 8.8h-9.8zM3103.8 689.9l4.9 8.8h-9.8zM3113.9 676l4.9 8.8h-9.8zM3118.6 679.8l4.9 8.8h-9.8zM3161.1 629.5l4.9 8.8h-9.8zM3180.5 743.4l4.9 8.8h-9.8zM3190.6 751.9l4.9 8.8h-9.8zM3196.8 713.1l4.9 8.8h-9.8zM3197.5 717l4.9 8.8h-9.8zM3211.5 684.5l4.9 8.8h-9.8zM3216.9 702.3l4.9 8.8h-9.8zM3271.9 830.1l4.9 8.8h-9.8zM3275.8 751.9l4.9 8.8h-9.8zM3292 769.7l4.9 8.8h-9.8zM3299 724.8l4.9 8.8h-9.8zM3306.7 738.7l4.9 8.8h-9.8zM3347 653.5l4.9 8.8h-9.8zM3369.5 617.9l4.9 8.8h-9.8zM3370.2 587.7l4.9 8.8h-9.8zM3378 803.8l4.9 8.8h-9.8zM3385 793.7l4.9 8.8h-9.8zM3392.7 748.8l4.9 8.8h-9.8zM3397.3 744.1l4.9 8.8h-9.8z" fill="#3A7A22"/><rect x="3181.3" y="491.9" width="238.5" height="58.1" rx="4" fill="#ECECEC"/><path d="M3188.3 508.2H3230.8" stroke="#8AB4F0" stroke-width="1.9"/><path d="M3209.9 527.3l4.9 8.8h-9.8z" fill="#3A7A22"/><g transform="translate(3245.56,514.38) scale(0.9708,1)"><text font-family="'Liberation Serif', serif" font-size="20.5" fill="#000"><tspan x="0" y="0">Noised function #1</tspan></text></g><g transform="translate(3245.56,537.61) scale(0.9723,1)"><text font-family="'Liberation Serif', serif" font-size="20.5" fill="#000"><tspan x="0" y="0">Auxiliary context #1</tspan></text></g><path d="M3470.1 900V482.6M3574.7 900V482.6M3679.2 900V482.6M3783.8 900V482.6M3888.3 900V482.6M3449.2 896.9H3909.2M3449.2 845.1H3909.2M3449.2 793.2H3909.2M3449.2 741.3H3909.2M3449.2 689.4H3909.2M3449.2 637.5H3909.2M3449.2 585.6H3909.2M3449.2 533.7H3909.2M3449.2 481.9H3909.2" stroke="#e3e3e3" stroke-width="1.3" fill="none"/><path d="M3470.1 711.2L3470.3 706.4L3470.5 654.7L3470.7 718.4L3470.9 694.9L3471 700.6L3471.2 704.7L3471.4 749.4L3471.6 713.6L3471.8 679.8L3472 730.8L3472.1 713.6L3472.3 741.1L3472.5 711.8L3472.7 709.2L3472.9 699.3L3473 728.7L3473.2 729.2L3473.4 732.6L3473.6 709.4L3473.8 711.6L3474 654.7L3474.1 732.9L3474.3 696.6L3474.5 729.8L3474.7 727.4L3474.9 684.9L3475 702.4L3475.2 699.1L3475.4 749.6L3475.6 642.3L3475.8 655.8L3476 731.4L3476.1 748.1L3476.3 730.8L3476.5 704.4L3476.7 735.9L3476.9 702.7L3477.1 727.7L3477.2 634.6L3477.4 715.4L3477.6 721.2L3477.8 653.9L3478 699.1L3478.1 707.5L3478.3 708.4L3478.5 691.7L3478.7 718.3L3478.9 703.2L3479.1 720.8L3479.2 742.2L3479.4 714L3479.6 700.3L3479.8 661.3L3480 698.1L3480.1 713.1L3480.3 700L3480.5 687L3480.7 763.8L3480.9 713.7L3481.1 760.6L3481.2 749.1L3481.4 721.3L3481.6 704.5L3481.8 699.3L3482 696.8L3482.1 664.2L3482.3 687.2L3482.5 688.5L3482.7 707.2L3482.9 645.6L3483.1 662.7L3483.2 713.2L3483.4 712.7L3483.6 675.6L3483.8 669.2L3484 704.5L3484.1 665L3484.3 727.3L3484.5 699L3484.7 666.7L3484.9 709.4L3485.1 689.5L3485.2 693.5L3485.4 699.8L3485.6 743.2L3485.8 700.8L3486 686.8L3486.1 685.7L3486.3 670.1L3486.5 664.9L3486.7 699.5L3486.9 695.5L3487.1 643.4L3487.2 664.6L3487.4 687.6L3487.6 693.6L3487.8 658.5L3488 658L3488.1 688.9L3488.3 673.8L3488.5 684.8L3488.7 686.4L3488.9 634.3L3489.1 719.4L3489.2 663.6L3489.4 712.6L3489.6 702.6L3489.8 660.2L3490 718.7L3490.1 708.3L3490.3 713.3L3490.5 698.2L3490.7 673.3L3490.9 649.5L3491.1 698.8L3491.2 655.7L3491.4 713.5L3491.6 621.9L3491.8 692.2L3492 692.9L3492.1 672.3L3492.3 676.8L3492.5 683.7L3492.7 725.1L3492.9 655.5L3493.1 658.9L3493.2 689L3493.4 709.8L3493.6 670.4L3493.8 646.7L3494 724.6L3494.1 707.3L3494.3 673.9L3494.5 698.3L3494.7 685.2L3494.9 678.2L3495.1 653.8L3495.2 653.3L3495.4 647.4L3495.6 649.2L3495.8 690.8L3496 738.9L3496.2 664.3L3496.3 660.2L3496.5 659.9L3496.7 690.2L3496.9 619L3497.1 716.9L3497.2 648.5L3497.4 653.2L3497.6 644.7L3497.8 631.3L3498 655.6L3498.2 659.6L3498.3 676.3L3498.5 647L3498.7 657L3498.9 645.4L3499.1 698.2L3499.2 708.3L3499.4 664.6L3499.6 651.4L3499.8 707.4L3500 692.9L3500.2 674.3L3500.3 656.4L3500.5 655.2L3500.7 636.5L3500.9 667.7L3501.1 651.2L3501.2 627.3L3501.4 669.4L3501.6 599.6L3501.8 671.2L3502 657.3L3502.2 712L3502.3 662.3L3502.5 674.2L3502.7 676.7L3502.9 650.9L3503.1 688.6L3503.2 652L3503.4 712.2L3503.6 671L3503.8 620L3504 653.1L3504.2 639.8L3504.3 680.8L3504.5 691.3L3504.7 617.4L3504.9 627.1L3505.1 631.1L3505.2 654.3L3505.4 621.8L3505.6 664.9L3505.8 634.3L3506 634.8L3506.2 676.8L3506.3 613.3L3506.5 648.1L3506.7 629L3506.9 691.8L3507.1 683L3507.2 661.7L3507.4 635.9L3507.6 617.8L3507.8 638.8L3508 652.1L3508.2 632.6L3508.3 654.1L3508.5 643.1L3508.7 636.3L3508.9 665.6L3509.1 635.4L3509.2 685.7L3509.4 668.2L3509.6 627.4L3509.8 662.8L3510 631.5L3510.2 638.2L3510.3 649.4L3510.5 602.3L3510.7 630.3L3510.9 658.9L3511.1 656.6L3511.2 638.9L3511.4 682.6L3511.6 610.2L3511.8 643.2L3512 687.7L3512.2 667.6L3512.3 601.7L3512.5 633.7L3512.7 580.3L3512.9 638.6L3513.1 626.1L3513.2 585.1L3513.4 579.9L3513.6 663.2L3513.8 613.3L3514 665.8L3514.2 649.5L3514.3 684.1L3514.5 620.1L3514.7 663.4L3514.9 656.6L3515.1 582.4L3515.2 610.3L3515.4 638.8L3515.6 683L3515.8 624.9L3516 696L3516.2 657.6L3516.3 614.2L3516.5 610L3516.7 627.7L3516.9 609.1L3517.1 625.8L3517.3 651.9L3517.4 629.6L3517.6 582.6L3517.8 630.8L3518 620.8L3518.2 613.8L3518.3 666.3L3518.5 656.1L3518.7 670.7L3518.9 617.6L3519.1 636.9L3519.3 660.6L3519.4 661L3519.6 606.1L3519.8 602.9L3520 614L3520.2 624.3L3520.3 610.9L3520.5 623.9L3520.7 614.2L3520.9 634.9L3521.1 651.4L3521.3 643.6L3521.4 615.7L3521.6 576.3L3521.8 645.6L3522 652.3L3522.2 601.6L3522.3 601.2L3522.5 640.7L3522.7 636.7L3522.9 636.8L3523.1 611.1L3523.3 535.6L3523.4 639.3L3523.6 610.9L3523.8 632.4L3524 614.5L3524.2 606.9L3524.3 610.2L3524.5 645.1L3524.7 644.5L3524.9 591.4L3525.1 609.2L3525.3 611.1L3525.4 600.3L3525.6 636.4L3525.8 582.5L3526 637.6L3526.2 644.3L3526.3 641.9L3526.5 617.9L3526.7 541.9L3526.9 612.6L3527.1 605.5L3527.3 571.2L3527.4 623.1L3527.6 651.4L3527.8 629.8L3528 622.6L3528.2 656.9L3528.3 619.1L3528.5 608.6L3528.7 555.2L3528.9 589L3529.1 606.9L3529.3 624.3L3529.4 629.9L3529.6 659.3L3529.8 613.2L3530 670.9L3530.2 612.9L3530.3 563.1L3530.5 618.7L3530.7 596.2L3530.9 631.4L3531.1 658.6L3531.3 599.6L3531.4 613.2L3531.6 593.2L3531.8 602.1L3532 588.6L3532.2 617.9L3532.3 589.8L3532.5 576.4L3532.7 618.3L3532.9 612.3L3533.1 573.9L3533.3 588.8L3533.4 608L3533.6 643.8L3533.8 608.8L3534 559.9L3534.2 612.6L3534.3 605L3534.5 624.3L3534.7 602.2L3534.9 598.9L3535.1 590.7L3535.3 616L3535.4 628.3L3535.6 540.1L3535.8 592.8L3536 620.2L3536.2 600.9L3536.3 583L3536.5 565.8L3536.7 586.9L3536.9 603.8L3537.1 580.5L3537.3 631.9L3537.4 619.3L3537.6 559.2L3537.8 587.1L3538 594L3538.2 609.3L3538.4 623.4L3538.5 584.3L3538.7 589.7L3538.9 543.2L3539.1 613.2L3539.3 589.5L3539.4 599.1L3539.6 613.5L3539.8 539L3540 758.4L3540.2 791.6L3540.4 833.4L3540.5 786.3L3540.7 780.9L3540.9 810.8L3541.1 837.6L3541.3 744.3L3541.4 830.7L3541.6 763.1L3541.8 810.9L3542 802.9L3542.2 764L3542.4 822.7L3542.5 800.2L3542.7 792.2L3542.9 758.2L3543.1 762.5L3543.3 785.8L3543.4 823.1L3543.6 756.1L3543.8 799.8L3544 780.2L3544.2 838.4L3544.4 792L3544.5 772.9L3544.7 796.2L3544.9 769.3L3545.1 750.1L3545.3 741.9L3545.4 800.1L3545.6 826.5L3545.8 851.6L3546 792.9L3546.2 828.2L3546.4 770.5L3546.5 840.6L3546.7 753.2L3546.9 780.8L3547.1 825.9L3547.3 774.1L3547.4 765.6L3547.6 765.6L3547.8 781.1L3548 763.5L3548.2 765.8L3548.4 789.2L3548.5 777.1L3548.7 815.1L3548.9 757.8L3549.1 814.2L3549.3 783.3L3549.4 810.3L3549.6 751.8L3549.8 772.8L3550 805.6L3550.2 769.5L3550.4 782.5L3550.5 758L3550.7 774.9L3550.9 777L3551.1 781.8L3551.3 820.4L3551.4 761.7L3551.6 754L3551.8 800.8L3552 759.9L3552.2 741.2L3552.4 747.8L3552.5 736.7L3552.7 746.8L3552.9 782.3L3553.1 710.4L3553.3 767.6L3553.4 784.8L3553.6 728L3553.8 786.7L3554 743.3L3554.2 788.2L3554.4 733.8L3554.5 729.9L3554.7 777.2L3554.9 748.5L3555.1 744.1L3555.3 765.6L3555.4 748.9L3555.6 765.4L3555.8 779.9L3556 788.9L3556.2 753.4L3556.4 745.8L3556.5 737.4L3556.7 746.4L3556.9 740.3L3557.1 768.3L3557.3 710.4L3557.4 780.1L3557.6 735.9L3557.8 760.9L3558 763.8L3558.2 699.3L3558.4 740.3L3558.5 785.6L3558.7 743.7L3558.9 765.7L3559.1 701.9L3559.3 774.8L3559.5 750.4L3559.6 766.2L3559.8 767.5L3560 731.4L3560.2 720L3560.4 716.5L3560.5 753.5L3560.7 765.5L3560.9 734.4L3561.1 759.8L3561.3 705.7L3561.5 786.2L3561.6 735.6L3561.8 781.2L3562 774.4L3562.2 790.7L3562.4 782.6L3562.5 732.6L3562.7 766.1L3562.9 775.7L3563.1 779.6L3563.3 771.4L3563.5 757.9L3563.6 722L3563.8 744.9L3564 746.6L3564.2 748.2L3564.4 725.1L3564.5 769.8L3564.7 735.3L3564.9 774L3565.1 772.3L3565.3 725.7L3565.5 741.1L3565.6 747.7L3565.8 768.6L3566 729.3L3566.2 681.8L3566.4 725.4L3566.5 724.7L3566.7 742.4L3566.9 707.1L3567.1 749.6L3567.3 658.2L3567.5 731.1L3567.6 735.8L3567.8 703.6L3568 766.9L3568.2 755L3568.4 755.7L3568.5 741.6L3568.7 687.2L3568.9 760.4L3569.1 667L3569.3 707.5L3569.5 690.5L3569.6 727L3569.8 774.2L3570 765.1L3570.2 695.9L3570.4 740.2L3570.5 721.3L3570.7 722.6L3570.9 689.6L3571.1 694.1L3571.3 719.9L3571.5 725.9L3571.6 701.1L3571.8 757.1L3572 746.4L3572.2 762.9L3572.4 751.8L3572.5 767.8L3572.7 702.6L3572.9 732.7L3573.1 676.4L3573.3 733.6L3573.5 716.7L3573.6 737.3L3573.8 703.6L3574 707.1L3574.2 732.1L3574.4 713.7L3574.5 743L3574.7 737.2L3574.9 749.4L3575.1 697.7L3575.3 747L3575.5 750.9L3575.6 694.8L3575.8 723.7L3576 757.9L3576.2 751.1L3576.4 736.6L3576.5 750.7L3576.7 722.7L3576.9 752.7L3577.1 752.8L3577.3 698.4L3577.5 673.5L3577.6 682.5L3577.8 729.3L3578 703.4L3578.2 723L3578.4 668.3L3578.5 708.6L3578.7 703L3578.9 664.1L3579.1 681.3L3579.3 711.4L3579.5 742L3579.6 724.1L3579.8 751.9L3580 667.5L3580.2 717.5L3580.4 693.5L3580.6 706.7L3580.7 731.8L3580.9 703.6L3581.1 700.7L3581.3 711.9L3581.5 711.1L3581.6 700.7L3581.8 735.4L3582 712.4L3582.2 721.4L3582.4 729.2L3582.6 704.4L3582.7 767.3L3582.9 745L3583.1 712.9L3583.3 665.1L3583.5 691L3583.6 726.7L3583.8 666.6L3584 701.6L3584.2 723.6L3584.4 708.4L3584.6 663.6L3584.7 682.4L3584.9 723.2L3585.1 732.4L3585.3 687.1L3585.5 734.5L3585.6 715.7L3585.8 683.2L3586 730.2L3586.2 723.2L3586.4 695.2L3586.6 708.4L3586.7 665L3586.9 700.1L3587.1 683.2L3587.3 681.5L3587.5 714.8L3587.6 676L3587.8 662.7L3588 702.9L3588.2 713L3588.4 704.3L3588.6 658.7L3588.7 697.1L3588.9 709.6L3589.1 729.8L3589.3 696.6L3589.5 731.7L3589.6 670L3589.8 716.4L3590 728.9L3590.2 667.5L3590.4 684.6L3590.6 680.7L3590.7 718L3590.9 671.9L3591.1 683.9L3591.3 687.5L3591.5 667.4L3591.6 662.4L3591.8 692.5L3592 648.1L3592.2 675.4L3592.4 691.7L3592.6 672.1L3592.7 682L3592.9 646.6L3593.1 680.9L3593.3 691.5L3593.5 687.2L3593.6 665L3593.8 728.9L3594 721.6L3594.2 692.9L3594.4 673.3L3594.6 668.1L3594.7 693.4L3594.9 727.2L3595.1 742L3595.3 689.6L3595.5 696.2L3595.6 676.3L3595.8 657.4L3596 707.1L3596.2 645.9L3596.4 694L3596.6 687.3L3596.7 677.4L3596.9 733L3597.1 617.1L3597.3 689.1L3597.5 650.2L3597.6 698.2L3597.8 722.9L3598 708.1L3598.2 709.7L3598.4 730.5L3598.6 747.5L3598.7 658.5L3598.9 697L3599.1 674.3L3599.3 643.9L3599.5 691.3L3599.6 676.1L3599.8 648.7L3600 665.4L3600.2 669.7L3600.4 701L3600.6 700.1L3600.7 654.9L3600.9 680.6L3601.1 649.2L3601.3 653.5L3601.5 661.3L3601.7 653.6L3601.8 665.6L3602 639L3602.2 727.9L3602.4 690.3L3602.6 661.2L3602.7 624.5L3602.9 714.5L3603.1 683.3L3603.3 656.7L3603.5 633.1L3603.7 680.1L3603.8 722.7L3604 657.5L3604.2 645.3L3604.4 653.5L3604.6 653.8L3604.7 648.9L3604.9 685.2L3605.1 648.9L3605.3 641.3L3605.5 663.6L3605.7 686.6L3605.8 679.6L3606 644L3606.2 680.1L3606.4 627.5L3606.6 655.8L3606.7 668L3606.9 638.1L3607.1 661.3L3607.3 602L3607.5 621.1L3607.7 679.2L3607.8 668.8L3608 713.1L3608.2 636.9L3608.4 646.5L3608.6 652.5L3608.7 696.3L3608.9 615.1L3609.1 623L3609.3 668.6L3609.5 673.2L3609.7 669.3L3609.8 634L3610 646L3610.2 657.8L3610.4 661.9L3610.6 691.6L3610.7 670.8L3610.9 700.9L3611.1 626.8L3611.3 655.2L3611.5 653.6L3611.7 664.8L3611.8 679.9L3612 708.7L3612.2 675.8L3612.4 666.4L3612.6 663.7L3612.7 627.9L3612.9 626.7L3613.1 678.4L3613.3 674.7L3613.5 623.3L3613.7 709.9L3613.8 657L3614 628L3614.2 644.8L3614.4 660.4L3614.6 629.6L3614.7 663.5L3614.9 669.4L3615.1 640L3615.3 649.1L3615.5 629.9L3615.7 613L3615.8 607.5L3616 710L3616.2 634.7L3616.4 628.2L3616.6 619.9L3616.7 651.4L3616.9 650.7L3617.1 631.8L3617.3 663L3617.5 686.6L3617.7 621.3L3617.8 621.6L3618 672.4L3618.2 610.2L3618.4 663.4L3618.6 628.5L3618.7 673.7L3618.9 638.2L3619.1 658L3619.3 651.9L3619.5 628.5L3619.7 620.2L3619.8 663L3620 595.3L3620.2 659.6L3620.4 679.5L3620.6 644.1L3620.8 583.5L3620.9 648.4L3621.1 671.8L3621.3 653.1L3621.5 625L3621.7 618.3L3621.8 620.8L3622 603.6L3622.2 576.6L3622.4 628.2L3622.6 619.1L3622.8 629.5L3622.9 619.3L3623.1 595.9L3623.3 618.7L3623.5 655.8L3623.7 603.3L3623.8 585.9L3624 621L3624.2 574.6L3624.4 597.7L3624.6 666.4L3624.8 638.3L3624.9 656.6L3625.1 639.5L3625.3 648.9L3625.5 619.3L3625.7 607.2L3625.8 678.4L3626 602.6L3626.2 627L3626.4 596L3626.6 630.6L3626.8 684.8L3626.9 625.3L3627.1 611.7L3627.3 610.5L3627.5 623L3627.7 649.8L3627.8 645.7L3628 642.5L3628.2 647.9L3628.4 618.1L3628.6 608.5L3628.8 596.1L3628.9 607.7L3629.1 621.2L3629.3 600.5L3629.5 617L3629.7 644L3629.8 591.3L3630 616.9L3630.2 617.1L3630.4 581.3L3630.6 599.5L3630.8 595.4L3630.9 559.3L3631.1 580.9L3631.3 588.8L3631.5 608.8L3631.7 666.8L3631.8 679L3632 637.4L3632.2 547.4L3632.4 615.3L3632.6 622.9L3632.8 594.9L3632.9 578.4L3633.1 598.8L3633.3 593.2L3633.5 598.6L3633.7 618.5L3633.8 623.2L3634 669.9L3634.2 609.1L3634.4 608.6L3634.6 599.3L3634.8 580.3L3634.9 644L3635.1 639L3635.3 587.1L3635.5 650.4L3635.7 600.6L3635.8 605L3636 591.8L3636.2 628.5L3636.4 589L3636.6 637.7L3636.8 583L3636.9 604.7L3637.1 615.5L3637.3 599.1L3637.5 568.7L3637.7 632.1L3637.8 608.1L3638 636.8L3638.2 576.1L3638.4 582.4L3638.6 626.4L3638.8 608.3L3638.9 631.6L3639.1 599.9L3639.3 572.4L3639.5 615.6L3639.7 599.4L3639.8 644.7L3640 552.6L3640.2 631.1L3640.4 594.9L3640.6 607.9L3640.8 568.5L3640.9 603.5L3641.1 607.9L3641.3 633L3641.5 563.1L3641.7 643.4L3641.9 552.5L3642 559.2L3642.2 543.6L3642.4 618.9L3642.6 612.8L3642.8 587.3L3642.9 561.3L3643.1 619.8L3643.3 557.2L3643.5 621.5L3643.7 570.3L3643.9 587.8L3644 583.1L3644.2 589.9L3644.4 776.4L3644.6 842.7L3644.8 766.4L3644.9 809.5L3645.1 799.7L3645.3 815.1L3645.5 774.9L3645.7 781.7L3645.9 802.4L3646 817.3L3646.2 741L3646.4 797.2L3646.6 775.1L3646.8 798.2L3646.9 760.3L3647.1 751.6L3647.3 759.5L3647.5 742.8L3647.7 740.8L3647.9 844.6L3648 803.9L3648.2 819L3648.4 767.4L3648.6 776.9L3648.8 816.9L3648.9 739.7L3649.1 779L3649.3 738.4L3649.5 799.6L3649.7 758.8L3649.9 746.8L3650 790.7L3650.2 771.4L3650.4 780.7L3650.6 790.4L3650.8 770.6L3650.9 832.2L3651.1 759.5L3651.3 775.9L3651.5 812.3L3651.7 758.9L3651.9 831.7L3652 808.8L3652.2 744.8L3652.4 762L3652.6 794.5L3652.8 737L3652.9 784.5L3653.1 780.4L3653.3 774L3653.5 756.4L3653.7 760.1L3653.9 799.9L3654 784.9L3654.2 757L3654.4 741.9L3654.6 765.1L3654.8 747.6L3654.9 748L3655.1 798.9L3655.3 776.4L3655.5 712.1L3655.7 777L3655.9 749.1L3656 804.6L3656.2 685.3L3656.4 789.1L3656.6 749.4L3656.8 753.4L3656.9 809.6L3657.1 771.9L3657.3 736L3657.5 783.6L3657.7 739.9L3657.9 773.7L3658 731.3L3658.2 702.6L3658.4 793.4L3658.6 754.7L3658.8 782.6L3658.9 789.4L3659.1 762.5L3659.3 756.9L3659.5 750.1L3659.7 750.5L3659.9 822.1L3660 775.1L3660.2 819.2L3660.4 752.5L3660.6 737.6L3660.8 752.3L3660.9 774.1L3661.1 749.3L3661.3 737.3L3661.5 743.9L3661.7 773.7L3661.9 768.2L3662 723.1L3662.2 757.8L3662.4 752.4L3662.6 755.6L3662.8 740.1L3663 741.1L3663.1 764.2L3663.3 764.9L3663.5 763.2L3663.7 750.8L3663.9 738.6L3664 792.6L3664.2 711.8L3664.4 782.4L3664.6 750.5L3664.8 782.7L3665 766.7L3665.1 754.5L3665.3 737.3L3665.5 744.9L3665.7 728.5L3665.9 759.5L3666 707.2L3666.2 793.6L3666.4 743.2L3666.6 740.9L3666.8 761.4L3667 749.8L3667.1 771.7L3667.3 737.4L3667.5 758.8L3667.7 727L3667.9 737L3668 735.5L3668.2 743.2L3668.4 769.2L3668.6 726.2L3668.8 722.6L3669 753.8L3669.1 773.6L3669.3 761.5L3669.5 714.8L3669.7 787.8L3669.9 733.2L3670 751.7L3670.2 721.6L3670.4 781.1L3670.6 729L3670.8 768.9L3671 726.2L3671.1 694.2L3671.3 745.9L3671.5 688.2L3671.7 737.5L3671.9 718.9L3672 675.6L3672.2 710.5L3672.4 723.6L3672.6 800.2L3672.8 758.6L3673 725.9L3673.1 756.5L3673.3 762.1L3673.5 722.2L3673.7 773.5L3673.9 765.7L3674 715.7L3674.2 679.4L3674.4 754.3L3674.6 730.5L3674.8 718.3L3675 750.5L3675.1 755.5L3675.3 721L3675.5 761.2L3675.7 752L3675.9 680.4L3676 782.9L3676.2 677.5L3676.4 691.1L3676.6 745.9L3676.8 697.6L3677 723.1L3677.1 753.8L3677.3 743.4L3677.5 747.7L3677.7 684.9L3677.9 759.7L3678 761.9L3678.2 737.4L3678.4 744.4L3678.6 667.3L3678.8 739.7L3679 745.5L3679.1 746.7L3679.3 747.1L3679.5 780.2L3679.7 723.5L3679.9 745L3680 732.9L3680.2 691.3L3680.4 695.9L3680.6 701.9L3680.8 748.7L3681 725.6L3681.1 736.9L3681.3 731.1L3681.5 726L3681.7 736.9L3681.9 692.7L3682 741L3682.2 682.8L3682.4 708.3L3682.6 722.8L3682.8 706.3L3683 728.1L3683.1 727.3L3683.3 690.3L3683.5 725L3683.7 600.5L3683.9 749.6L3684.1 753L3684.2 680.7L3684.4 729.5L3684.6 732.9L3684.8 744.4L3685 721.6L3685.1 736.5L3685.3 694.4L3685.5 732.1L3685.7 714.9L3685.9 696.6L3686.1 707.6L3686.2 727.2L3686.4 741.8L3686.6 754L3686.8 755.3L3687 692.4L3687.1 728L3687.3 723.5L3687.5 706.5L3687.7 702L3687.9 682.3L3688.1 697.7L3688.2 716.5L3688.4 741.6L3688.6 696.8L3688.8 711.5L3689 709.2L3689.1 731.7L3689.3 699.2L3689.5 683.7L3689.7 710.8L3689.9 687.4L3690.1 704.2L3690.2 713.7L3690.4 670.8L3690.6 711.3L3690.8 695.9L3691 744.3L3691.1 678.9L3691.3 713.3L3691.5 705.1L3691.7 712L3691.9 692.9L3692.1 716.8L3692.2 729.2L3692.4 695.5L3692.6 691.9L3692.8 712.5L3693 679.7L3693.1 668.5L3693.3 717.8L3693.5 684.9L3693.7 684.2L3693.9 738.8L3694.1 730L3694.2 756.9L3694.4 657.4L3694.6 707.3L3694.8 705L3695 676.7L3695.1 649.8L3695.3 680.4L3695.5 648.2L3695.7 656.4L3695.9 588.2L3696.1 717.1L3696.2 702.9L3696.4 711.4L3696.6 672.7L3696.8 712.8L3697 668L3697.1 741.5L3697.3 661.3L3697.5 674.4L3697.7 646.6L3697.9 669.3L3698.1 683.4L3698.2 677.1L3698.4 742.9L3698.6 693.9L3698.8 682.2L3699 636.7L3699.1 682.9L3699.3 729.4L3699.5 623.9L3699.7 711.6L3699.9 683L3700.1 712.3L3700.2 781.6L3700.4 661.6L3700.6 697.1L3700.8 661.7L3701 700.4L3701.1 665.1L3701.3 637.5L3701.5 664.2L3701.7 685.1L3701.9 695.3L3702.1 680.5L3702.2 717.2L3702.4 676.9L3702.6 661L3702.8 720.2L3703 713.9L3703.1 627.3L3703.3 678.2L3703.5 626.7L3703.7 661.3L3703.9 656.9L3704.1 671.4L3704.2 628.5L3704.4 637.8L3704.6 676.8L3704.8 727.9L3705 710.3L3705.2 677.4L3705.3 701.8L3705.5 657.6L3705.7 661.7L3705.9 659.7L3706.1 656.7L3706.2 667.6L3706.4 661L3706.6 666.2L3706.8 701.9L3707 672.2L3707.2 671.7L3707.3 645L3707.5 681.5L3707.7 695L3707.9 616.6L3708.1 647.5L3708.2 637.6L3708.4 622.6L3708.6 676.1L3708.8 637.8L3709 661.3L3709.2 698.2L3709.3 659.4L3709.5 659.9L3709.7 650.1L3709.9 672.7L3710.1 672.2L3710.2 695.9L3710.4 641.5L3710.6 719.8L3710.8 663.5L3711 677.4L3711.2 676.3L3711.3 656.2L3711.5 673L3711.7 711.6L3711.9 719.8L3712.1 713.7L3712.2 684.4L3712.4 670.6L3712.6 670.9L3712.8 660L3713 654.8L3713.2 671.8L3713.3 699.1L3713.5 671.9L3713.7 676.5L3713.9 610.9L3714.1 630.3L3714.2 681.2L3714.4 660.3L3714.6 620.6L3714.8 649.8L3715 626L3715.2 647.8L3715.3 646.4L3715.5 635.8L3715.7 669.9L3715.9 672.7L3716.1 661.8L3716.2 621.7L3716.4 642.5L3716.6 686.3L3716.8 621.7L3717 636.3L3717.2 623.7L3717.3 641.2L3717.5 647.8L3717.7 704.1L3717.9 640.7L3718.1 698.3L3718.2 653.9L3718.4 597.2L3718.6 641.4L3718.8 637L3719 661.1L3719.2 638.3L3719.3 682L3719.5 652.6L3719.7 637.7L3719.9 652.1L3720.1 676.2L3720.2 710.5L3720.4 661.3L3720.6 667.1L3720.8 660.1L3721 630L3721.2 693.4L3721.3 621.6L3721.5 681.5L3721.7 573.1L3721.9 606.5L3722.1 624L3722.2 664.6L3722.4 636L3722.6 635.6L3722.8 657.1L3723 654.9L3723.2 608.9L3723.3 634.6L3723.5 584.7L3723.7 604.1L3723.9 638.5L3724.1 619.2L3724.2 631.8L3724.4 670.1L3724.6 620.1L3724.8 657.7L3725 595.2L3725.2 605.5L3725.3 701.1L3725.5 630.4L3725.7 662.6L3725.9 586.4L3726.1 635.6L3726.3 623.7L3726.4 614.6L3726.6 658.6L3726.8 626.8L3727 594.3L3727.2 647.3L3727.3 613.5L3727.5 636L3727.7 566.6L3727.9 573.1L3728.1 628.4L3728.3 633.6L3728.4 613.1L3728.6 630L3728.8 630.5L3729 642.5L3729.2 577.9L3729.3 562.8L3729.5 610.2L3729.7 670L3729.9 663.6L3730.1 609.9L3730.3 650.8L3730.4 639.6L3730.6 620.4L3730.8 635.4L3731 588.5L3731.2 659.7L3731.3 619L3731.5 654.8L3731.7 616.6L3731.9 673.2L3732.1 634.6L3732.3 589.8L3732.4 640.3L3732.6 612.4L3732.8 634.5L3733 614.6L3733.2 628.5L3733.3 603.2L3733.5 648.2L3733.7 623.5L3733.9 596.9L3734.1 637.1L3734.3 595.4L3734.4 591L3734.6 608.6L3734.8 672.8L3735 566.6L3735.2 648.7L3735.3 613.6L3735.5 601.1L3735.7 566.5L3735.9 610.2L3736.1 636.4L3736.3 593.3L3736.4 565.1L3736.6 637.9L3736.8 592.6L3737 610.2L3737.2 604.2L3737.3 616.3L3737.5 598.2L3737.7 591.3L3737.9 539.5L3738.1 659.7L3738.3 560L3738.4 603.1L3738.6 634.4L3738.8 646.8L3739 566.1L3739.2 651.9L3739.3 551.7L3739.5 643.3L3739.7 592.1L3739.9 630.2L3740.1 642.3L3740.3 620.2L3740.4 547.3L3740.6 596.6L3740.8 593.5L3741 573.6L3741.2 566.5L3741.3 625.9L3741.5 586.6L3741.7 597.1L3741.9 609.5L3742.1 659L3742.3 570.7L3742.4 575.8L3742.6 611.7L3742.8 494.1L3743 631.1L3743.2 603.5L3743.3 588.3L3743.5 617.6L3743.7 596.4L3743.9 552.3L3744.1 624.7L3744.3 651.9L3744.4 612.1L3744.6 621.4L3744.8 608.6L3745 614L3745.2 595.7L3745.4 528.2L3745.5 592.7L3745.7 532.6L3745.9 595.9L3746.1 609.1L3746.3 649.6L3746.4 587.3L3746.6 577.8L3746.8 517.2L3747 641.9L3747.2 611.8L3747.4 602.2L3747.5 597.7L3747.7 593.1L3747.9 614.6L3748.1 593.4L3748.3 618.4L3748.4 618.5L3748.6 582.6L3748.8 555.2L3749 815.5L3749.2 848.2L3749.4 811L3749.5 795.3L3749.7 796.9L3749.9 760.1L3750.1 824.1L3750.3 801.9L3750.4 812.1L3750.6 745L3750.8 783.5L3751 800.7L3751.2 815.7L3751.4 766.6L3751.5 829.9L3751.7 758.6L3751.9 761.1L3752.1 772.5L3752.3 784.6L3752.4 788L3752.6 765.6L3752.8 794.1L3753 759.9L3753.2 828.6L3753.4 749.2L3753.5 789.6L3753.7 751.6L3753.9 775.3L3754.1 800.3L3754.3 788.5L3754.4 802.6L3754.6 761.2L3754.8 823.9L3755 824.1L3755.2 756.7L3755.4 772.1L3755.5 809.9L3755.7 765.3L3755.9 818.5L3756.1 779.1L3756.3 819L3756.4 760.3L3756.6 781.9L3756.8 772.9L3757 839.1L3757.2 811.4L3757.4 822.2L3757.5 792.6L3757.7 779.4L3757.9 827.4L3758.1 793L3758.3 782.3L3758.4 766.6L3758.6 781.6L3758.8 771.2L3759 741.3L3759.2 822.6L3759.4 742.9L3759.5 814.8L3759.7 776.4L3759.9 796.9L3760.1 767.2L3760.3 780.6L3760.4 739L3760.6 817.9L3760.8 743.9L3761 758.1L3761.2 737.9L3761.4 787.7L3761.5 730.8L3761.7 762.9L3761.9 750.8L3762.1 766.5L3762.3 750.8L3762.4 729.4L3762.6 775.5L3762.8 821.5L3763 764L3763.2 747.5L3763.4 786.9L3763.5 779.5L3763.7 810.8L3763.9 753.5L3764.1 796.3L3764.3 740.4L3764.4 735.2L3764.6 711.2L3764.8 729.1L3765 732.4L3765.2 761.4L3765.4 706.9L3765.5 819.2L3765.7 795.8L3765.9 712.5L3766.1 782.5L3766.3 793.4L3766.5 780.6L3766.6 737.3L3766.8 729.9L3767 740.8L3767.2 773.4L3767.4 765.3L3767.5 741.5L3767.7 766.7L3767.9 742L3768.1 794.4L3768.3 724.8L3768.5 752.7L3768.6 757.8L3768.8 771.3L3769 819.8L3769.2 718.3L3769.4 770.6L3769.5 755.2L3769.7 755.7L3769.9 727.8L3770.1 757.9L3770.3 699.9L3770.5 732.8L3770.6 763.7L3770.8 767.1L3771 679.6L3771.2 776.1L3771.4 764.4L3771.5 781.9L3771.7 745L3771.9 752.6L3772.1 713.8L3772.3 776.6L3772.5 788.6L3772.6 698.8L3772.8 824.2L3773 748L3773.2 798L3773.4 731.3L3773.5 770L3773.7 727.2L3773.9 758.9L3774.1 738.4L3774.3 780.4L3774.5 746.6L3774.6 738.3L3774.8 739.3L3775 714.3L3775.2 717.4L3775.4 665.9L3775.5 780L3775.7 730.4L3775.9 742.8L3776.1 725.7L3776.3 701.4L3776.5 682.8L3776.6 696L3776.8 766.5L3777 764.9L3777.2 767.9L3777.4 740.5L3777.5 782.2L3777.7 744.7L3777.9 784.3L3778.1 746.4L3778.3 738.8L3778.5 703.5L3778.6 738.6L3778.8 745.5L3779 718.5L3779.2 759.6L3779.4 699.4L3779.5 735.9L3779.7 720.2L3779.9 741.9L3780.1 732.8L3780.3 743.9L3780.5 750.7L3780.6 730.6L3780.8 710.3L3781 772.4L3781.2 730.7L3781.4 701L3781.5 739.3L3781.7 697.9L3781.9 708.6L3782.1 759.5L3782.3 746.5L3782.5 689.7L3782.6 695.3L3782.8 714.9L3783 723.4L3783.2 793.8L3783.4 728.4L3783.5 775.7L3783.7 730.8L3783.9 727.4L3784.1 729.1L3784.3 710.2L3784.5 721L3784.6 758.6L3784.8 736.3L3785 696.2L3785.2 664L3785.4 753.6L3785.5 708.7L3785.7 689.2L3785.9 706.2L3786.1 725.1L3786.3 684.7L3786.5 667.1L3786.6 713.5L3786.8 742.2L3787 758.1L3787.2 696.4L3787.4 678.6L3787.6 723.4L3787.7 715.2L3787.9 722.4L3788.1 656.4L3788.3 741.8L3788.5 693.1L3788.6 731.7L3788.8 693.1L3789 698.8L3789.2 678L3789.4 717.7L3789.6 731.9L3789.7 726.8L3789.9 739.6L3790.1 684.2L3790.3 711.9L3790.5 758.7L3790.6 703.2L3790.8 724L3791 759.7L3791.2 719L3791.4 711.6L3791.6 727.9L3791.7 725.6L3791.9 742.9L3792.1 743.7L3792.3 654L3792.5 746.2L3792.6 691.3L3792.8 693.8L3793 706.6L3793.2 765.5L3793.4 675.1L3793.6 726.9L3793.7 643.9L3793.9 717.8L3794.1 737.3L3794.3 670.8L3794.5 714.7L3794.6 696.8L3794.8 676.5L3795 729.8L3795.2 739.9L3795.4 702.3L3795.6 672.9L3795.7 705.4L3795.9 711.6L3796.1 660.7L3796.3 670L3796.5 699.5L3796.6 638.8L3796.8 711.4L3797 690.1L3797.2 723.1L3797.4 680.2L3797.6 665.9L3797.7 700.7L3797.9 736.9L3798.1 687.5L3798.3 699.9L3798.5 684.2L3798.6 730L3798.8 685.4L3799 714.9L3799.2 669.2L3799.4 691.1L3799.6 698.8L3799.7 688.7L3799.9 673.2L3800.1 646.2L3800.3 696.9L3800.5 685.1L3800.6 711.7L3800.8 689.4L3801 729.7L3801.2 698L3801.4 646.7L3801.6 688.5L3801.7 699.1L3801.9 701.2L3802.1 713.5L3802.3 668.5L3802.5 699.6L3802.6 708.2L3802.8 637.1L3803 656.2L3803.2 678.2L3803.4 704.6L3803.6 646.8L3803.7 629.5L3803.9 684.9L3804.1 673L3804.3 668.2L3804.5 641.3L3804.6 665.8L3804.8 672.3L3805 689.3L3805.2 696.9L3805.4 670.6L3805.6 674.1L3805.7 688.5L3805.9 707.8L3806.1 683.9L3806.3 692.9L3806.5 674.5L3806.6 649.2L3806.8 653.8L3807 638.5L3807.2 729.5L3807.4 637.2L3807.6 712.4L3807.7 664.9L3807.9 679L3808.1 659.1L3808.3 703.3L3808.5 657.8L3808.7 725.6L3808.8 641.2L3809 705.2L3809.2 611.1L3809.4 690L3809.6 679L3809.7 680.2L3809.9 659.2L3810.1 678.5L3810.3 681.4L3810.5 690.3L3810.7 675.5L3810.8 641.3L3811 686.8L3811.2 668L3811.4 684.8L3811.6 679.4L3811.7 660.5L3811.9 662.1L3812.1 702.8L3812.3 657.1L3812.5 671.2L3812.7 662L3812.8 602.6L3813 666.5L3813.2 714.8L3813.4 632.1L3813.6 693.1L3813.7 685.6L3813.9 683.5L3814.1 648.2L3814.3 712.9L3814.5 683.2L3814.7 690.8L3814.8 647.4L3815 658.5L3815.2 667.6L3815.4 666.4L3815.6 691.5L3815.7 697.6L3815.9 639.2L3816.1 679.5L3816.3 663.6L3816.5 680.4L3816.7 699.7L3816.8 700L3817 650.6L3817.2 605L3817.4 663.3L3817.6 616.6L3817.7 665.5L3817.9 662.2L3818.1 645.1L3818.3 688.2L3818.5 660.5L3818.7 671L3818.8 644.5L3819 716.5L3819.2 627.6L3819.4 630L3819.6 648.1L3819.7 646.9L3819.9 661L3820.1 662.8L3820.3 647.6L3820.5 692.4L3820.7 678.2L3820.8 667.9L3821 591.7L3821.2 664L3821.4 596.9L3821.6 671.7L3821.7 746.8L3821.9 656.5L3822.1 648.8L3822.3 598.1L3822.5 674.3L3822.7 637.6L3822.8 673.9L3823 638.8L3823.2 633L3823.4 674.6L3823.6 620.9L3823.7 633.5L3823.9 670.6L3824.1 617.7L3824.3 666.4L3824.5 629.3L3824.7 658.8L3824.8 667.3L3825 609.6L3825.2 591.8L3825.4 615.1L3825.6 624L3825.7 652L3825.9 580.2L3826.1 636.7L3826.3 626.8L3826.5 659L3826.7 673.6L3826.8 626.9L3827 620L3827.2 666.9L3827.4 652.6L3827.6 638.6L3827.7 635.6L3827.9 671.1L3828.1 681.8L3828.3 654.4L3828.5 629.6L3828.7 618.3L3828.8 648.5L3829 587.1L3829.2 672.2L3829.4 649.6L3829.6 635.1L3829.8 631.1L3829.9 627L3830.1 656.6L3830.3 657.4L3830.5 677.3L3830.7 612.7L3830.8 654.4L3831 632.1L3831.2 604.7L3831.4 629.9L3831.6 671.5L3831.8 637L3831.9 623.7L3832.1 582L3832.3 619.2L3832.5 650.8L3832.7 535.7L3832.8 599.1L3833 616.8L3833.2 653.9L3833.4 664.4L3833.6 629.9L3833.8 620.8L3833.9 642.2L3834.1 613.2L3834.3 630.7L3834.5 671.6L3834.7 576.7L3834.8 676.9L3835 594.5L3835.2 639.6L3835.4 687.3L3835.6 650.1L3835.8 590.2L3835.9 665.8L3836.1 638.5L3836.3 584.1L3836.5 652.5L3836.7 603.5L3836.8 663.6L3837 623.7L3837.2 629.3L3837.4 622.3L3837.6 641.9L3837.8 584.4L3837.9 667.1L3838.1 583.1L3838.3 621.2L3838.5 642.5L3838.7 604.2L3838.8 599.1L3839 617.1L3839.2 628L3839.4 561.8L3839.6 610.6L3839.8 643.8L3839.9 561.5L3840.1 590.6L3840.3 612L3840.5 643.4L3840.7 585.2L3840.8 625.4L3841 621.8L3841.2 623.8L3841.4 650.4L3841.6 551.5L3841.8 599.8L3841.9 582.9L3842.1 627.3L3842.3 569.8L3842.5 692.5L3842.7 624.4L3842.8 686.6L3843 600.9L3843.2 588.7L3843.4 593.6L3843.6 646.9L3843.8 608.2L3843.9 613.4L3844.1 598.6L3844.3 573L3844.5 623.2L3844.7 582.5L3844.8 584.6L3845 580L3845.2 626.3L3845.4 623.6L3845.6 615.4L3845.8 633.8L3845.9 624.4L3846.1 626.3L3846.3 592.6L3846.5 618.3L3846.7 581.3L3846.8 614.7L3847 549.4L3847.2 599L3847.4 600.7L3847.6 634L3847.8 574.1L3847.9 565.2L3848.1 605.6L3848.3 576.3L3848.5 548.5L3848.7 620L3848.9 573.4L3849 601.4L3849.2 598L3849.4 625.5L3849.6 597L3849.8 595.1L3849.9 571.9L3850.1 608.6L3850.3 603.4L3850.5 532.6L3850.7 587.3L3850.9 574.4L3851 581.4L3851.2 623.4L3851.4 588.7L3851.6 585.9L3851.8 633.6L3851.9 533L3852.1 604.1L3852.3 607.4L3852.5 581.5L3852.7 568.9L3852.9 566L3853 584L3853.2 544.7L3853.4 569.9L3853.6 791.4L3853.8 776.4L3853.9 803.1L3854.1 799.1L3854.3 779.9L3854.5 809.5L3854.7 811.3L3854.9 788.2L3855 794.6L3855.2 794.5L3855.4 810L3855.6 747L3855.8 794.9L3855.9 766.9L3856.1 773.3L3856.3 816.1L3856.5 784.2L3856.7 776.3L3856.9 757.4L3857 831.5L3857.2 821.5L3857.4 759.1L3857.6 814L3857.8 815L3857.9 767.6L3858.1 790.8L3858.3 754.5L3858.5 843L3858.7 758.6L3858.9 759.9L3859 795.9L3859.2 800.5L3859.4 754.4L3859.6 813.8L3859.8 717.6L3859.9 758.8L3860.1 817.9L3860.3 781.8L3860.5 772.6L3860.7 752.4L3860.9 794.8L3861 769.7L3861.2 783.1L3861.4 787.9L3861.6 790.2L3861.8 760.3L3861.9 777.7L3862.1 763.8L3862.3 763.9L3862.5 773.8L3862.7 727.5L3862.9 746L3863 757.5L3863.2 802.4L3863.4 739.7L3863.6 766.8L3863.8 767.9L3863.9 794L3864.1 781.5L3864.3 726.3L3864.5 751.5L3864.7 770.2L3864.9 764L3865 783L3865.2 751.8L3865.4 783.3L3865.6 787L3865.8 730L3865.9 771.6L3866.1 741.3L3866.3 790L3866.5 777.4L3866.7 749.4L3866.9 762.1L3867 761.2L3867.2 764L3867.4 819.8L3867.6 751.7L3867.8 762.5L3867.9 810.7L3868.1 743.9L3868.3 736.4L3868.5 711.7L3868.7 763.5L3868.9 741.8L3869 811.8L3869.2 695.8L3869.4 763.3L3869.6 750.9L3869.8 763.7L3870 785.7L3870.1 803.2L3870.3 746.5L3870.5 799L3870.7 740.1L3870.9 776.9L3871 744.6L3871.2 761.6L3871.4 772.1L3871.6 775.6L3871.8 740L3872 733.6L3872.1 721.3L3872.3 794.1L3872.5 765.3L3872.7 756.4L3872.9 715.8L3873 757.5L3873.2 804.9L3873.4 766.3L3873.6 815.5L3873.8 719L3874 753.5L3874.1 735L3874.3 827L3874.5 760.6L3874.7 782.9L3874.9 754.2L3875 723.8L3875.2 781.7L3875.4 712.2L3875.6 755.3L3875.8 728.7L3876 763.3L3876.1 746L3876.3 715.6L3876.5 820.4L3876.7 727.3L3876.9 732.6L3877 723.1L3877.2 729.9L3877.4 763.9L3877.6 753.7L3877.8 781.1L3878 735.6L3878.1 728.6L3878.3 773.5L3878.5 776.3L3878.7 758.4L3878.9 751.8L3879 743L3879.2 712.4L3879.4 769.7L3879.6 748.1L3879.8 744.8L3880 727.1L3880.1 783.3L3880.3 728L3880.5 752.8L3880.7 790.8L3880.9 706.5L3881 762.2L3881.2 765L3881.4 755.6L3881.6 732.1L3881.8 741.5L3882 699.3L3882.1 720.6L3882.3 763.4L3882.5 740.8L3882.7 792.7L3882.9 766.8L3883 737.1L3883.2 726.7L3883.4 722.4L3883.6 761.2L3883.8 741.2L3884 740.5L3884.1 723.9L3884.3 720.5L3884.5 741.7L3884.7 703.2L3884.9 764.7L3885 730L3885.2 743.8L3885.4 743.2L3885.6 656.6L3885.8 739.3L3886 694.2L3886.1 733.9L3886.3 748.9L3886.5 697L3886.7 762.2L3886.9 740.9L3887 731.1L3887.2 764.4L3887.4 683.3L3887.6 738.8L3887.8 712.5L3888 753.2L3888.1 726.7L3888.3 727.2" stroke="#8AB4F0" stroke-width="1.6" fill="none" stroke-linejoin="round"/><path d="M3449.2 482.6V900H3909.2M3470.1 900v5M3574.7 900v5M3679.2 900v5M3783.8 900v5M3888.3 900v5M3449.2 896.9h-5M3449.2 845.1h-5M3449.2 793.2h-5M3449.2 741.3h-5M3449.2 689.4h-5M3449.2 637.5h-5M3449.2 585.6h-5M3449.2 533.7h-5M3449.2 481.9h-5" stroke="#000" stroke-width="1.3" fill="none"/><g transform="translate(3459.23,922.34)"><text font-family="'Liberation Serif', serif" font-size="20.5" fill="#000"><tspan x="0" y="0">−2</tspan></text></g><g transform="translate(3563.78,922.34)"><text font-family="'Liberation Serif', serif" font-size="20.5" fill="#000"><tspan x="0" y="0">−1</tspan></text></g><g transform="translate(3674.11,922.34)"><text font-family="'Liberation Serif', serif" font-size="20.5" fill="#000"><tspan x="0" y="0">0</tspan></text></g><g transform="translate(3778.65,922.34)"><text font-family="'Liberation Serif', serif" font-size="20.5" fill="#000"><tspan x="0" y="0">1</tspan></text></g><g transform="translate(3883.2,922.34)"><text font-family="'Liberation Serif', serif" font-size="20.5" fill="#000"><tspan x="0" y="0">2</tspan></text></g><g transform="translate(3673.46,949.6)"><text font-family="'Liberation Serif', serif" font-style="italic" font-size="26" fill="#000"><tspan x="0" y="0">x</tspan></text></g><path d="M3476.3 693l4.9 8.8h-9.8zM3512 640.4l4.9 8.8h-9.8zM3512 675.2l4.9 8.8h-9.8zM3521.2 552.1l4.9 8.8h-9.8zM3529 593.1l4.9 8.8h-9.8zM3551.5 728.6l4.9 8.8h-9.8zM3556.1 770.5l4.9 8.8h-9.8zM3573.1 652l4.9 8.8h-9.8zM3583.2 711.6l4.9 8.8h-9.8zM3592.5 674.4l4.9 8.8h-9.8zM3597.1 655.1l4.9 8.8h-9.8zM3640.5 583.8l4.9 8.8h-9.8zM3659.9 784.4l4.9 8.8h-9.8zM3669.9 719.3l4.9 8.8h-9.8zM3676.1 701.5l4.9 8.8h-9.8zM3690.1 719.3l4.9 8.8h-9.8zM3695.5 665.9l4.9 8.8h-9.8zM3751.3 799.9l4.9 8.8h-9.8zM3755.1 755l4.9 8.8h-9.8zM3771.4 682.2l4.9 8.8h-9.8zM3777.6 688.4l4.9 8.8h-9.8zM3785.3 721.7l4.9 8.8h-9.8zM3826.4 655.8l4.9 8.8h-9.8zM3848.1 613.2l4.9 8.8h-9.8zM3848.8 648.9l4.9 8.8h-9.8zM3857.3 772.8l4.9 8.8h-9.8zM3863.5 755.7l4.9 8.8h-9.8zM3872.1 761.9l4.9 8.8h-9.8zM3876.7 772l4.9 8.8h-9.8z" fill="#C0282B"/><rect x="3660.6" y="491.9" width="238.5" height="58.1" rx="4" fill="#ECECEC"/><path d="M3667.6 508.2H3710.2" stroke="#8AB4F0" stroke-width="1.9"/><path d="M3689.3 527.3l4.9 8.8h-9.8z" fill="#C0282B"/><g transform="translate(3724.92,514.38) scale(0.9708,1)"><text font-family="'Liberation Serif', serif" font-size="20.5" fill="#000"><tspan x="0" y="0">Noised function #2</tspan></text></g><g transform="translate(3724.92,537.61) scale(0.9723,1)"><text font-family="'Liberation Serif', serif" font-size="20.5" fill="#000"><tspan x="0" y="0">Auxiliary context #2</tspan></text></g><g transform="translate(2423.9,690.2) rotate(-90)"><g transform="translate(-5.77,0)"><text font-family="'Liberation Serif', serif" font-style="italic" font-size="26" fill="#000"><tspan x="0" y="0">y</tspan></text></g></g></g>
<g id="fig4"><path d="M2490.6 1992.2V1566.1M2603.2 1992.2V1566.1M2715.8 1992.2V1566.1M2828.5 1992.2V1566.1M2941.1 1992.2V1566.1M2490.6 1992.2H2941.1M2490.6 1941.4H2941.1M2490.6 1890.5H2941.1M2490.6 1839.6H2941.1M2490.6 1788.8H2941.1M2490.6 1737.9H2941.1M2490.6 1687H2941.1M2490.6 1636.1H2941.1M2490.6 1585.2H2941.1" stroke="#e3e3e3" stroke-width="1.3" fill="none"/><clipPath id="f4c0"><rect x="2490.6" y="1566.1" width="450.5" height="426.1"/></clipPath><g clip-path="url(#f4c0)"><path d="M2490.6 1744.3L2492.1 1749.8L2493.6 1755.5L2495.1 1759.7L2496.6 1764.1L2498.1 1769.1L2499.6 1774.4L2501.1 1780L2502.7 1785.7L2504.2 1791.5L2505.7 1797.5L2507.2 1803.5L2508.7 1809.5L2510.2 1815.6L2511.7 1821.7L2513.2 1827.8L2514.7 1833.2L2516.2 1788.1L2517.7 1776.6L2519.2 1756.4L2520.7 1729.6L2522.2 1697.1L2523.7 1659.6L2525.3 1665.5L2526.8 1702.3L2528.3 1706.8L2529.8 1699.8L2531.3 1706L2532.8 1711.4L2534.3 1716.7L2535.8 1722L2537.3 1727.4L2538.8 1733L2540.3 1738.5L2541.8 1744.1L2543.3 1749.5L2544.8 1754.6L2546.3 1759.9L2547.9 1765.2L2549.4 1770.5L2550.9 1775.6L2552.4 1780.6L2553.9 1785.7L2555.4 1790.8L2556.9 1795.9L2558.4 1801L2559.9 1806.1L2561.4 1811.3L2562.9 1816.7L2564.4 1822.2L2565.9 1827.5L2567.4 1832.2L2568.9 1837L2570.5 1842L2572 1784.7L2573.5 1767.9L2575 1742.5L2576.5 1710.2L2578 1672L2579.5 1628.4L2581 1667.7L2582.5 1692.3L2584 1697.4L2585.5 1702.5L2587 1707.7L2588.5 1712.9L2590 1718.2L2591.5 1723.4L2593.1 1728.6L2594.6 1733.7L2596.1 1738.7L2597.6 1743.7L2599.1 1748.7L2600.6 1753.9L2602.1 1759.3L2603.6 1765L2605.1 1770.8L2606.6 1776.4L2608.1 1781.2L2609.6 1786.1L2611.1 1791.3L2612.6 1796.7L2614.1 1802.1L2615.7 1807.5L2617.2 1812.9L2618.7 1818.1L2620.2 1823.3L2621.7 1828.5L2623.2 1833.8L2624.7 1839.1L2626.2 1844.5L2627.7 1777.9L2629.2 1753.8L2630.7 1720.4L2632.2 1679.4L2633.7 1631.6L2635.2 1612.8L2636.7 1662.9L2638.3 1695.9L2639.8 1701.2L2641.3 1706.6L2642.8 1711.9L2644.3 1717.1L2645.8 1722.1L2647.3 1726.9L2648.8 1731.6L2650.3 1736.4L2651.8 1741.3L2653.3 1746.6L2654.8 1752.2L2656.3 1757.9L2657.8 1763.7L2659.3 1769.2L2660.9 1774.5L2662.4 1779.7L2663.9 1784.8L2665.4 1789.9L2666.9 1795L2668.4 1800.2L2669.9 1805.5L2671.4 1810.7L2672.9 1815.9L2674.4 1821L2675.9 1826.2L2677.4 1831.3L2678.9 1836.4L2680.4 1841.5L2681.9 1846.6L2683.5 1784.3L2685 1765.3L2686.5 1736.8L2688 1700.5L2689.5 1657.5L2691 1608.5L2692.5 1652.4L2694 1696.1L2695.5 1699.4L2697 1705.1L2698.5 1710.8L2700 1715.9L2701.5 1721.2L2703 1726.5L2704.5 1731.8L2706.1 1737.2L2707.6 1742.6L2709.1 1748.1L2710.6 1753.7L2712.1 1759.2L2713.6 1764.7L2715.1 1770.1L2716.6 1775.3L2718.1 1780.6L2719.6 1785.8L2721.1 1791.1L2722.6 1796.5L2724.1 1801.9L2725.6 1807.3L2727.2 1812.6L2728.7 1818L2730.2 1823.5L2731.7 1829.2L2733.2 1835.1L2734.7 1840.3L2736.2 1844.9L2737.7 1849.6L2739.2 1788.1L2740.7 1775L2742.2 1752L2743.7 1721.5L2745.2 1684.6L2746.7 1641.9L2748.2 1648.2L2749.8 1690.1L2751.3 1693.6L2752.8 1698.9L2754.3 1703.9L2755.8 1709L2757.3 1714.1L2758.8 1719.2L2760.3 1724.4L2761.8 1729.6L2763.3 1734.7L2764.8 1739.8L2766.3 1744.8L2767.8 1749.7L2769.3 1754.7L2770.8 1759.8L2772.4 1764.9L2773.9 1769.9L2775.4 1774.9L2776.9 1779.9L2778.4 1785L2779.9 1790.2L2781.4 1795.6L2782.9 1801.3L2784.4 1801.1L2785.9 1807.1L2787.4 1811.8L2788.9 1816.5L2790.4 1821.5L2791.9 1826.7L2793.4 1832.3L2795 1838.1L2796.5 1780.8L2798 1759.6L2799.5 1729.7L2801 1692.6L2802.5 1649L2804 1619.5L2805.5 1666.7L2807 1694.9L2808.5 1698.5L2810 1704L2811.5 1709.2L2813 1714.2L2814.5 1719.1L2816 1724.1L2817.6 1729L2819.1 1734L2820.6 1739.1L2822.1 1744.4L2823.6 1749.8L2825.1 1755.3L2826.6 1760.9L2828.1 1766.6L2829.6 1772.1L2831.1 1777.5L2832.6 1782.9L2834.1 1788.2L2835.6 1793.4L2837.1 1798.6L2838.6 1803.8L2840.2 1808.9L2841.7 1814.1L2843.2 1819.3L2844.7 1824.7L2846.2 1830.2L2847.7 1835.2L2849.2 1840L2850.7 1778L2852.2 1753.9L2853.7 1720.6L2855.2 1679.6L2856.7 1631.8L2858.2 1612.5L2859.7 1662.7L2861.2 1706.3L2862.8 1698.6L2864.3 1703.5L2865.8 1708.6L2867.3 1713.7L2868.8 1718.2L2870.3 1722.6L2871.8 1727L2873.3 1731.6L2874.8 1736.2L2876.3 1740.8L2877.8 1745.3L2879.3 1749.7L2880.8 1754.1L2882.3 1758.6L2883.8 1763.1L2885.4 1767.9L2886.9 1772.7L2888.4 1777.6L2889.9 1782.4L2891.4 1787.1L2892.9 1791.9L2894.4 1796.6L2895.9 1801.5L2897.4 1806.5L2898.9 1811.6L2900.4 1816.8L2901.9 1821.8L2903.4 1826L2904.9 1830.3L2906.4 1784.9L2908 1768.5L2909.5 1743.9L2911 1712.5L2912.5 1675.2L2914 1632.7L2915.5 1670.4L2917 1708.3L2918.5 1698.9L2920 1701.9L2921.5 1706.5L2923 1711.1L2924.5 1715.9L2926 1720.7L2927.5 1725.8L2929 1731.1L2930.6 1736.5L2932.1 1742L2933.6 1746.3L2935.1 1750.5L2936.6 1754.9L2938.1 1759.3L2939.6 1763.8L2941.1 1768.4L2941.1 1801L2939.6 1795.8L2938.1 1790.5L2936.6 1785.1L2935.1 1779.6L2933.6 1774.1L2932.1 1768.5L2930.6 1764.2L2929 1759.9L2927.5 1755.3L2926 1750.6L2924.5 1745.7L2923 1740.6L2921.5 1792L2920 1802.8L2918.5 1818.5L2917 1838.3L2915.5 1861.6L2914 1884.8L2912.5 1858.6L2911 1850.9L2909.5 1873.5L2908 1868.7L2906.4 1863.8L2904.9 1858.7L2903.4 1853.6L2901.9 1848.5L2900.4 1844L2898.9 1839.8L2897.4 1835.6L2895.9 1831.2L2894.4 1826.7L2892.9 1822L2891.4 1817.3L2889.9 1812.7L2888.4 1808.1L2886.9 1803.5L2885.4 1799L2883.8 1794.3L2882.3 1789.5L2880.8 1784.6L2879.3 1779.6L2877.8 1774.6L2876.3 1769.7L2874.8 1764.9L2873.3 1760.1L2871.8 1755.3L2870.3 1750.3L2868.8 1745.3L2867.3 1740.4L2865.8 1790.5L2864.3 1808.2L2862.8 1837.4L2861.2 1875.5L2859.7 1921.4L2858.2 1974.3L2856.7 1953.9L2855.2 1903.6L2853.7 1874.2L2852.2 1878.7L2850.7 1873.4L2849.2 1867.9L2847.7 1862.3L2846.2 1856.8L2844.7 1851.8L2843.2 1846.7L2841.7 1841.4L2840.2 1836.1L2838.6 1830.7L2837.1 1825.4L2835.6 1820.1L2834.1 1814.9L2832.6 1809.7L2831.1 1804.5L2829.6 1799.5L2828.1 1794.5L2826.6 1789.6L2825.1 1784.8L2823.6 1779.8L2822.1 1774.7L2820.6 1769.5L2819.1 1764.1L2817.6 1758.6L2816 1753.1L2814.5 1747.5L2813 1742L2811.5 1790.5L2810 1801.1L2808.5 1817.8L2807 1839.3L2805.5 1865L2804 1894.5L2802.5 1876.1L2801 1869.6L2799.5 1882.2L2798 1876.4L2796.5 1870.5L2795 1865.2L2793.4 1860.6L2791.9 1855.7L2790.4 1850.6L2788.9 1845.2L2787.4 1839.5L2785.9 1833.8L2784.4 1829.4L2782.9 1818.8L2781.4 1814.1L2779.9 1809.1L2778.4 1804L2776.9 1798.6L2775.4 1793.2L2773.9 1787.8L2772.4 1782.5L2770.8 1777.2L2769.3 1771.8L2767.8 1766.4L2766.3 1761L2764.8 1755.6L2763.3 1750.3L2761.8 1745L2760.3 1739.8L2758.8 1734.6L2757.3 1729.3L2755.8 1788.8L2754.3 1802.4L2752.8 1829L2751.3 1865L2749.8 1909L2748.2 1960.2L2746.7 1967.9L2745.2 1915.8L2743.7 1890.1L2742.2 1884.9L2740.7 1879.5L2739.2 1873.8L2737.7 1867.7L2736.2 1861.6L2734.7 1855.4L2733.2 1849.8L2731.7 1844.8L2730.2 1839.7L2728.7 1834.3L2727.2 1828.9L2725.6 1823.5L2724.1 1818L2722.6 1812.6L2721.1 1807.2L2719.6 1801.6L2718.1 1796L2716.6 1790.4L2715.1 1784.9L2713.6 1779.4L2712.1 1774L2710.6 1768.8L2709.1 1763.5L2707.6 1758.1L2706.1 1752.8L2704.5 1747.3L2703 1741.9L2701.5 1736.3L2700 1730.7L2698.5 1793.3L2697 1808.5L2695.5 1830.8L2694 1858.7L2692.5 1891.7L2691 1925L2689.5 1887.9L2688 1875L2686.5 1877.9L2685 1872.7L2683.5 1867.5L2681.9 1862.2L2680.4 1856.9L2678.9 1851.6L2677.4 1846.3L2675.9 1841.1L2674.4 1835.8L2672.9 1830.6L2671.4 1825.4L2669.9 1820.2L2668.4 1815L2666.9 1809.9L2665.4 1804.6L2663.9 1799.3L2662.4 1794L2660.9 1788.8L2659.3 1783.7L2657.8 1778.8L2656.3 1774.2L2654.8 1769.5L2653.3 1764.7L2651.8 1759.6L2650.3 1754.2L2648.8 1748.5L2647.3 1742.8L2645.8 1737.2L2644.3 1731.9L2642.8 1790.4L2641.3 1807.1L2639.8 1834.8L2638.3 1871L2636.7 1914.6L2635.2 1964.7L2633.7 1945.9L2632.2 1898.1L2630.7 1875.1L2629.2 1869.8L2627.7 1864.7L2626.2 1859.6L2624.7 1854.5L2623.2 1849.3L2621.7 1844.1L2620.2 1838.8L2618.7 1833.5L2617.2 1828.2L2615.7 1823L2614.1 1817.9L2612.6 1812.8L2611.1 1807.6L2609.6 1802.3L2608.1 1796.8L2606.6 1791L2605.1 1786.1L2603.6 1781.4L2602.1 1776.5L2600.6 1771.5L2599.1 1766.1L2597.6 1760.6L2596.1 1755.1L2594.6 1749.6L2593.1 1744.1L2591.5 1738.8L2590 1733.5L2588.5 1728.3L2587 1793.9L2585.5 1811.4L2584 1836.9L2582.5 1868.9L2581 1906.8L2579.5 1945.1L2578 1902.6L2576.5 1869L2575 1873.9L2573.5 1869L2572 1864L2570.5 1858.8L2568.9 1853.4L2567.4 1847.8L2565.9 1842.1L2564.4 1837.1L2562.9 1832.3L2561.4 1827.3L2559.9 1822.1L2558.4 1816.8L2556.9 1811.5L2555.4 1806.2L2553.9 1801L2552.4 1795.7L2550.9 1790.4L2549.4 1785.1L2547.9 1780L2546.3 1775L2544.8 1769.9L2543.3 1764.6L2541.8 1759.6L2540.3 1754.8L2538.8 1750L2537.3 1745.2L2535.8 1740.3L2534.3 1735.2L2532.8 1788.8L2531.3 1799.3L2529.8 1820L2528.3 1848.1L2526.8 1882.4L2525.3 1922.2L2523.7 1928.7L2522.2 1888L2520.7 1869.5L2519.2 1883.8L2517.7 1880.8L2516.2 1877.8L2514.7 1875L2513.2 1872.2L2511.7 1870.1L2510.2 1868.1L2508.7 1866L2507.2 1863.9L2505.7 1861.7L2504.2 1859.5L2502.7 1857.1L2501.1 1854.7L2499.6 1852.1L2498.1 1849.3L2496.6 1846L2495.1 1842.3L2493.6 1838.3L2492.1 1835.8L2490.6 1833.2Z" fill="#6399EE" fill-opacity="0.37"/><path d="M2490.6 1788.8L2492.1 1792.8L2493.6 1796.9L2495.1 1801L2496.6 1805.1L2498.1 1809.2L2499.6 1813.3L2501.1 1817.3L2502.7 1821.4L2504.2 1825.5L2505.7 1829.6L2507.2 1833.7L2508.7 1837.8L2510.2 1841.8L2511.7 1845.9L2513.2 1850L2514.7 1854.1L2516.2 1858.2L2517.7 1862.3L2519.2 1866.3L2520.7 1852.9L2522.2 1826L2523.7 1799.2L2525.3 1772.3L2526.8 1745.4L2528.3 1718.5L2529.8 1710.4L2531.3 1715.6L2532.8 1720.8L2534.3 1725.9L2535.8 1731.1L2537.3 1736.3L2538.8 1741.5L2540.3 1746.7L2541.8 1751.9L2543.3 1757.1L2544.8 1762.2L2546.3 1767.4L2547.9 1772.6L2549.4 1777.8L2550.9 1783L2552.4 1788.2L2553.9 1793.4L2555.4 1798.5L2556.9 1803.7L2558.4 1808.9L2559.9 1814.1L2561.4 1819.3L2562.9 1824.5L2564.4 1829.7L2565.9 1834.8L2567.4 1840L2568.9 1845.2L2570.5 1850.4L2572 1855.6L2573.5 1860.8L2575 1865.9L2576.5 1861.4L2578 1815.1L2579.5 1768.8L2581 1722.5L2582.5 1699.6L2584 1704.8L2585.5 1710.1L2587 1715.3L2588.5 1720.6L2590 1725.9L2591.5 1731.1L2593.1 1736.4L2594.6 1741.6L2596.1 1746.9L2597.6 1752.1L2599.1 1757.4L2600.6 1762.7L2602.1 1767.9L2603.6 1773.2L2605.1 1778.4L2606.6 1783.7L2608.1 1789L2609.6 1794.2L2611.1 1799.5L2612.6 1804.7L2614.1 1810L2615.7 1815.3L2617.2 1820.5L2618.7 1825.8L2620.2 1831L2621.7 1836.3L2623.2 1841.6L2624.7 1846.8L2626.2 1852.1L2627.7 1857.3L2629.2 1862.6L2630.7 1867.8L2632.2 1849.2L2633.7 1812L2635.2 1774.8L2636.7 1737.6L2638.3 1703.7L2639.8 1708.9L2641.3 1714.1L2642.8 1719.3L2644.3 1724.5L2645.8 1729.7L2647.3 1734.9L2648.8 1740.1L2650.3 1745.3L2651.8 1750.5L2653.3 1755.7L2654.8 1760.9L2656.3 1766.1L2657.8 1771.2L2659.3 1776.4L2660.9 1781.6L2662.4 1786.8L2663.9 1792L2665.4 1797.2L2666.9 1802.4L2668.4 1807.6L2669.9 1812.8L2671.4 1818L2672.9 1823.2L2674.4 1828.4L2675.9 1833.6L2677.4 1838.8L2678.9 1844L2680.4 1849.2L2681.9 1854.4L2683.5 1859.6L2685 1864.8L2686.5 1870L2688 1867.1L2689.5 1829L2691 1790.8L2692.5 1752.7L2694 1714.6L2695.5 1707.1L2697 1712.5L2698.5 1717.9L2700 1723.3L2701.5 1728.7L2703 1734.2L2704.5 1739.6L2706.1 1745L2707.6 1750.4L2709.1 1755.8L2710.6 1761.2L2712.1 1766.6L2713.6 1772L2715.1 1777.5L2716.6 1782.9L2718.1 1788.3L2719.6 1793.7L2721.1 1799.1L2722.6 1804.5L2724.1 1809.9L2725.6 1815.4L2727.2 1820.8L2728.7 1826.2L2730.2 1831.6L2731.7 1837L2733.2 1842.4L2734.7 1847.8L2736.2 1853.3L2737.7 1858.7L2739.2 1864.1L2740.7 1869.5L2742.2 1874.9L2743.7 1880.3L2745.2 1848.3L2746.7 1807.7L2748.2 1767.1L2749.8 1726.5L2751.3 1700.9L2752.8 1706.1L2754.3 1711.3L2755.8 1716.5L2757.3 1721.7L2758.8 1726.9L2760.3 1732.1L2761.8 1737.3L2763.3 1742.5L2764.8 1747.7L2766.3 1752.9L2767.8 1758.1L2769.3 1763.3L2770.8 1768.5L2772.4 1773.7L2773.9 1778.9L2775.4 1784.1L2776.9 1789.3L2778.4 1794.5L2779.9 1799.7L2781.4 1804.9L2782.9 1810.1L2784.4 1815.3L2785.9 1820.5L2787.4 1825.6L2788.9 1830.8L2790.4 1836L2791.9 1841.2L2793.4 1846.4L2795 1851.6L2796.5 1856.8L2798 1862L2799.5 1867.2L2801 1854.3L2802.5 1818L2804 1781.7L2805.5 1745.4L2807 1709.1L2808.5 1712.3L2810 1717.6L2811.5 1722.8L2813 1728.1L2814.5 1733.3L2816 1738.6L2817.6 1743.8L2819.1 1749.1L2820.6 1754.3L2822.1 1759.6L2823.6 1764.8L2825.1 1770L2826.6 1775.3L2828.1 1780.5L2829.6 1785.8L2831.1 1791L2832.6 1796.3L2834.1 1801.5L2835.6 1806.8L2837.1 1812L2838.6 1817.3L2840.2 1822.5L2841.7 1827.7L2843.2 1833L2844.7 1838.2L2846.2 1843.5L2847.7 1848.7L2849.2 1854L2850.7 1859.2L2852.2 1864.5L2853.7 1860.1L2855.2 1833.9L2856.7 1807.7L2858.2 1781.5L2859.7 1755.3L2861.2 1729.1L2862.8 1712.9L2864.3 1717.6L2865.8 1722.3L2867.3 1727L2868.8 1731.7L2870.3 1736.4L2871.8 1741.1L2873.3 1745.8L2874.8 1750.5L2876.3 1755.2L2877.8 1759.9L2879.3 1764.6L2880.8 1769.3L2882.3 1774L2883.8 1778.7L2885.4 1783.4L2886.9 1788.1L2888.4 1792.8L2889.9 1797.5L2891.4 1802.2L2892.9 1806.9L2894.4 1811.6L2895.9 1816.3L2897.4 1821L2898.9 1825.7L2900.4 1830.4L2901.9 1835.1L2903.4 1839.8L2904.9 1844.5L2906.4 1849.2L2908 1853.9L2909.5 1858.6L2911 1836L2912.5 1811.3L2914 1786.7L2915.5 1762L2917 1737.3L2918.5 1712.7L2920 1716.1L2921.5 1721L2923 1725.9L2924.5 1730.8L2926 1735.7L2927.5 1740.6L2929 1745.5L2930.6 1750.4L2932.1 1755.3L2933.6 1760.2L2935.1 1765.1L2936.6 1770L2938.1 1774.9L2939.6 1779.8L2941.1 1784.7" stroke="#6FA3F0" stroke-width="2.3" stroke-dasharray="7.4 3.2" fill="none" stroke-linejoin="round"/></g><path d="M2490.6 1566.1V1992.2H2941.1M2490.6 1992.2v5M2603.2 1992.2v5M2715.8 1992.2v5M2828.5 1992.2v5M2941.1 1992.2v5M2490.6 1992.2h-5M2490.6 1941.4h-5M2490.6 1890.5h-5M2490.6 1839.6h-5M2490.6 1788.8h-5M2490.6 1737.9h-5M2490.6 1687h-5M2490.6 1636.1h-5M2490.6 1585.2h-5" stroke="#000" stroke-width="1.3" fill="none"/><g transform="translate(2479.69,2014.55)"><text font-family="'Liberation Serif', serif" font-size="20.5" fill="#000"><tspan x="0" y="0">−2</tspan></text></g><g transform="translate(2592.32,2014.55)"><text font-family="'Liberation Serif', serif" font-size="20.5" fill="#000"><tspan x="0" y="0">−1</tspan></text></g><g transform="translate(2710.72,2014.55)"><text font-family="'Liberation Serif', serif" font-size="20.5" fill="#000"><tspan x="0" y="0">0</tspan></text></g><g transform="translate(2823.35,2014.55)"><text font-family="'Liberation Serif', serif" font-size="20.5" fill="#000"><tspan x="0" y="0">1</tspan></text></g><g transform="translate(2935.97,2014.55)"><text font-family="'Liberation Serif', serif" font-size="20.5" fill="#000"><tspan x="0" y="0">2</tspan></text></g><g transform="translate(2434.66,1999.05)"><text font-family="'Liberation Serif', serif" font-size="20.5" fill="#000"><tspan x="0" y="0">−0.50</tspan></text></g><g transform="translate(2434.66,1948.17)"><text font-family="'Liberation Serif', serif" font-size="20.5" fill="#000"><tspan x="0" y="0">−0.25</tspan></text></g><g transform="translate(2446.22,1897.3)"><text font-family="'Liberation Serif', serif" font-size="20.5" fill="#000"><tspan x="0" y="0">0.00</tspan></text></g><g transform="translate(2446.22,1846.42)"><text font-family="'Liberation Serif', serif" font-size="20.5" fill="#000"><tspan x="0" y="0">0.25</tspan></text></g><g transform="translate(2446.22,1795.55)"><text font-family="'Liberation Serif', serif" font-size="20.5" fill="#000"><tspan x="0" y="0">0.50</tspan></text></g><g transform="translate(2446.22,1744.67)"><text font-family="'Liberation Serif', serif" font-size="20.5" fill="#000"><tspan x="0" y="0">0.75</tspan></text></g><g transform="translate(2446.22,1693.8)"><text font-family="'Liberation Serif', serif" font-size="20.5" fill="#000"><tspan x="0" y="0">1.00</tspan></text></g><g transform="translate(2446.22,1642.93)"><text font-family="'Liberation Serif', serif" font-size="20.5" fill="#000"><tspan x="0" y="0">1.25</tspan></text></g><g transform="translate(2446.22,1592.05)"><text font-family="'Liberation Serif', serif" font-size="20.5" fill="#000"><tspan x="0" y="0">1.50</tspan></text></g><g transform="translate(2710.08,2040)"><text font-family="'Liberation Serif', serif" font-style="italic" font-size="26" fill="#000"><tspan x="0" y="0">x</tspan></text></g><path d="M2914.1 1761.4l4.9 8.8h-9.8zM2923.3 1715.7l4.9 8.8h-9.8zM2806.2 1706.9l4.9 8.8h-9.8zM2920.9 1720.3l4.9 8.8h-9.8zM2569.4 1893l4.9 8.8h-9.8zM2876.5 1775.1l4.9 8.8h-9.8zM2769.1 1775l4.9 8.8h-9.8zM2623.7 1848.6l4.9 8.8h-9.8zM2759.3 1744.3l4.9 8.8h-9.8zM2539.8 1706.9l4.9 8.8h-9.8zM2847.4 1846.2l4.9 8.8h-9.8zM2779.8 1768l4.9 8.8h-9.8zM2538.8 1743.5l4.9 8.8h-9.8zM2589.6 1685.6l4.9 8.8h-9.8zM2622 1857l4.9 8.8h-9.8zM2704 1720.5l4.9 8.8h-9.8zM2594.5 1763.6l4.9 8.8h-9.8zM2624.7 1832.8l4.9 8.8h-9.8zM2739 1826.3l4.9 8.8h-9.8zM2556.8 1831.8l4.9 8.8h-9.8zM2830 1799.9l4.9 8.8h-9.8zM2693.6 1715.4l4.9 8.8h-9.8zM2674 1825.9l4.9 8.8h-9.8zM2749 1771l4.9 8.8h-9.8zM2561.6 1791.6l4.9 8.8h-9.8zM2892.2 1798.9l4.9 8.8h-9.8zM2542.5 1722.9l4.9 8.8h-9.8zM2737.1 1845.1l4.9 8.8h-9.8zM2925.3 1751.9l4.9 8.8h-9.8zM2553.3 1796.3l4.9 8.8h-9.8zM2805.4 1714.4l4.9 8.8h-9.8zM2929.9 1771.6l4.9 8.8h-9.8zM2939.2 1783.1l4.9 8.8h-9.8zM2647.3 1717.6l4.9 8.8h-9.8zM2772.5 1748.7l4.9 8.8h-9.8zM2915.1 1745.9l4.9 8.8h-9.8z" fill="#3A7A22"/><path d="M2802 1839.4l4.9 8.8h-9.8zM2924.6 1762.3l4.9 8.8h-9.8zM2751.8 1636l4.9 8.8h-9.8zM2690.4 1788.6l4.9 8.8h-9.8zM2732.4 1851.6l4.9 8.8h-9.8zM2492.7 1764.8l4.9 8.8h-9.8zM2493.6 1795.5l4.9 8.8h-9.8zM2713 1740.8l4.9 8.8h-9.8zM2660.3 1721l4.9 8.8h-9.8zM2551.4 1790.7l4.9 8.8h-9.8zM2650.2 1719.2l4.9 8.8h-9.8zM2779.6 1774.2l4.9 8.8h-9.8zM2726.1 1766l4.9 8.8h-9.8zM2669.2 1781.3l4.9 8.8h-9.8zM2837.5 1807.1l4.9 8.8h-9.8zM2514.6 1875.2l4.9 8.8h-9.8zM2889.8 1780.4l4.9 8.8h-9.8zM2796.5 1894.8l4.9 8.8h-9.8zM2679.6 1814.7l4.9 8.8h-9.8zM2802.2 1816.9l4.9 8.8h-9.8zM2913.7 1763.5l4.9 8.8h-9.8zM2785.6 1835.7l4.9 8.8h-9.8zM2791.7 1868.1l4.9 8.8h-9.8zM2806.9 1744l4.9 8.8h-9.8zM2903.1 1788.9l4.9 8.8h-9.8zM2891.2 1805.8l4.9 8.8h-9.8zM2616.5 1822.5l4.9 8.8h-9.8zM2500.7 1884.1l4.9 8.8h-9.8zM2615.8 1813l4.9 8.8h-9.8zM2654.6 1896l4.9 8.8h-9.8zM2602.1 1707.5l4.9 8.8h-9.8zM2696.6 1716l4.9 8.8h-9.8zM2913.2 1794.3l4.9 8.8h-9.8zM2575.9 1916.4l4.9 8.8h-9.8zM2662.5 1826.9l4.9 8.8h-9.8zM2865.9 1693.2l4.9 8.8h-9.8z" fill="#C0282B"/><path d="M2903.7 1844l7 7m0 -7l-7 7M2619.4 1843.7l7 7m0 -7l-7 7M2774.7 1791.7l7 7m0 -7l-7 7M2831.8 1808.5l7 7m0 -7l-7 7M2533.6 1730.9l7 7m0 -7l-7 7M2570 1855.4l7 7m0 -7l-7 7M2679.3 1859.5l7 7m0 -7l-7 7M2648.6 1751.5l7 7m0 -7l-7 7M2629.4 1831.4l7 7m0 -7l-7 7M2608.8 1790.3l7 7m0 -7l-7 7M2649.5 1751.5l7 7m0 -7l-7 7M2929.3 1753.7l7 7m0 -7l-7 7M2693.6 1708l7 7m0 -7l-7 7M2693.4 1707.3l7 7m0 -7l-7 7M2600 1770.1l7 7m0 -7l-7 7M2572.6 1864.6l7 7m0 -7l-7 7M2603.1 1782.8l7 7m0 -7l-7 7M2886.1 1786.5l7 7m0 -7l-7 7M2886.4 1792.9l7 7m0 -7l-7 7M2564 1838.3l7 7m0 -7l-7 7M2665.8 1812.7l7 7m0 -7l-7 7M2748.6 1700.5l7 7m0 -7l-7 7M2736.4 1863.1l7 7m0 -7l-7 7M2577.8 1716.6l7 7m0 -7l-7 7M2514.9 1857l7 7m0 -7l-7 7M2846 1853.9l7 7m0 -7l-7 7M2545.6 1774.1l7 7m0 -7l-7 7M2666.2 1805.1l7 7m0 -7l-7 7M2830.5 1796.7l7 7m0 -7l-7 7M2795.8 1858.7l7 7m0 -7l-7 7M2671.1 1826.4l7 7m0 -7l-7 7M2847.2 1857.4l7 7m0 -7l-7 7M2934.6 1769.4l7 7m0 -7l-7 7M2703.3 1743.4l7 7m0 -7l-7 7M2885.8 1787.4l7 7m0 -7l-7 7M2721.8 1808.8l7 7m0 -7l-7 7M2662 1794.3l7 7m0 -7l-7 7M2932.9 1764l7 7m0 -7l-7 7M2834.9 1810.2l7 7m0 -7l-7 7M2548.1 1786.6l7 7m0 -7l-7 7M2730.9 1843.8l7 7m0 -7l-7 7M2657.9 1781.5l7 7m0 -7l-7 7M2710.3 1764.5l7 7m0 -7l-7 7M2827.5 1789.2l7 7m0 -7l-7 7" stroke="#E1812C" stroke-width="2.1" fill="none"/><g fill="#0A0AE6"><circle cx="2704.6" cy="1737.9" r="4.2"/><circle cx="2760.9" cy="1737.9" r="4.2"/></g><path d="M2972.1 1992.2V1566.1M3085 1992.2V1566.1M3197.9 1992.2V1566.1M3310.9 1992.2V1566.1M3423.8 1992.2V1566.1M2972.1 1992.2H3423.8M2972.1 1941.4H3423.8M2972.1 1890.5H3423.8M2972.1 1839.6H3423.8M2972.1 1788.8H3423.8M2972.1 1737.9H3423.8M2972.1 1687H3423.8M2972.1 1636.1H3423.8M2972.1 1585.2H3423.8" stroke="#e3e3e3" stroke-width="1.3" fill="none"/><clipPath id="f4c1"><rect x="2972.1" y="1566.1" width="451.7" height="426.1"/></clipPath><g clip-path="url(#f4c1)"><path d="M2972.1 1720.3L2973.6 1722L2975.1 1723.9L2976.6 1726L2978.1 1728L2979.7 1730L2981.2 1732.3L2982.7 1735.2L2984.2 1739.5L2985.7 1745.1L2987.2 1751.2L2988.7 1757.1L2990.2 1762.9L2991.7 1768.8L2993.2 1774.9L2994.8 1781.3L2996.3 1786.9L2997.8 1778.1L2999.3 1762.2L3000.8 1741.5L3002.3 1716.6L3003.8 1687.9L3005.3 1655.8L3006.8 1620.4L3008.4 1588.4L3009.9 1626.3L3011.4 1661.1L3012.9 1685.3L3014.4 1689.1L3015.9 1693.1L3017.4 1697.6L3018.9 1702.6L3020.4 1707.8L3022 1712.7L3023.5 1716.8L3025 1720.2L3026.5 1722.9L3028 1724.9L3029.5 1726.7L3031 1728.5L3032.5 1730.7L3034 1733.6L3035.5 1737.2L3037.1 1741.5L3038.6 1746.2L3040.1 1751.1L3041.6 1755.9L3043.1 1760.7L3044.6 1765.3L3046.1 1769.9L3047.6 1774.4L3049.1 1778.6L3050.7 1782.7L3052.2 1778.9L3053.7 1765.7L3055.2 1748.7L3056.7 1728.4L3058.2 1705.1L3059.7 1679.1L3061.2 1650.5L3062.7 1632.2L3064.3 1662.3L3065.8 1661L3067.3 1654.2L3068.8 1655.5L3070.3 1659.1L3071.8 1663.3L3073.3 1668.3L3074.8 1674.7L3076.3 1682L3077.8 1689.9L3079.4 1697.8L3080.9 1705.3L3082.4 1712.2L3083.9 1718.5L3085.4 1724L3086.9 1729.1L3088.4 1733.9L3089.9 1738.6L3091.4 1743.5L3093 1748.5L3094.5 1753.9L3096 1759.5L3097.5 1765.4L3099 1771.4L3100.5 1777.4L3102 1783.2L3103.5 1788.5L3105 1793.2L3106.6 1788.7L3108.1 1782.7L3109.6 1771.1L3111.1 1755.5L3112.6 1736.4L3114.1 1714.2L3115.6 1689.2L3117.1 1661.5L3118.6 1631.5L3120.1 1651.3L3121.7 1679.8L3123.2 1672.1L3124.7 1671.2L3126.2 1674.1L3127.7 1677.7L3129.2 1681.5L3130.7 1685.2L3132.2 1688.4L3133.7 1690.5L3135.3 1691.8L3136.8 1692.9L3138.3 1694.1L3139.8 1695.4L3141.3 1697.7L3142.8 1701.7L3144.3 1707L3145.8 1712.5L3147.3 1718L3148.9 1723.7L3150.4 1729.6L3151.9 1736L3153.4 1742.7L3154.9 1749.7L3156.4 1757L3157.9 1764.4L3159.4 1771.9L3160.9 1779.6L3162.4 1787.5L3164 1785.8L3165.5 1776L3167 1761.8L3168.5 1743.9L3170 1722.8L3171.5 1698.9L3173 1672.2L3174.5 1643L3176 1640L3177.6 1669.4L3179.1 1683.5L3180.6 1682.6L3182.1 1682.9L3183.6 1683.2L3185.1 1683.5L3186.6 1684.8L3188.1 1687.8L3189.6 1692.3L3191.2 1697.5L3192.7 1703.1L3194.2 1708.9L3195.7 1714.6L3197.2 1720L3198.7 1725.1L3200.2 1729.8L3201.7 1734.2L3203.2 1738.5L3204.7 1742.6L3206.3 1746.6L3207.8 1750.2L3209.3 1753.6L3210.8 1756.8L3212.3 1760.2L3213.8 1764L3215.3 1768.6L3216.8 1774L3218.3 1779.9L3219.9 1772.7L3221.4 1756.2L3222.9 1735.7L3224.4 1711.5L3225.9 1684.2L3227.4 1653.8L3228.9 1620.7L3230.4 1625.5L3231.9 1658.3L3233.5 1682.2L3235 1663.5L3236.5 1656.5L3238 1657.9L3239.5 1662.2L3241 1667.3L3242.5 1673L3244 1679.9L3245.5 1687.7L3247 1695.8L3248.6 1704L3250.1 1711.9L3251.6 1719.5L3253.1 1726.5L3254.6 1732.9L3256.1 1738.5L3257.6 1743.4L3259.1 1747.8L3260.6 1751.7L3262.2 1755.5L3263.7 1759.5L3265.2 1763.8L3266.7 1768.5L3268.2 1773.5L3269.7 1778.8L3271.2 1783.9L3272.7 1788.9L3274.2 1787.1L3275.8 1777.1L3277.3 1761.5L3278.8 1741.3L3280.3 1717.2L3281.8 1689.6L3283.3 1658.7L3284.8 1624.8L3286.3 1602.7L3287.8 1638.4L3289.3 1660L3290.9 1659.8L3292.4 1663.3L3293.9 1667.8L3295.4 1672.8L3296.9 1678.3L3298.4 1684L3299.9 1689.9L3301.4 1695.7L3302.9 1701.3L3304.5 1706.5L3306 1711.4L3307.5 1716.3L3309 1721.2L3310.5 1726.3L3312 1731.5L3313.5 1736.8L3315 1742L3316.5 1747.1L3318.1 1752.2L3319.6 1757.6L3321.1 1763.4L3322.6 1769.7L3324.1 1776.4L3325.6 1783L3327.1 1787.6L3328.6 1788L3330.1 1784L3331.6 1777.9L3333.2 1771.2L3334.7 1764.4L3336.2 1757.7L3337.7 1751L3339.2 1744.2L3340.7 1729.1L3342.2 1711L3343.7 1691.2L3345.2 1683.8L3346.8 1704.3L3348.3 1700.6L3349.8 1692.8L3351.3 1685.9L3352.8 1681.9L3354.3 1682L3355.8 1684.7L3357.3 1688.3L3358.8 1692.3L3360.4 1696.8L3361.9 1701.8L3363.4 1707.3L3364.9 1713.5L3366.4 1720.1L3367.9 1726.9L3369.4 1733.5L3370.9 1739.3L3372.4 1744.1L3373.9 1747.6L3375.5 1750.5L3377 1753L3378.5 1755.7L3380 1758.9L3381.5 1762.8L3383 1767.4L3384.5 1772.7L3386 1771L3387.5 1754L3389.1 1733L3390.6 1708.5L3392.1 1680.8L3393.6 1650.1L3395.1 1616.6L3396.6 1629.5L3398.1 1661.9L3399.6 1691.5L3401.1 1691.4L3402.7 1689.7L3404.2 1691.4L3405.7 1693.8L3407.2 1696.1L3408.7 1698.8L3410.2 1701.9L3411.7 1705.9L3413.2 1711.1L3414.7 1717.6L3416.2 1724.8L3417.8 1732.5L3419.3 1740.2L3420.8 1747.7L3422.3 1754.5L3423.8 1759.3L3423.8 1840.4L3422.3 1837.3L3420.8 1833.4L3419.3 1829.6L3417.8 1826L3416.2 1822.3L3414.7 1818.3L3413.2 1814.1L3411.7 1809.9L3410.2 1805.6L3408.7 1800.9L3407.2 1795.9L3405.7 1801.2L3404.2 1816.6L3402.7 1836.2L3401.1 1859.4L3399.6 1886L3398.1 1915.6L3396.6 1948L3395.1 1960.9L3393.6 1927.4L3392.1 1896.7L3390.6 1879.6L3389.1 1893.4L3387.5 1902.4L3386 1904L3384.5 1901L3383 1896.4L3381.5 1891.1L3380 1884.9L3378.5 1878L3377 1870.7L3375.5 1863.1L3373.9 1855.8L3372.4 1849.4L3370.9 1844.1L3369.4 1840.1L3367.9 1837.1L3366.4 1834.9L3364.9 1833L3363.4 1830.8L3361.9 1828.1L3360.4 1824.7L3358.8 1820.8L3357.3 1816.5L3355.8 1811.8L3354.3 1807.1L3352.8 1807.9L3351.3 1819.6L3349.8 1833.2L3348.3 1848.5L3346.8 1865.6L3345.2 1884.1L3343.7 1877.5L3342.2 1859.4L3340.7 1843L3339.2 1834.8L3337.7 1841.4L3336.2 1848.3L3334.7 1855.3L3333.2 1862.1L3331.6 1868.9L3330.1 1875.8L3328.6 1881.5L3327.1 1884.2L3325.6 1883.5L3324.1 1881.2L3322.6 1878.3L3321.1 1874.9L3319.6 1870.9L3318.1 1866.5L3316.5 1861.8L3315 1857.2L3313.5 1852.6L3312 1848.1L3310.5 1843.5L3309 1838.8L3307.5 1833.9L3306 1828.9L3304.5 1824L3302.9 1819.5L3301.4 1815.3L3299.9 1811.6L3298.4 1808.3L3296.9 1805L3295.4 1810.4L3293.9 1829.9L3292.4 1853.7L3290.9 1881.4L3289.3 1912.6L3287.8 1947L3286.3 1984.6L3284.8 1961.3L3283.3 1925.6L3281.8 1893.1L3280.3 1909.4L3278.8 1921.5L3277.3 1922.2L3275.8 1916.8L3274.2 1909.8L3272.7 1902.7L3271.2 1895.8L3269.7 1889L3268.2 1882.3L3266.7 1875.3L3265.2 1868.1L3263.7 1860.4L3262.2 1852.3L3260.6 1844.1L3259.1 1836L3257.6 1828.4L3256.1 1821.3L3254.6 1815L3253.1 1809.5L3251.6 1804.7L3250.1 1800.4L3248.6 1796.6L3247 1792.9L3245.5 1789.4L3244 1786.3L3242.5 1784L3241 1792.3L3239.5 1804.4L3238 1822L3236.5 1844.3L3235 1870.6L3233.5 1900.5L3231.9 1933.7L3230.4 1970.2L3228.9 1975.5L3227.4 1938.7L3225.9 1930.3L3224.4 1933.3L3222.9 1929.7L3221.4 1924.8L3219.9 1920L3218.3 1915.4L3216.8 1910.4L3215.3 1904.9L3213.8 1898.5L3212.3 1891.4L3210.8 1883.8L3209.3 1876L3207.8 1868.4L3206.3 1861.1L3204.7 1854L3203.2 1847.2L3201.7 1840.5L3200.2 1834.1L3198.7 1827.8L3197.2 1821.9L3195.7 1816.5L3194.2 1811.3L3192.7 1806.3L3191.2 1801L3189.6 1795.4L3188.1 1789.3L3186.6 1792.9L3185.1 1804.5L3183.6 1820.9L3182.1 1841.4L3180.6 1865.4L3179.1 1892.7L3177.6 1923L3176 1956.1L3174.5 1952.7L3173 1919.9L3171.5 1889.9L3170 1894.8L3168.5 1911.6L3167 1916.4L3165.5 1914L3164 1910.1L3162.4 1905.9L3160.9 1901.6L3159.4 1897.1L3157.9 1892.5L3156.4 1887.7L3154.9 1882.7L3153.4 1877.6L3151.9 1872.1L3150.4 1866.2L3148.9 1859.9L3147.3 1853.3L3145.8 1846.6L3144.3 1839.9L3142.8 1833.8L3141.3 1829.4L3139.8 1827.4L3138.3 1826.8L3136.8 1826.6L3135.3 1826.3L3133.7 1825.5L3132.2 1823.3L3130.7 1819.3L3129.2 1814L3127.7 1815.7L3126.2 1835.8L3124.7 1859.8L3123.2 1887.3L3121.7 1918.1L3120.1 1952L3118.6 1975.5L3117.1 1939.8L3115.6 1907L3114.1 1911.7L3112.6 1921L3111.1 1919.9L3109.6 1913.6L3108.1 1906.1L3106.6 1898.7L3105 1892L3103.5 1886.1L3102 1880.8L3100.5 1876.1L3099 1871.6L3097.5 1867L3096 1862.3L3094.5 1857.4L3093 1852.2L3091.4 1846.6L3089.9 1840.9L3088.4 1835L3086.9 1829.2L3085.4 1823.7L3083.9 1818.7L3082.4 1814.4L3080.9 1810.8L3079.4 1807.9L3077.8 1805.3L3076.3 1802.8L3074.8 1800.4L3073.3 1798.3L3071.8 1810.3L3070.3 1829.8L3068.8 1853.6L3067.3 1881.2L3065.8 1912.4L3064.3 1946.9L3062.7 1984.4L3061.2 1961.5L3059.7 1925.8L3058.2 1922.8L3056.7 1929.9L3055.2 1927.7L3053.7 1922.4L3052.2 1916.6L3050.7 1910.8L3049.1 1905.3L3047.6 1900L3046.1 1895L3044.6 1890L3043.1 1885.1L3041.6 1880.3L3040.1 1875.7L3038.6 1871L3037.1 1866.2L3035.5 1860.9L3034 1855L3032.5 1848.2L3031 1840.8L3029.5 1832.9L3028 1825L3026.5 1817.4L3025 1810.4L3023.5 1804.2L3022 1798.8L3020.4 1794.1L3018.9 1797.4L3017.4 1812.4L3015.9 1832.4L3014.4 1856.7L3012.9 1884.8L3011.4 1916.4L3009.9 1951.2L3008.4 1989.1L3006.8 1957.1L3005.3 1921.7L3003.8 1889.6L3002.3 1860.9L3000.8 1877.3L2999.3 1892.8L2997.8 1902.4L2996.3 1903.8L2994.8 1900.3L2993.2 1895.6L2991.7 1890.4L2990.2 1885L2988.7 1879.5L2987.2 1874.2L2985.7 1869.2L2984.2 1865.1L2982.7 1862.7L2981.2 1861.8L2979.7 1861.6L2978.1 1861.5L2976.6 1861.4L2975.1 1861.3L2973.6 1861.2L2972.1 1861.4Z" fill="#6399EE" fill-opacity="0.37"/><path d="M2972.1 1789.1L2973.6 1789.9L2975.1 1790.9L2976.6 1792L2978.1 1793.1L2979.7 1794.2L2981.2 1795.4L2982.7 1797.4L2984.2 1800.8L2985.7 1805.7L2987.2 1811.2L2988.7 1816.8L2990.2 1822.5L2991.7 1828.1L2993.2 1833.8L2994.8 1839.4L2996.3 1843.9L2997.8 1843.8L2999.3 1835.4L3000.8 1820.7L3002.3 1804L3003.8 1787.1L3005.3 1770.1L3006.8 1753.5L3008.4 1739.2L3009.9 1730.9L3011.4 1729.4L3012.9 1731.5L3014.4 1734.4L3015.9 1737.5L3017.4 1741L3018.9 1745.3L3020.4 1749.9L3022 1754.7L3023.5 1759.4L3025 1764.2L3026.5 1769L3028 1773.7L3029.5 1778.5L3031 1783.3L3032.5 1788L3034 1792.8L3035.5 1797.6L3037.1 1802.3L3038.6 1807.1L3040.1 1811.8L3041.6 1816.6L3043.1 1821.4L3044.6 1826.1L3046.1 1830.9L3047.6 1835.7L3049.1 1840.4L3050.7 1845.2L3052.2 1850L3053.7 1854.7L3055.2 1859L3056.7 1860.2L3058.2 1852.4L3059.7 1832.1L3061.2 1805L3062.7 1776.4L3064.3 1749.4L3065.8 1729.8L3067.3 1722.5L3068.8 1723.1L3070.3 1725.6L3071.8 1728.4L3073.3 1731.7L3074.8 1736L3076.3 1740.9L3077.8 1746.2L3079.4 1751.5L3080.9 1756.8L3082.4 1762.1L3083.9 1767.3L3085.4 1772.6L3086.9 1777.9L3088.4 1783.2L3089.9 1788.5L3091.4 1793.8L3093 1799.1L3094.5 1804.4L3096 1809.7L3097.5 1814.9L3099 1820.2L3100.5 1825.5L3102 1830.8L3103.5 1836.1L3105 1841.4L3106.6 1846.7L3108.1 1852L3109.6 1857.2L3111.1 1861.4L3112.6 1861L3114.1 1850.7L3115.6 1831.2L3117.1 1807.7L3118.6 1783.5L3120.1 1760.3L3121.7 1741.7L3123.2 1732.8L3124.7 1732.9L3126.2 1736.8L3127.7 1741.4L3129.2 1746.1L3130.7 1750.6L3132.2 1754.2L3133.7 1756.3L3135.3 1757.4L3136.8 1758.1L3138.3 1758.8L3139.8 1759.8L3141.3 1761.9L3142.8 1766.2L3144.3 1771.8L3145.8 1777.9L3147.3 1784L3148.9 1790.1L3150.4 1796.2L3151.9 1802.4L3153.4 1808.5L3154.9 1814.6L3156.4 1820.7L3157.9 1826.9L3159.4 1833L3160.9 1839.1L3162.4 1845.3L3164 1851.4L3165.5 1857.4L3167 1861.8L3168.5 1859.1L3170 1844.4L3171.5 1821.8L3173 1797.2L3174.5 1772.5L3176 1749.2L3177.6 1732L3179.1 1725.2L3180.6 1725.1L3182.1 1726.6L3183.6 1728.3L3185.1 1730.3L3186.6 1733.1L3188.1 1737.3L3189.6 1742.5L3191.2 1748L3192.7 1753.4L3194.2 1758.9L3195.7 1764.3L3197.2 1769.7L3198.7 1775.2L3200.2 1780.6L3201.7 1786.1L3203.2 1791.5L3204.7 1797L3206.3 1802.4L3207.8 1807.9L3209.3 1813.3L3210.8 1818.8L3212.3 1824.2L3213.8 1829.6L3215.3 1835.1L3216.8 1840.5L3218.3 1846L3219.9 1851.4L3221.4 1856.9L3222.9 1862.2L3224.4 1866.1L3225.9 1863.2L3227.4 1848.2L3228.9 1824.4L3230.4 1797.6L3231.9 1770.5L3233.5 1744.8L3235 1725.5L3236.5 1717.4L3238 1717.6L3239.5 1720.3L3241 1723.5L3242.5 1727.1L3244 1731.8L3245.5 1737.3L3247 1743.2L3248.6 1749.1L3250.1 1755.1L3251.6 1761L3253.1 1767L3254.6 1773L3256.1 1778.9L3257.6 1784.9L3259.1 1790.8L3260.6 1796.8L3262.2 1802.7L3263.7 1808.7L3265.2 1814.6L3266.7 1820.6L3268.2 1826.6L3269.7 1832.5L3271.2 1838.5L3272.7 1844.4L3274.2 1850.4L3275.8 1856.2L3277.3 1860.9L3278.8 1859.7L3280.3 1847.4L3281.8 1825.7L3283.3 1800.3L3284.8 1774.4L3286.3 1749.7L3287.8 1730.6L3289.3 1722.3L3290.9 1722.8L3292.4 1726.6L3293.9 1731.1L3295.4 1735.6L3296.9 1740.1L3298.4 1744.6L3299.9 1749.3L3301.4 1754.1L3302.9 1759L3304.5 1763.9L3306 1768.8L3307.5 1773.7L3309 1778.6L3310.5 1783.5L3312 1788.4L3313.5 1793.3L3315 1798.2L3316.5 1803.1L3318.1 1808L3319.6 1812.9L3321.1 1817.8L3322.6 1822.7L3324.1 1827.5L3325.6 1832L3327.1 1834.7L3328.6 1833.6L3330.1 1828.8L3331.6 1822.3L3333.2 1815.5L3334.7 1808.7L3336.2 1801.9L3337.7 1795.1L3339.2 1788.4L3340.7 1781.8L3342.2 1775.7L3343.7 1770.1L3345.2 1764.6L3346.8 1759.2L3348.3 1753.7L3349.8 1748.4L3351.3 1743.7L3352.8 1741.5L3354.3 1743L3355.8 1746.7L3357.3 1750.8L3358.8 1755L3360.4 1759.2L3361.9 1763.4L3363.4 1767.6L3364.9 1771.8L3366.4 1776.1L3367.9 1780.6L3369.4 1785.5L3370.9 1790.4L3372.4 1795.4L3373.9 1800.4L3375.5 1805.4L3377 1810.4L3378.5 1815.4L3380 1820.4L3381.5 1825.4L3383 1830.4L3384.5 1835.3L3386 1839.3L3387.5 1839.2L3389.1 1832.3L3390.6 1820.7L3392.1 1808L3393.6 1795L3395.1 1782.1L3396.6 1769.2L3398.1 1756.3L3399.6 1744.3L3401.1 1736.2L3402.7 1734.7L3404.2 1737.3L3405.7 1741L3407.2 1744.8L3408.7 1748.6L3410.2 1752.5L3411.7 1756.6L3413.2 1761.4L3414.7 1766.7L3416.2 1772.4L3417.8 1778.1L3419.3 1783.8L3420.8 1789.5L3422.3 1794.9L3423.8 1798.9" stroke="#6FA3F0" stroke-width="2.3" stroke-dasharray="7.4 3.2" fill="none" stroke-linejoin="round"/></g><path d="M2972.1 1596V1992.2H3423.8M2972.1 1992.2v5M3085 1992.2v5M3197.9 1992.2v5M3310.9 1992.2v5M3423.8 1992.2v5M2972.1 1992.2h-5M2972.1 1941.4h-5M2972.1 1890.5h-5M2972.1 1839.6h-5M2972.1 1788.8h-5M2972.1 1737.9h-5M2972.1 1687h-5M2972.1 1636.1h-5M2972.1 1585.2h-5" stroke="#000" stroke-width="1.3" fill="none"/><g transform="translate(2961.19,2014.55)"><text font-family="'Liberation Serif', serif" font-size="20.5" fill="#000"><tspan x="0" y="0">−2</tspan></text></g><g transform="translate(3074.12,2014.55)"><text font-family="'Liberation Serif', serif" font-size="20.5" fill="#000"><tspan x="0" y="0">−1</tspan></text></g><g transform="translate(3192.82,2014.55)"><text font-family="'Liberation Serif', serif" font-size="20.5" fill="#000"><tspan x="0" y="0">0</tspan></text></g><g transform="translate(3305.75,2014.55)"><text font-family="'Liberation Serif', serif" font-size="20.5" fill="#000"><tspan x="0" y="0">1</tspan></text></g><g transform="translate(3418.68,2014.55)"><text font-family="'Liberation Serif', serif" font-size="20.5" fill="#000"><tspan x="0" y="0">2</tspan></text></g><g transform="translate(3192.18,2040)"><text font-family="'Liberation Serif', serif" font-style="italic" font-size="26" fill="#000"><tspan x="0" y="0">x</tspan></text></g><path d="M3261.2 1839.6l4.9 8.8h-9.8zM3069.9 1731.5l4.9 8.8h-9.8zM3232.6 1723.8l4.9 8.8h-9.8zM3122.6 1671.3l4.9 8.8h-9.8zM3077 1838.5l4.9 8.8h-9.8zM3134.6 1758.7l4.9 8.8h-9.8zM3240.5 1737.1l4.9 8.8h-9.8zM3181.9 1726.6l4.9 8.8h-9.8zM3173.2 1781.8l4.9 8.8h-9.8zM3322.3 1852.8l4.9 8.8h-9.8zM3262.2 1853.9l4.9 8.8h-9.8zM3236.3 1671.7l4.9 8.8h-9.8zM3023.9 1725.1l4.9 8.8h-9.8zM2981.1 1808.5l4.9 8.8h-9.8zM3140.5 1761.6l4.9 8.8h-9.8zM3026.8 1794.6l4.9 8.8h-9.8zM3267.2 1877l4.9 8.8h-9.8zM3358.7 1723.4l4.9 8.8h-9.8zM3305.2 1789.8l4.9 8.8h-9.8zM3172.7 1845.3l4.9 8.8h-9.8zM3350 1768.4l4.9 8.8h-9.8zM3295.1 1662.2l4.9 8.8h-9.8zM3207.6 1784.5l4.9 8.8h-9.8zM3245.5 1723.1l4.9 8.8h-9.8zM3054.2 1848.1l4.9 8.8h-9.8zM2981.1 1755.4l4.9 8.8h-9.8zM3387.4 1804.6l4.9 8.8h-9.8zM3408.8 1799.1l4.9 8.8h-9.8zM3202 1792.9l4.9 8.8h-9.8zM3233.7 1764.2l4.9 8.8h-9.8zM3328.8 1820.2l4.9 8.8h-9.8zM3017 1738.5l4.9 8.8h-9.8zM3297.8 1821.8l4.9 8.8h-9.8zM3331.2 1772.6l4.9 8.8h-9.8zM3079.5 1737l4.9 8.8h-9.8zM3226.9 1921.3l4.9 8.8h-9.8z" fill="#C0282B"/><path d="M3208.4 1842.3h6.8v6.8h-6.8zM3356.7 1768.6h6.8v6.8h-6.8zM3194 1743.2h6.8v6.8h-6.8zM3409.1 1752.2h6.8v6.8h-6.8zM2991.8 1871.9h6.8v6.8h-6.8zM3243 1786.9h6.8v6.8h-6.8zM3160.4 1786.9h6.8v6.8h-6.8zM3106 1842.6h6.8v6.8h-6.8zM3188.9 1792.6h6.8v6.8h-6.8zM3419.2 1789.2h6.8v6.8h-6.8zM3148.4 1781.5h6.8v6.8h-6.8zM3393.4 1762.2h6.8v6.8h-6.8zM3209.1 1872.9h6.8v6.8h-6.8zM3145.8 1740.1h6.8v6.8h-6.8zM3001.4 1757.7h6.8v6.8h-6.8zM3008.8 1733.1h6.8v6.8h-6.8zM3359.4 1744.9h6.8v6.8h-6.8zM3029 1790.8h6.8v6.8h-6.8zM3099.1 1838.8h6.8v6.8h-6.8zM3135.7 1732.5h6.8v6.8h-6.8zM3000.5 1836.6h6.8v6.8h-6.8zM3061.2 1715.4h6.8v6.8h-6.8zM3070.3 1719.1h6.8v6.8h-6.8zM3161.6 1832h6.8v6.8h-6.8zM3030.6 1765h6.8v6.8h-6.8zM3244.2 1700.2h6.8v6.8h-6.8zM3179.9 1685.9h6.8v6.8h-6.8zM3281.5 1745.4h6.8v6.8h-6.8zM3059.6 1778.1h6.8v6.8h-6.8zM3078.1 1736.8h6.8v6.8h-6.8zM3175.4 1736h6.8v6.8h-6.8zM3149 1826.8h6.8v6.8h-6.8zM3115.5 1764.2h6.8v6.8h-6.8zM3031.7 1782.6h6.8v6.8h-6.8zM3193.8 1733.7h6.8v6.8h-6.8zM3136.8 1814.2h6.8v6.8h-6.8zM3139.9 1748h6.8v6.8h-6.8zM3328 1801.2h6.8v6.8h-6.8zM2992.6 1836h6.8v6.8h-6.8zM3055.1 1804.3h6.8v6.8h-6.8zM3400.8 1756.7h6.8v6.8h-6.8zM3125.4 1731.4h6.8v6.8h-6.8zM2996.9 1831.1h6.8v6.8h-6.8zM3072.6 1736.1h6.8v6.8h-6.8zM3002.4 1786.9h6.8v6.8h-6.8zM3409.6 1760h6.8v6.8h-6.8z" fill="#000"/><g fill="#0A0AE6"><circle cx="3186.7" cy="1737.9" r="4.2"/><circle cx="3243.1" cy="1737.9" r="4.2"/></g><path d="M3454.8 1992.2V1566.1M3567.5 1992.2V1566.1M3680.2 1992.2V1566.1M3792.9 1992.2V1566.1M3905.6 1992.2V1566.1M3454.8 1992.2H3905.6M3454.8 1941.4H3905.6M3454.8 1890.5H3905.6M3454.8 1839.6H3905.6M3454.8 1788.8H3905.6M3454.8 1737.9H3905.6M3454.8 1687H3905.6M3454.8 1636.1H3905.6M3454.8 1585.2H3905.6" stroke="#e3e3e3" stroke-width="1.3" fill="none"/><clipPath id="f4c2"><rect x="3454.8" y="1566.1" width="450.8" height="426.1"/></clipPath><g clip-path="url(#f4c2)"><path d="M3454.8 1684.2L3456.3 1680.6L3457.8 1676.9L3459.3 1672.1L3460.8 1666.6L3462.3 1662.9L3463.8 1664.8L3465.4 1667.6L3466.9 1670.8L3468.4 1673.6L3469.9 1675.7L3471.4 1678.2L3472.9 1682.8L3474.4 1688.9L3475.9 1693.7L3477.4 1695.3L3478.9 1688.3L3480.4 1684.4L3481.9 1681.5L3483.4 1676.5L3485 1670.1L3486.5 1664.3L3488 1657.6L3489.5 1649.3L3491 1644.9L3492.5 1652.8L3494 1659.5L3495.5 1664L3497 1669.4L3498.5 1678.6L3500 1687.5L3501.5 1693.9L3503 1697.8L3504.6 1702L3506.1 1705.8L3507.6 1703L3509.1 1698.3L3510.6 1690.7L3512.1 1683.1L3513.6 1677.2L3515.1 1670.5L3516.6 1662.9L3518.1 1657.1L3519.6 1653.6L3521.1 1650.1L3522.6 1645.4L3524.2 1649.6L3525.7 1656.1L3527.2 1662L3528.7 1668.2L3530.2 1674.4L3531.7 1679.5L3533.2 1685.3L3534.7 1691.3L3536.2 1697.3L3537.7 1698.3L3539.2 1699.6L3540.7 1701.8L3542.2 1702.6L3543.8 1707L3545.3 1711.7L3546.8 1710.7L3548.3 1711L3549.8 1715.9L3551.3 1720.4L3552.8 1724.2L3554.3 1727.7L3555.8 1727.9L3557.3 1721.3L3558.8 1713.7L3560.3 1704.8L3561.8 1699.1L3563.4 1698.4L3564.9 1694.3L3566.4 1684.6L3567.9 1674.3L3569.4 1667.6L3570.9 1663.4L3572.4 1657.5L3573.9 1648.2L3575.4 1639.4L3576.9 1652.3L3578.4 1664L3579.9 1674.2L3581.4 1686.4L3583 1697.7L3584.5 1707L3586 1719.1L3587.5 1732.6L3589 1743.6L3590.5 1753.7L3592 1765.2L3593.5 1753.2L3595 1735.5L3596.5 1720.9L3598 1708.1L3599.5 1691.9L3601 1673.4L3602.6 1654.5L3604.1 1635.9L3605.6 1633.6L3607.1 1643.9L3608.6 1653L3610.1 1659.2L3611.6 1664.1L3613.1 1669L3614.6 1676.5L3616.1 1684.8L3617.6 1692.8L3619.1 1694.9L3620.6 1691.6L3622.2 1686L3623.7 1679.3L3625.2 1673.5L3626.7 1669.7L3628.2 1667.2L3629.7 1666.2L3631.2 1673.9L3632.7 1680.7L3634.2 1687.8L3635.7 1696.3L3637.2 1703.8L3638.7 1709.9L3640.2 1717.3L3641.8 1726.4L3643.3 1735.2L3644.8 1743.4L3646.3 1749.6L3647.8 1737.2L3649.3 1727L3650.8 1719.2L3652.3 1708.2L3653.8 1695.6L3655.3 1685.1L3656.8 1673.7L3658.3 1661.1L3659.8 1650.7L3661.4 1643.9L3662.9 1650.3L3664.4 1657.5L3665.9 1663.6L3667.4 1669.1L3668.9 1675.6L3670.4 1682.4L3671.9 1683.5L3673.4 1680.2L3674.9 1678.1L3676.4 1678.9L3677.9 1680.5L3679.4 1680.5L3681 1684.3L3682.5 1691.7L3684 1698.7L3685.5 1706.8L3687 1717L3688.5 1726.8L3690 1735L3691.5 1743.8L3693 1751.4L3694.5 1754.4L3696 1757.1L3697.5 1761.6L3699 1762.8L3700.6 1761.9L3702.1 1762.9L3703.6 1765.9L3705.1 1770.8L3706.6 1776.4L3708.1 1779.1L3709.6 1773.4L3711.1 1765L3712.6 1755.4L3714.1 1745.2L3715.6 1736.1L3717.1 1729.4L3718.6 1723.9L3720.2 1717L3721.7 1709.2L3723.2 1704.4L3724.7 1699.9L3726.2 1691.7L3727.7 1683.3L3729.2 1676.3L3730.7 1667.2L3732.2 1658.4L3733.7 1659.3L3735.2 1671.4L3736.7 1683.1L3738.2 1694.9L3739.8 1706L3741.3 1716.5L3742.8 1726.2L3744.3 1735.1L3745.8 1743.5L3747.3 1753.5L3748.8 1753.4L3750.3 1747.6L3751.8 1739.2L3753.3 1729.8L3754.8 1722.5L3756.3 1716.7L3757.8 1709.6L3759.4 1701.9L3760.9 1694.9L3762.4 1687.3L3763.9 1680.4L3765.4 1675.7L3766.9 1669.5L3768.4 1660.2L3769.9 1651.9L3771.4 1651L3772.9 1650.1L3774.4 1650.8L3775.9 1654.1L3777.4 1657.3L3779 1657.2L3780.5 1655.3L3782 1656.7L3783.5 1661.8L3785 1666.8L3786.5 1668.8L3788 1672.2L3789.5 1679.9L3791 1686.6L3792.5 1690.2L3794 1694.6L3795.5 1700.6L3797 1705.2L3798.6 1709.6L3800.1 1715.1L3801.6 1720L3803.1 1724.4L3804.6 1730.9L3806.1 1737L3807.6 1731.3L3809.1 1724.7L3810.6 1720.5L3812.1 1716.7L3813.6 1713.6L3815.1 1709.2L3816.6 1700.2L3818.2 1690.6L3819.7 1685L3821.2 1683L3822.7 1680.2L3824.2 1672.7L3825.7 1662.7L3827.2 1658.3L3828.7 1663.2L3830.2 1665.7L3831.7 1666.9L3833.2 1670.7L3834.7 1677.7L3836.2 1683.4L3837.8 1683.9L3839.3 1684.8L3840.8 1688.8L3842.3 1694L3843.8 1696.5L3845.3 1698L3846.8 1702.5L3848.3 1707.9L3849.8 1711.7L3851.3 1715.5L3852.8 1721.3L3854.3 1724.7L3855.8 1726.2L3857.4 1728.4L3858.9 1727.2L3860.4 1720.9L3861.9 1715.7L3863.4 1712.3L3864.9 1708.5L3866.4 1704.2L3867.9 1699.1L3869.4 1691.8L3870.9 1685.1L3872.4 1677.3L3873.9 1670L3875.4 1665.8L3877 1663.8L3878.5 1662.3L3880 1658L3881.5 1649.6L3883 1641L3884.5 1642.9L3886 1647.7L3887.5 1652.6L3889 1657.1L3890.5 1661.2L3892 1666.1L3893.5 1672.1L3895 1677.6L3896.6 1679.8L3898.1 1679.7L3899.6 1680.9L3901.1 1685.7L3902.6 1690L3904.1 1691.4L3905.6 1694.4L3905.6 1918L3904.1 1917.1L3902.6 1914.4L3901.1 1910L3899.6 1905.8L3898.1 1903.7L3896.6 1903.4L3895 1901.4L3893.5 1898.3L3892 1896.1L3890.5 1894.1L3889 1890.5L3887.5 1891.3L3886 1894.5L3884.5 1899.4L3883 1905.6L3881.5 1911.1L3880 1913.9L3878.5 1916.2L3877 1919.7L3875.4 1922.3L3873.9 1924.7L3872.4 1928.1L3870.9 1930L3869.4 1929.8L3867.9 1929L3866.4 1931.1L3864.9 1935.1L3863.4 1937L3861.9 1937.1L3860.4 1936.3L3858.9 1933.8L3857.4 1933.1L3855.8 1935.3L3854.3 1934.9L3852.8 1929.2L3851.3 1922.6L3849.8 1913.8L3848.3 1903.8L3846.8 1894.1L3845.3 1884.1L3843.8 1874.1L3842.3 1862.9L3840.8 1852.5L3839.3 1846.3L3837.8 1841L3836.2 1845.6L3834.7 1851.9L3833.2 1858.1L3831.7 1863.5L3830.2 1868.2L3828.7 1871.9L3827.2 1877.2L3825.7 1884.2L3824.2 1891.5L3822.7 1897L3821.2 1901.2L3819.7 1904.9L3818.2 1909.7L3816.6 1918.4L3815.1 1925.8L3813.6 1925.7L3812.1 1924.6L3810.6 1924.1L3809.1 1924.7L3807.6 1925.3L3806.1 1926L3804.6 1927.9L3803.1 1929.5L3801.6 1930.7L3800.1 1932.2L3798.6 1932.6L3797 1923.6L3795.5 1917.4L3794 1911.6L3792.5 1903.5L3791 1893.1L3789.5 1883.7L3788 1875.4L3786.5 1866.1L3785 1854.3L3783.5 1842.2L3782 1832.6L3780.5 1842.7L3779 1857.6L3777.4 1872.7L3775.9 1888.7L3774.4 1904.1L3772.9 1918.7L3771.4 1935.1L3769.9 1945.9L3768.4 1942L3766.9 1939L3765.4 1939.4L3763.9 1941L3762.4 1940.3L3760.9 1935.4L3759.4 1930.1L3757.8 1926.9L3756.3 1926.9L3754.8 1929.8L3753.3 1931L3751.8 1930.7L3750.3 1931.4L3748.8 1932.5L3747.3 1932L3745.8 1933L3744.3 1937.5L3742.8 1941.6L3741.3 1943.6L3739.8 1945.1L3738.2 1945.8L3736.7 1944.4L3735.2 1930L3733.7 1915.4L3732.2 1900.8L3730.7 1885.5L3729.2 1870.4L3727.7 1856L3726.2 1842.6L3724.7 1836.6L3723.2 1843L3721.7 1851.5L3720.2 1858.1L3718.6 1861L3717.1 1864.1L3715.6 1871.1L3714.1 1877L3712.6 1882.9L3711.1 1891.2L3709.6 1901.7L3708.1 1910.5L3706.6 1915.1L3705.1 1917.7L3703.6 1922.6L3702.1 1926.3L3700.6 1926.3L3699 1929.2L3697.5 1933.4L3696 1932.2L3694.5 1929.1L3693 1928.9L3691.5 1929.5L3690 1929.9L3688.5 1929.8L3687 1930L3685.5 1928.6L3684 1920.8L3682.5 1914.4L3681 1908.7L3679.4 1901.6L3677.9 1892.2L3676.4 1883.3L3674.9 1874.5L3673.4 1866.9L3671.9 1863.8L3670.4 1861.3L3668.9 1854.7L3667.4 1864.6L3665.9 1875.5L3664.4 1889.5L3662.9 1902.2L3661.4 1913.9L3659.8 1927.5L3658.3 1941.2L3656.8 1947.1L3655.3 1948.6L3653.8 1949.8L3652.3 1947.3L3650.8 1942.6L3649.3 1939.2L3647.8 1935L3646.3 1932.9L3644.8 1933.6L3643.3 1933.3L3641.8 1931L3640.2 1930.3L3638.7 1931.1L3637.2 1929.3L3635.7 1926.4L3634.2 1921.1L3632.7 1912.7L3631.2 1901.8L3629.7 1889.7L3628.2 1876.6L3626.7 1867.4L3625.2 1862.3L3623.7 1857.4L3622.2 1855.6L3620.6 1852.2L3619.1 1847L3617.6 1842.7L3616.1 1838.7L3614.6 1833.7L3613.1 1829.4L3611.6 1825.3L3610.1 1825.4L3608.6 1847.5L3607.1 1867.6L3605.6 1889.7L3604.1 1914.7L3602.6 1938.4L3601 1955.9L3599.5 1949.7L3598 1942.4L3596.5 1936L3595 1929.6L3593.5 1924L3592 1920.2L3590.5 1917.9L3589 1914.6L3587.5 1912.4L3586 1910.4L3584.5 1905.1L3583 1897.2L3581.4 1888.6L3579.9 1882.7L3578.4 1878.9L3576.9 1876.4L3575.4 1873.5L3573.9 1873L3572.4 1872.8L3570.9 1873L3569.4 1874.3L3567.9 1872L3566.4 1867.8L3564.9 1863.9L3563.4 1861.4L3561.8 1861.7L3560.3 1860.9L3558.8 1857.4L3557.3 1861.5L3555.8 1868.9L3554.3 1881.1L3552.8 1893.1L3551.3 1902.4L3549.8 1913.1L3548.3 1924.9L3546.8 1935.9L3545.3 1946.1L3543.8 1943.4L3542.2 1938.1L3540.7 1934.3L3539.2 1932.3L3537.7 1931.6L3536.2 1930.3L3534.7 1925.3L3533.2 1918.8L3531.7 1916.9L3530.2 1917.3L3528.7 1917.8L3527.2 1918.6L3525.7 1919.4L3524.2 1918.4L3522.6 1915.5L3521.1 1913.5L3519.6 1913.2L3518.1 1913L3516.6 1913.9L3515.1 1912.2L3513.6 1908L3512.1 1903.7L3510.6 1900.9L3509.1 1898.4L3507.6 1895.6L3506.1 1893.1L3504.6 1888.7L3503 1880.2L3501.5 1873.5L3500 1870.7L3498.5 1877.2L3497 1884.3L3495.5 1890.1L3494 1895.1L3492.5 1899.5L3491 1904.4L3489.5 1909.7L3488 1912.1L3486.5 1915.6L3485 1923.4L3483.4 1932.1L3481.9 1933.8L3480.4 1932.7L3478.9 1930.2L3477.4 1928L3475.9 1925.8L3474.4 1922.1L3472.9 1918.8L3471.4 1918.3L3469.9 1921.8L3468.4 1924.4L3466.9 1926.8L3465.4 1928.1L3463.8 1927.7L3462.3 1926.7L3460.8 1927.9L3459.3 1931.3L3457.8 1933.3L3456.3 1929.4L3454.8 1923.3Z" fill="#6399EE" fill-opacity="0.37"/><path d="M3454.8 1805.8L3456.3 1804.8L3457.8 1803.5L3459.3 1802.1L3460.8 1800.6L3462.3 1799.2L3463.8 1798.1L3465.4 1797.3L3466.9 1797.2L3468.4 1797.5L3469.9 1798.4L3471.4 1799.4L3472.9 1800.6L3474.4 1801.9L3475.9 1803.1L3477.4 1804.3L3478.9 1805.3L3480.4 1805.9L3481.9 1805.9L3483.4 1805.1L3485 1803.4L3486.5 1801L3488 1798.1L3489.5 1795.2L3491 1792.3L3492.5 1790L3494 1788.3L3495.5 1787.5L3497 1787.5L3498.5 1788.1L3500 1788.9L3501.5 1790L3503 1791L3504.6 1792.1L3506.1 1793.1L3507.6 1794L3509.1 1794.7L3510.6 1794.9L3512.1 1794.7L3513.6 1794.1L3515.1 1793.1L3516.6 1792L3518.1 1791L3519.6 1790.3L3521.1 1790.4L3522.6 1791.5L3524.2 1793.7L3525.7 1796.9L3527.2 1800.7L3528.7 1804.9L3530.2 1809.2L3531.7 1813.5L3533.2 1817.7L3534.7 1821.6L3536.2 1824.7L3537.7 1826.4L3539.2 1825.9L3540.7 1822.9L3542.2 1817.6L3543.8 1810.9L3545.3 1803.5L3546.8 1796L3548.3 1789.2L3549.8 1783.6L3551.3 1779.6L3552.8 1777.2L3554.3 1776.1L3555.8 1775.7L3557.3 1775.8L3558.8 1776L3560.3 1776.3L3561.8 1776.5L3563.4 1776.8L3564.9 1777.1L3566.4 1777.4L3567.9 1777.8L3569.4 1778.4L3570.9 1779.3L3572.4 1781L3573.9 1783.4L3575.4 1786.7L3576.9 1790.6L3578.4 1795L3579.9 1799.5L3581.4 1804.1L3583 1808.7L3584.5 1813.3L3586 1818L3587.5 1822.6L3589 1827.1L3590.5 1831.3L3592 1834.8L3593.5 1836.7L3595 1836.2L3596.5 1832.8L3598 1826.4L3599.5 1817.8L3601 1807.7L3602.6 1797.1L3604.1 1786.4L3605.6 1776.3L3607.1 1767.5L3608.6 1760.7L3610.1 1756.4L3611.6 1754.6L3613.1 1754.7L3614.6 1756L3616.1 1757.8L3617.6 1759.8L3619.1 1762L3620.6 1764.2L3622.2 1766.8L3623.7 1769.7L3625.2 1773L3626.7 1776.6L3628.2 1780.6L3629.7 1784.6L3631.2 1788.8L3632.7 1793L3634.2 1797.1L3635.7 1801.3L3637.2 1805.5L3638.7 1809.7L3640.2 1813.9L3641.8 1818L3643.3 1822.2L3644.8 1826.4L3646.3 1830.6L3647.8 1834.7L3649.3 1838.6L3650.8 1841.9L3652.3 1843.6L3653.8 1842.3L3655.3 1836.7L3656.8 1826.2L3658.3 1811.8L3659.8 1795.4L3661.4 1779.5L3662.9 1766.5L3664.4 1757.5L3665.9 1752.4L3667.4 1750.2L3668.9 1749.9L3670.4 1750.5L3671.9 1751.6L3673.4 1753.3L3674.9 1755.9L3676.4 1760L3677.9 1765.8L3679.4 1773.3L3681 1782L3682.5 1791.3L3684 1800.8L3685.5 1810L3687 1818.4L3688.5 1825.4L3690 1830.7L3691.5 1834.2L3693 1836.4L3694.5 1837.8L3696 1838.7L3697.5 1839.5L3699 1840.2L3700.6 1840.9L3702.1 1841.7L3703.6 1842.3L3705.1 1842.8L3706.6 1842.8L3708.1 1841.8L3709.6 1839.1L3711.1 1834.2L3712.6 1827L3714.1 1817.9L3715.6 1807.5L3717.1 1796.6L3718.6 1785.8L3720.2 1775.5L3721.7 1766.5L3723.2 1759.3L3724.7 1754.1L3726.2 1751L3727.7 1749.9L3729.2 1751.1L3730.7 1755.2L3732.2 1762.3L3733.7 1772.1L3735.2 1783.8L3736.7 1796.4L3738.2 1808.8L3739.8 1819.9L3741.3 1828.8L3742.8 1834.7L3744.3 1837.5L3745.8 1837.8L3747.3 1836.5L3748.8 1834.4L3750.3 1832L3751.8 1829.5L3753.3 1827L3754.8 1824.7L3756.3 1822.6L3757.8 1820.9L3759.4 1819.9L3760.9 1819.6L3762.4 1819.7L3763.9 1819.9L3765.4 1819.4L3766.9 1817.6L3768.4 1814L3769.9 1808.2L3771.4 1800.7L3772.9 1792.3L3774.4 1783.6L3775.9 1775.7L3777.4 1769.2L3779 1764.6L3780.5 1762L3782 1760.9L3783.5 1760.7L3785 1761.1L3786.5 1761.8L3788 1762.7L3789.5 1764.1L3791 1766.6L3792.5 1770.6L3794 1776.4L3795.5 1783.9L3797 1792.7L3798.6 1802L3800.1 1811.2L3801.6 1819.5L3803.1 1826.1L3804.6 1830.3L3806.1 1832.1L3807.6 1831.8L3809.1 1830.2L3810.6 1827.9L3812.1 1825.2L3813.6 1822.5L3815.1 1819.8L3816.6 1816.9L3818.2 1813.7L3819.7 1810L3821.2 1805.6L3822.7 1800.4L3824.2 1794.5L3825.7 1788.1L3827.2 1781.7L3828.7 1775.6L3830.2 1770.3L3831.7 1766.4L3833.2 1764.1L3834.7 1763.4L3836.2 1764L3837.8 1765.4L3839.3 1767.3L3840.8 1769.8L3842.3 1772.9L3843.8 1776.9L3845.3 1781.9L3846.8 1787.8L3848.3 1794.2L3849.8 1800.9L3851.3 1807.7L3852.8 1814.4L3854.3 1820.7L3855.8 1826.1L3857.4 1830.2L3858.9 1832.3L3860.4 1832.7L3861.9 1831.4L3863.4 1829.3L3864.9 1826.6L3866.4 1823.6L3867.9 1820.5L3869.4 1817.1L3870.9 1813.2L3872.4 1808.8L3873.9 1803.8L3875.4 1798.3L3877 1792.6L3878.5 1786.9L3880 1781.6L3881.5 1776.9L3883 1773.2L3884.5 1770.8L3886 1769.6L3887.5 1769.3L3889 1770L3890.5 1771.6L3892 1774.2L3893.5 1777.7L3895 1781.9L3896.6 1786.4L3898.1 1791.1L3899.6 1795.9L3901.1 1800.5L3902.6 1804.8L3904.1 1808.6L3905.6 1811.5" stroke="#6FA3F0" stroke-width="2.3" stroke-dasharray="7.4 3.2" fill="none" stroke-linejoin="round"/></g><path d="M3454.8 1596V1992.2H3905.6M3454.8 1992.2v5M3567.5 1992.2v5M3680.2 1992.2v5M3792.9 1992.2v5M3905.6 1992.2v5M3454.8 1992.2h-5M3454.8 1941.4h-5M3454.8 1890.5h-5M3454.8 1839.6h-5M3454.8 1788.8h-5M3454.8 1737.9h-5M3454.8 1687h-5M3454.8 1636.1h-5M3454.8 1585.2h-5" stroke="#000" stroke-width="1.3" fill="none"/><g transform="translate(3443.89,2014.55)"><text font-family="'Liberation Serif', serif" font-size="20.5" fill="#000"><tspan x="0" y="0">−2</tspan></text></g><g transform="translate(3556.59,2014.55)"><text font-family="'Liberation Serif', serif" font-size="20.5" fill="#000"><tspan x="0" y="0">−1</tspan></text></g><g transform="translate(3675.07,2014.55)"><text font-family="'Liberation Serif', serif" font-size="20.5" fill="#000"><tspan x="0" y="0">0</tspan></text></g><g transform="translate(3787.78,2014.55)"><text font-family="'Liberation Serif', serif" font-size="20.5" fill="#000"><tspan x="0" y="0">1</tspan></text></g><g transform="translate(3900.47,2014.55)"><text font-family="'Liberation Serif', serif" font-size="20.5" fill="#000"><tspan x="0" y="0">2</tspan></text></g><g transform="translate(3674.43,2040)"><text font-family="'Liberation Serif', serif" font-style="italic" font-size="26" fill="#000"><tspan x="0" y="0">x</tspan></text></g><path d="M3631.5 1811.1h6.8v6.8h-6.8zM3546.8 1670h6.8v6.8h-6.8zM3857.5 1853.4h6.8v6.8h-6.8zM3583.4 1797h6.8v6.8h-6.8zM3894.6 1664.6h6.8v6.8h-6.8zM3455.3 1764.5h6.8v6.8h-6.8zM3898.6 1831.5h6.8v6.8h-6.8zM3586.8 1875.5h6.8v6.8h-6.8zM3555 1703.1h6.8v6.8h-6.8zM3480.8 1871.8h6.8v6.8h-6.8zM3806.6 1777.7h6.8v6.8h-6.8zM3648.1 1746.7h6.8v6.8h-6.8zM3714 1796.6h6.8v6.8h-6.8zM3634.8 1757.3h6.8v6.8h-6.8zM3844.3 1784.1h6.8v6.8h-6.8zM3732.8 1706.7h6.8v6.8h-6.8zM3820.9 1774.2h6.8v6.8h-6.8zM3604.1 1801.6h6.8v6.8h-6.8zM3806.4 1804.7h6.8v6.8h-6.8zM3504.2 1781.6h6.8v6.8h-6.8zM3881.7 1801.6h6.8v6.8h-6.8zM3482.8 1811h6.8v6.8h-6.8zM3717.6 1835.4h6.8v6.8h-6.8zM3563.8 1821.7h6.8v6.8h-6.8zM3585.6 1786.3h6.8v6.8h-6.8zM3682.4 1913.7h6.8v6.8h-6.8zM3469.3 1780.6h6.8v6.8h-6.8zM3607.4 1750.9h6.8v6.8h-6.8zM3567.4 1809.1h6.8v6.8h-6.8zM3806.5 1744.5h6.8v6.8h-6.8zM3823.3 1740.1h6.8v6.8h-6.8zM3697.8 1871.3h6.8v6.8h-6.8zM3746.4 1817.2h6.8v6.8h-6.8zM3643.9 1777.1h6.8v6.8h-6.8zM3521.5 1881.3h6.8v6.8h-6.8zM3831.4 1747.1h6.8v6.8h-6.8zM3627.1 1797.1h6.8v6.8h-6.8zM3638.5 1792h6.8v6.8h-6.8zM3890.9 1655.2h6.8v6.8h-6.8zM3895 1825.6h6.8v6.8h-6.8zM3600.7 1801.6h6.8v6.8h-6.8zM3828.9 1830.2h6.8v6.8h-6.8zM3808.9 1808.6h6.8v6.8h-6.8zM3597.4 1769.7h6.8v6.8h-6.8zM3710.3 1948.1h6.8v6.8h-6.8zM3874.9 1699.4h6.8v6.8h-6.8zM3637.5 1720.3h6.8v6.8h-6.8zM3647.2 1948.1h6.8v6.8h-6.8zM3666.2 1832.9h6.8v6.8h-6.8zM3857.2 1801.3h6.8v6.8h-6.8zM3505.8 1785.2h6.8v6.8h-6.8zM3518.8 1719.7h6.8v6.8h-6.8z" fill="#000"/><g fill="#0A0AE6"><circle cx="3668.9" cy="1737.9" r="4.2"/><circle cx="3725.3" cy="1737.9" r="4.2"/></g><rect x="2515.7" y="1561.6" width="1287.2" height="33.1" rx="4" fill="#ECECEC"/><g fill="#0A0AE6"><circle cx="2543.6" cy="1578" r="3.7"/></g><g transform="translate(2565.5,1583.6) scale(0.9822,1)"><text font-family="'Liberation Serif', serif" font-size="20.5" fill="#000"><tspan x="0" y="0">Original context</tspan></text></g><path d="M2757.8 1573.1l4.9 8.8h-9.8z" fill="#3A7A22"/><g transform="translate(2779.8,1583.6) scale(0.9696,1)"><text font-family="'Liberation Serif', serif" font-size="20.5" fill="#000"><tspan x="0" y="0">Auxiliary context #1</tspan></text></g><path d="M3006.3 1573.1l4.9 8.8h-9.8z" fill="#C0282B"/><g transform="translate(3028.9,1583.6) scale(0.9737,1)"><text font-family="'Liberation Serif', serif" font-size="20.5" fill="#000"><tspan x="0" y="0">Auxiliary context #2</tspan></text></g><path d="M3251.6 1574.5l7 7m0 -7l-7 7" stroke="#E1812C" stroke-width="2.1" fill="none"/><g transform="translate(3277.4,1583.6) scale(0.9744,1)"><text font-family="'Liberation Serif', serif" font-size="20.5" fill="#000"><tspan x="0" y="0">Original targets</tspan></text></g><path d="M3442.9 1577.5H3483.3" stroke="#6FA3F0" stroke-width="2.3" stroke-dasharray="7.4 3.2"/><g transform="translate(3485.1,1583.6) scale(0.9720,1)"><text font-family="'Liberation Serif', serif" font-size="20.5" fill="#000"><tspan x="0" y="0">Prediction</tspan></text></g><path d="M3625.2 1574.6h6.8v6.8h-6.8z" fill="#000"/><g transform="translate(3650.6,1583.6) scale(0.9779,1)"><text font-family="'Liberation Serif', serif" font-size="20.5" fill="#000"><tspan x="0" y="0">Prediction sample</tspan></text></g><g transform="translate(2425,1777) rotate(-90)"><g transform="translate(-5.77,0)"><text font-family="'Liberation Serif', serif" font-style="italic" font-size="26" fill="#000"><tspan x="0" y="0">y</tspan></text></g></g></g>
<g id="fig5"><path d="M2520.7 2622.3V2202.6M2744.5 2622.3V2202.6M2968.3 2622.3V2202.6M3192.1 2622.3V2202.6M3415.9 2622.3V2202.6M3639.7 2622.3V2202.6M3863.5 2622.3V2202.6M2476.6 2606.8H3909.2M2476.6 2522.8H3909.2M2476.6 2438.8H3909.2M2476.6 2354.8H3909.2M2476.6 2270.7H3909.2" stroke="#e3e3e3" stroke-width="1.3" fill="none"/><path d="M2520.7 2537.5L2565.5 2403.5L2610.2 2383.3L2655 2325.4L2699.8 2298L2744.5 2292.6L2789.3 2277L2834 2255.2L2878.8 2249.7L2923.6 2243L2968.3 2239.2L3013.1 2242.2L3057.8 2237.6L3102.6 2234.6L3147.4 2235.5L3192.1 2235.9L3236.9 2231.7L3281.6 2231.7L3326.4 2227.9L3371.2 2229.6L3415.9 2227.9L3460.7 2231.2L3505.5 2226.6L3550.2 2230.8L3595 2232.1L3639.7 2232.1L3684.5 2221.2L3729.3 2222.4L3774 2221.6L3818.8 2222.8L3863.5 2223.7" stroke="#4C72B0" stroke-width="2" fill="none" stroke-linejoin="round"/><path d="M2516.5 2533.3l8.4 8.4m0 -8.4l-8.4 8.4M2561.3 2399.3l8.4 8.4m0 -8.4l-8.4 8.4M2606 2379.1l8.4 8.4m0 -8.4l-8.4 8.4M2650.8 2321.2l8.4 8.4m0 -8.4l-8.4 8.4M2695.6 2293.8l8.4 8.4m0 -8.4l-8.4 8.4M2740.3 2288.4l8.4 8.4m0 -8.4l-8.4 8.4M2785.1 2272.8l8.4 8.4m0 -8.4l-8.4 8.4M2829.8 2251l8.4 8.4m0 -8.4l-8.4 8.4M2874.6 2245.5l8.4 8.4m0 -8.4l-8.4 8.4M2919.4 2238.8l8.4 8.4m0 -8.4l-8.4 8.4M2964.1 2235l8.4 8.4m0 -8.4l-8.4 8.4M3008.9 2238l8.4 8.4m0 -8.4l-8.4 8.4M3053.6 2233.4l8.4 8.4m0 -8.4l-8.4 8.4M3098.4 2230.4l8.4 8.4m0 -8.4l-8.4 8.4M3143.2 2231.3l8.4 8.4m0 -8.4l-8.4 8.4M3187.9 2231.7l8.4 8.4m0 -8.4l-8.4 8.4M3232.7 2227.5l8.4 8.4m0 -8.4l-8.4 8.4M3277.4 2227.5l8.4 8.4m0 -8.4l-8.4 8.4M3322.2 2223.7l8.4 8.4m0 -8.4l-8.4 8.4M3367 2225.4l8.4 8.4m0 -8.4l-8.4 8.4M3411.7 2223.7l8.4 8.4m0 -8.4l-8.4 8.4M3456.5 2227l8.4 8.4m0 -8.4l-8.4 8.4M3501.3 2222.4l8.4 8.4m0 -8.4l-8.4 8.4M3546 2226.6l8.4 8.4m0 -8.4l-8.4 8.4M3590.8 2227.9l8.4 8.4m0 -8.4l-8.4 8.4M3635.5 2227.9l8.4 8.4m0 -8.4l-8.4 8.4M3680.3 2217l8.4 8.4m0 -8.4l-8.4 8.4M3725.1 2218.2l8.4 8.4m0 -8.4l-8.4 8.4M3769.8 2217.4l8.4 8.4m0 -8.4l-8.4 8.4M3814.6 2218.6l8.4 8.4m0 -8.4l-8.4 8.4M3859.3 2219.5l8.4 8.4m0 -8.4l-8.4 8.4" stroke="#4C72B0" stroke-width="1.9" fill="none"/><path d="M2520.7 2603.5L2565.5 2603.1L2610.2 2602.6L2655 2601.8L2699.8 2600.5L2744.5 2599.7L2789.3 2596.8L2834 2590L2878.8 2579.5L2923.6 2538.8L2968.3 2518.6L3013.1 2496.8L3057.8 2478.7L3102.6 2467.8L3147.4 2449.7L3192.1 2443L3236.9 2438.8L3281.6 2428.7L3326.4 2421.1L3371.2 2419L3415.9 2416.1L3460.7 2398.5L3505.5 2392.6L3550.2 2389.6L3595 2385.9L3639.7 2368.6L3684.5 2366.5L3729.3 2359L3774 2357.7L3818.8 2349.3L3863.5 2359" stroke="#DD8435" stroke-width="2" fill="none" stroke-linejoin="round"/><path d="M2516.5 2599.3l8.4 8.4m0 -8.4l-8.4 8.4M2561.3 2598.9l8.4 8.4m0 -8.4l-8.4 8.4M2606 2598.4l8.4 8.4m0 -8.4l-8.4 8.4M2650.8 2597.6l8.4 8.4m0 -8.4l-8.4 8.4M2695.6 2596.3l8.4 8.4m0 -8.4l-8.4 8.4M2740.3 2595.5l8.4 8.4m0 -8.4l-8.4 8.4M2785.1 2592.6l8.4 8.4m0 -8.4l-8.4 8.4M2829.8 2585.8l8.4 8.4m0 -8.4l-8.4 8.4M2874.6 2575.3l8.4 8.4m0 -8.4l-8.4 8.4M2919.4 2534.6l8.4 8.4m0 -8.4l-8.4 8.4M2964.1 2514.4l8.4 8.4m0 -8.4l-8.4 8.4M3008.9 2492.6l8.4 8.4m0 -8.4l-8.4 8.4M3053.6 2474.5l8.4 8.4m0 -8.4l-8.4 8.4M3098.4 2463.6l8.4 8.4m0 -8.4l-8.4 8.4M3143.2 2445.5l8.4 8.4m0 -8.4l-8.4 8.4M3187.9 2438.8l8.4 8.4m0 -8.4l-8.4 8.4M3232.7 2434.6l8.4 8.4m0 -8.4l-8.4 8.4M3277.4 2424.5l8.4 8.4m0 -8.4l-8.4 8.4M3322.2 2416.9l8.4 8.4m0 -8.4l-8.4 8.4M3367 2414.8l8.4 8.4m0 -8.4l-8.4 8.4M3411.7 2411.9l8.4 8.4m0 -8.4l-8.4 8.4M3456.5 2394.3l8.4 8.4m0 -8.4l-8.4 8.4M3501.3 2388.4l8.4 8.4m0 -8.4l-8.4 8.4M3546 2385.4l8.4 8.4m0 -8.4l-8.4 8.4M3590.8 2381.7l8.4 8.4m0 -8.4l-8.4 8.4M3635.5 2364.4l8.4 8.4m0 -8.4l-8.4 8.4M3680.3 2362.3l8.4 8.4m0 -8.4l-8.4 8.4M3725.1 2354.8l8.4 8.4m0 -8.4l-8.4 8.4M3769.8 2353.5l8.4 8.4m0 -8.4l-8.4 8.4M3814.6 2345.1l8.4 8.4m0 -8.4l-8.4 8.4M3859.3 2354.8l8.4 8.4m0 -8.4l-8.4 8.4" stroke="#DD8435" stroke-width="1.9" fill="none"/><path d="M2520.7 2495.5L2565.5 2478.3L2610.2 2466.5L2655 2453.1L2699.8 2451.4L2744.5 2428.7L2789.3 2414.8L2834 2376.6L2878.8 2374.9L2923.6 2358.1L2968.3 2368.6L3013.1 2353.9L3057.8 2343.8L3102.6 2332.9L3147.4 2311.5L3192.1 2317.4L3236.9 2309.4L3281.6 2295.1L3326.4 2313.6L3371.2 2287.5L3415.9 2303.1L3460.7 2296.8L3505.5 2288.8L3550.2 2286.7L3595 2269.1L3639.7 2294.7L3684.5 2253.9L3729.3 2280.4L3774 2258.6L3818.8 2254.8L3863.5 2267.4" stroke="#59A03C" stroke-width="2" fill="none" stroke-linejoin="round"/><path d="M2516.5 2491.3l8.4 8.4m0 -8.4l-8.4 8.4M2561.3 2474.1l8.4 8.4m0 -8.4l-8.4 8.4M2606 2462.3l8.4 8.4m0 -8.4l-8.4 8.4M2650.8 2448.9l8.4 8.4m0 -8.4l-8.4 8.4M2695.6 2447.2l8.4 8.4m0 -8.4l-8.4 8.4M2740.3 2424.5l8.4 8.4m0 -8.4l-8.4 8.4M2785.1 2410.6l8.4 8.4m0 -8.4l-8.4 8.4M2829.8 2372.4l8.4 8.4m0 -8.4l-8.4 8.4M2874.6 2370.7l8.4 8.4m0 -8.4l-8.4 8.4M2919.4 2353.9l8.4 8.4m0 -8.4l-8.4 8.4M2964.1 2364.4l8.4 8.4m0 -8.4l-8.4 8.4M3008.9 2349.7l8.4 8.4m0 -8.4l-8.4 8.4M3053.6 2339.6l8.4 8.4m0 -8.4l-8.4 8.4M3098.4 2328.7l8.4 8.4m0 -8.4l-8.4 8.4M3143.2 2307.3l8.4 8.4m0 -8.4l-8.4 8.4M3187.9 2313.2l8.4 8.4m0 -8.4l-8.4 8.4M3232.7 2305.2l8.4 8.4m0 -8.4l-8.4 8.4M3277.4 2290.9l8.4 8.4m0 -8.4l-8.4 8.4M3322.2 2309.4l8.4 8.4m0 -8.4l-8.4 8.4M3367 2283.3l8.4 8.4m0 -8.4l-8.4 8.4M3411.7 2298.9l8.4 8.4m0 -8.4l-8.4 8.4M3456.5 2292.6l8.4 8.4m0 -8.4l-8.4 8.4M3501.3 2284.6l8.4 8.4m0 -8.4l-8.4 8.4M3546 2282.5l8.4 8.4m0 -8.4l-8.4 8.4M3590.8 2264.9l8.4 8.4m0 -8.4l-8.4 8.4M3635.5 2290.5l8.4 8.4m0 -8.4l-8.4 8.4M3680.3 2249.7l8.4 8.4m0 -8.4l-8.4 8.4M3725.1 2276.2l8.4 8.4m0 -8.4l-8.4 8.4M3769.8 2254.4l8.4 8.4m0 -8.4l-8.4 8.4M3814.6 2250.6l8.4 8.4m0 -8.4l-8.4 8.4M3859.3 2263.2l8.4 8.4m0 -8.4l-8.4 8.4" stroke="#59A03C" stroke-width="1.9" fill="none"/><path d="M2520.7 2603.5L2565.5 2603.1L2610.2 2602.2L2655 2601L2699.8 2597.6L2744.5 2594.2L2789.3 2582.5L2834 2563.6L2878.8 2551L2923.6 2530L2968.3 2505.2L3013.1 2474.9L3057.8 2464L3102.6 2435.4L3147.4 2426.2L3192.1 2407.7L3236.9 2400.6L3281.6 2409L3326.4 2403.1L3371.2 2393.8L3415.9 2382.1L3460.7 2363.6L3505.5 2349.3L3550.2 2340.1L3595 2335.4L3639.7 2329.6L3684.5 2330L3729.3 2328.3L3774 2319.1L3818.8 2323.7L3863.5 2318.2" stroke="#B8292F" stroke-width="2" fill="none" stroke-linejoin="round"/><path d="M2516.5 2599.3l8.4 8.4m0 -8.4l-8.4 8.4M2561.3 2598.9l8.4 8.4m0 -8.4l-8.4 8.4M2606 2598l8.4 8.4m0 -8.4l-8.4 8.4M2650.8 2596.8l8.4 8.4m0 -8.4l-8.4 8.4M2695.6 2593.4l8.4 8.4m0 -8.4l-8.4 8.4M2740.3 2590l8.4 8.4m0 -8.4l-8.4 8.4M2785.1 2578.3l8.4 8.4m0 -8.4l-8.4 8.4M2829.8 2559.4l8.4 8.4m0 -8.4l-8.4 8.4M2874.6 2546.8l8.4 8.4m0 -8.4l-8.4 8.4M2919.4 2525.8l8.4 8.4m0 -8.4l-8.4 8.4M2964.1 2501l8.4 8.4m0 -8.4l-8.4 8.4M3008.9 2470.7l8.4 8.4m0 -8.4l-8.4 8.4M3053.6 2459.8l8.4 8.4m0 -8.4l-8.4 8.4M3098.4 2431.2l8.4 8.4m0 -8.4l-8.4 8.4M3143.2 2422l8.4 8.4m0 -8.4l-8.4 8.4M3187.9 2403.5l8.4 8.4m0 -8.4l-8.4 8.4M3232.7 2396.4l8.4 8.4m0 -8.4l-8.4 8.4M3277.4 2404.8l8.4 8.4m0 -8.4l-8.4 8.4M3322.2 2398.9l8.4 8.4m0 -8.4l-8.4 8.4M3367 2389.6l8.4 8.4m0 -8.4l-8.4 8.4M3411.7 2377.9l8.4 8.4m0 -8.4l-8.4 8.4M3456.5 2359.4l8.4 8.4m0 -8.4l-8.4 8.4M3501.3 2345.1l8.4 8.4m0 -8.4l-8.4 8.4M3546 2335.9l8.4 8.4m0 -8.4l-8.4 8.4M3590.8 2331.2l8.4 8.4m0 -8.4l-8.4 8.4M3635.5 2325.4l8.4 8.4m0 -8.4l-8.4 8.4M3680.3 2325.8l8.4 8.4m0 -8.4l-8.4 8.4M3725.1 2324.1l8.4 8.4m0 -8.4l-8.4 8.4M3769.8 2314.9l8.4 8.4m0 -8.4l-8.4 8.4M3814.6 2319.5l8.4 8.4m0 -8.4l-8.4 8.4M3859.3 2314l8.4 8.4m0 -8.4l-8.4 8.4" stroke="#B8292F" stroke-width="1.9" fill="none"/><path d="M2476.6 2202.6V2622.3H3909.2M2520.7 2622.3v5M2744.5 2622.3v5M2968.3 2622.3v5M3192.1 2622.3v5M3415.9 2622.3v5M3639.7 2622.3v5M3863.5 2622.3v5M2476.6 2606.8h-5M2476.6 2522.8h-5M2476.6 2438.8h-5M2476.6 2354.8h-5M2476.6 2270.7h-5" stroke="#000" stroke-width="1.3" fill="none"/><g transform="translate(2515.58,2644.62)"><text font-family="'Liberation Serif', serif" font-size="20.5" fill="#000"><tspan x="0" y="0">0</tspan></text></g><g transform="translate(2739.39,2644.62)"><text font-family="'Liberation Serif', serif" font-size="20.5" fill="#000"><tspan x="0" y="0">5</tspan></text></g><g transform="translate(2958.07,2644.62)"><text font-family="'Liberation Serif', serif" font-size="20.5" fill="#000"><tspan x="0" y="0">10</tspan></text></g><g transform="translate(3181.87,2644.62)"><text font-family="'Liberation Serif', serif" font-size="20.5" fill="#000"><tspan x="0" y="0">15</tspan></text></g><g transform="translate(3405.68,2644.62)"><text font-family="'Liberation Serif', serif" font-size="20.5" fill="#000"><tspan x="0" y="0">20</tspan></text></g><g transform="translate(3629.49,2644.62)"><text font-family="'Liberation Serif', serif" font-size="20.5" fill="#000"><tspan x="0" y="0">25</tspan></text></g><g transform="translate(3853.29,2644.62)"><text font-family="'Liberation Serif', serif" font-size="20.5" fill="#000"><tspan x="0" y="0">30</tspan></text></g><g transform="translate(2457.82,2613.64)"><text font-family="'Liberation Serif', serif" font-size="20.5" fill="#000"><tspan x="0" y="0">0</tspan></text></g><g transform="translate(2447.57,2529.61)"><text font-family="'Liberation Serif', serif" font-size="20.5" fill="#000"><tspan x="0" y="0">20</tspan></text></g><g transform="translate(2447.57,2445.59)"><text font-family="'Liberation Serif', serif" font-size="20.5" fill="#000"><tspan x="0" y="0">40</tspan></text></g><g transform="translate(2447.57,2361.56)"><text font-family="'Liberation Serif', serif" font-size="20.5" fill="#000"><tspan x="0" y="0">60</tspan></text></g><g transform="translate(2447.57,2277.54)"><text font-family="'Liberation Serif', serif" font-size="20.5" fill="#000"><tspan x="0" y="0">80</tspan></text></g><rect x="3713.3" y="2508.5" width="185.9" height="103" rx="4" fill="#ECECEC"/><path d="M3720.3 2523.2H3762.1" stroke="#4C72B0" stroke-width="2"/><path d="M3737 2519l8.4 8.4m0 -8.4l-8.4 8.4" stroke="#4C72B0" stroke-width="1.9" fill="none"/><g transform="translate(3776.03,2529.7) scale(0.9819,1)"><text font-family="'Liberation Serif', serif" font-size="20.5" fill="#000"><tspan x="0" y="0">DNP</tspan></text></g><path d="M3720.3 2546.7H3762.1" stroke="#DD8435" stroke-width="2"/><path d="M3737 2542.5l8.4 8.4m0 -8.4l-8.4 8.4" stroke="#DD8435" stroke-width="1.9" fill="none"/><g transform="translate(3776.03,2553.16) scale(0.9737,1)"><text font-family="'Liberation Serif', serif" font-size="20.5" fill="#000"><tspan x="0" y="0">ConvCNP</tspan></text></g><path d="M3720.3 2570.1H3762.1" stroke="#59A03C" stroke-width="2"/><path d="M3737 2565.9l8.4 8.4m0 -8.4l-8.4 8.4" stroke="#59A03C" stroke-width="1.9" fill="none"/><g transform="translate(3776.03,2576.63) scale(0.9721,1)"><text font-family="'Liberation Serif', serif" font-size="20.5" fill="#000"><tspan x="0" y="0">AR ConvCNP</tspan></text></g><path d="M3720.3 2593.6H3762.1" stroke="#B8292F" stroke-width="2"/><path d="M3737 2589.4l8.4 8.4m0 -8.4l-8.4 8.4" stroke="#B8292F" stroke-width="1.9" fill="none"/><g transform="translate(3776.03,2600.09) scale(0.9699,1)"><text font-family="'Liberation Serif', serif" font-size="20.5" fill="#000"><tspan x="0" y="0">ConvGNP</tspan></text></g><g transform="translate(3110.81,2677.31) scale(1.0752,1)"><text font-family="'Liberation Serif', serif" font-size="24" fill="#000"><tspan x="0" y="0">Context set size</tspan></text></g><g transform="translate(2431.7,2411.7) rotate(-90)"><g transform="translate(-56.53,0) scale(1.0736,1)"><text font-family="'Liberation Serif', serif" font-size="24" fill="#000"><tspan x="0" y="0">Likelihood</tspan></text></g></g></g>
<g stroke="#6399EE" stroke-width="0.5" stroke-linejoin="round"><g transform="translate(1031.2,2603) scale(0.9534,1)"><text font-family="'Liberation Sans', sans-serif" font-weight="bold" font-size="53.5" fill="#6399EE"><tspan x="0" y="0" letter-spacing="0.9">References</tspan></text></g></g><rect x="102" y="2632.2" width="2140.9" height="1.6" fill="#222"/>
<g transform="translate(103,2671.5) scale(0.9865,1)"><text font-family="'Liberation Sans', sans-serif" font-size="31" fill="#000" stroke="#fff" stroke-width="0.7"><tspan x="0" y="0">[1]</tspan></text></g>
<g transform="translate(103,2708) scale(0.9865,1)"><text font-family="'Liberation Sans', sans-serif" font-size="31" fill="#000" stroke="#fff" stroke-width="0.7"><tspan x="0" y="0">[2]</tspan></text></g>
<g transform="translate(103,2744.6) scale(0.9865,1)"><text font-family="'Liberation Sans', sans-serif" font-size="31" fill="#000" stroke="#fff" stroke-width="0.7"><tspan x="0" y="0">[3]</tspan></text></g>
<g transform="translate(163.6,2671.5) scale(0.9044,1)"><text font-family="'Liberation Sans', sans-serif" font-size="31" fill="#000" stroke="#fff" stroke-width="0.7"><tspan x="0" y="0">W. Bruinsma, S. Markou, J. Requeima, </tspan><tspan x="544.39" y="0" font-family="'Liberation Sans', sans-serif" font-style="italic">et al.</tspan><tspan x="611.6" y="0">, “Autoregressive Conditional Neural Processes,” in </tspan><tspan x="1323.19" y="0" font-family="'Liberation Sans', sans-serif" font-style="italic">11th International Conference on Learning Representations</tspan><tspan x="2138.36" y="0">, 2023.</tspan></text></g>
<g transform="translate(163.6,2708) scale(0.9124,1)"><text font-family="'Liberation Sans', sans-serif" font-size="31" fill="#000" stroke="#fff" stroke-width="0.7"><tspan x="0" y="0">M. Garnelo, D. Rosenbaum, C. Maddison, </tspan><tspan x="585.81" y="0" font-family="'Liberation Sans', sans-serif" font-style="italic">et al.</tspan><tspan x="653.01" y="0">, “Conditional Neural Processes,” in </tspan><tspan x="1149.23" y="0" font-family="'Liberation Sans', sans-serif" font-style="italic">35th International Conference on Machine Learning</tspan><tspan x="1855.82" y="0">, 2018.</tspan></text></g>
<g transform="translate(163.6,2744.6) scale(0.9600,1)"><text font-family="'Liberation Sans', sans-serif" font-size="31" fill="#000" word-spacing="-1.09" stroke="#fff" stroke-width="0.7"><tspan x="0" y="0">S. Markou, J. Requeima, W. P. Bruinsma, A. Vaughan, and R. E. Turner, “Practical Conditional Neural Processes Via Tractable Dependent Predictions,” in </tspan><tspan x="2103.94" y="0" font-family="'Liberation Sans', sans-serif" font-style="italic">10th</tspan></text></g>
<g transform="translate(163.6,2781) scale(0.8837,1)"><text font-family="'Liberation Sans', sans-serif" font-size="31" fill="#000" stroke="#fff" stroke-width="0.7"><tspan x="0" y="0" font-family="'Liberation Sans', sans-serif" font-style="italic">International Conference on Learning Representations</tspan><tspan x="746.23" y="0">, 2022.</tspan></text></g>
</svg>
</div>
</body>
</html>
